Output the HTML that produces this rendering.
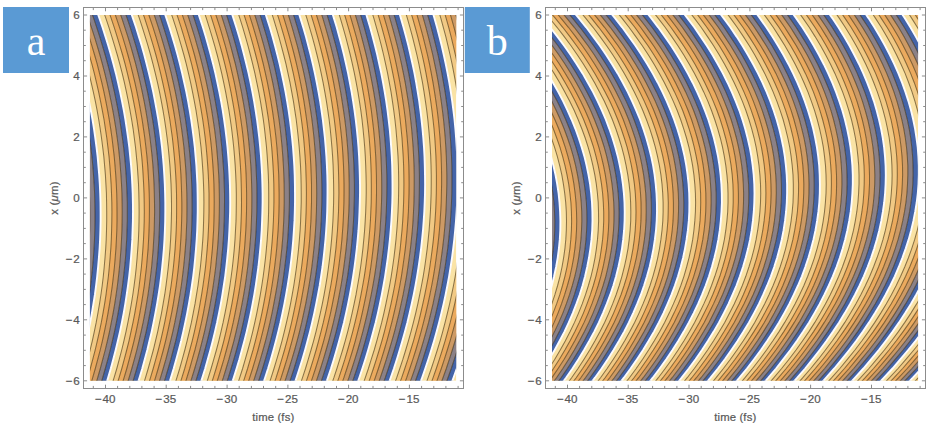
<!DOCTYPE html><html><head><meta charset="utf-8"><style>html,body{margin:0;padding:0;background:#fff;width:927px;height:425px;overflow:hidden}svg{display:block}text{font-family:"Liberation Sans",sans-serif}</style></head><body>
<svg width="927" height="425" viewBox="0 0 927 425">
<rect width="927" height="425" fill="#fff"/>
<clipPath id="c0"><rect x="89.9" y="15" width="366.4" height="365.8"/></clipPath>
<g clip-path="url(#c0)">
<rect x="89.9" y="15" width="366.4" height="365.8" fill="#fae3a5"/>
<path d="M46.1,8.9 49.4,18.1 52.6,27.3 55.7,36.6 58.6,45.8 61.3,55 63.9,64.2 66.4,73.4 68.7,82.7 70.8,91.9 72.8,101.1 74.6,110.3 76.3,119.5 77.8,128.8 79.2,138 80.4,147.2 81.5,156.4 82.4,165.6 83.1,174.9 83.8,184.1 84.2,193.3 84.5,202.5 84.7,211.7 84.7,220.9 84.5,230.2 84.2,239.4 83.8,248.6 83.1,257.8 82.4,267 81.5,276.3 80.4,285.5 79.2,294.7 77.8,303.9 76.3,313.1 74.6,322.4 72.7,331.6 70.8,340.8 68.6,350 66.3,359.2 63.9,368.5 61.3,377.7 58.5,386.9 63.5,386.9 66.3,377.7 68.9,368.5 71.3,359.2 73.6,350 75.8,340.8 77.8,331.6 79.6,322.4 81.3,313.1 82.9,303.9 84.2,294.7 85.5,285.5 86.5,276.3 87.5,267 88.2,257.8 88.9,248.6 89.3,239.4 89.7,230.2 89.8,220.9 89.8,211.7 89.7,202.5 89.4,193.3 88.9,184.1 88.3,174.9 87.6,165.6 86.7,156.4 85.6,147.2 84.4,138 83,128.8 81.5,119.5 79.9,110.3 78,101.1 76.1,91.9 73.9,82.7 71.6,73.4 69.2,64.2 66.6,55 63.9,45.8 61,36.6 57.9,27.3 54.8,18.1 51.4,8.9Z" fill="#cd9a65"/>
<path d="M51.4,8.9 54.8,18.1 57.9,27.3 61,36.6 63.9,45.8 66.6,55 69.2,64.2 71.6,73.4 73.9,82.7 76.1,91.9 78,101.1 79.9,110.3 81.5,119.5 83,128.8 84.4,138 85.6,147.2 86.7,156.4 87.6,165.6 88.3,174.9 88.9,184.1 89.4,193.3 89.7,202.5 89.8,211.7 89.8,220.9 89.7,230.2 89.3,239.4 88.9,248.6 88.2,257.8 87.5,267 86.5,276.3 85.5,285.5 84.2,294.7 82.9,303.9 81.3,313.1 79.6,322.4 77.8,331.6 75.8,340.8 73.6,350 71.3,359.2 68.9,368.5 66.3,377.7 63.5,386.9 68.5,386.9 71.3,377.7 73.9,368.5 76.4,359.2 78.7,350 80.8,340.8 82.8,331.6 84.7,322.4 86.4,313.1 87.9,303.9 89.3,294.7 90.6,285.5 91.6,276.3 92.6,267 93.4,257.8 94,248.6 94.5,239.4 94.8,230.2 95,220.9 95,211.7 94.8,202.5 94.6,193.3 94.1,184.1 93.5,174.9 92.8,165.6 91.9,156.4 90.8,147.2 89.6,138 88.3,128.8 86.8,119.5 85.1,110.3 83.3,101.1 81.3,91.9 79.2,82.7 76.9,73.4 74.5,64.2 71.9,55 69.2,45.8 66.3,36.6 63.3,27.3 60.1,18.1 56.7,8.9Z" fill="#8b8187"/>
<path d="M56.7,8.9 60.1,18.1 63.3,27.3 66.3,36.6 69.2,45.8 71.9,55 74.5,64.2 76.9,73.4 79.2,82.7 81.3,91.9 83.3,101.1 85.1,110.3 86.8,119.5 88.3,128.8 89.6,138 90.8,147.2 91.9,156.4 92.8,165.6 93.5,174.9 94.1,184.1 94.6,193.3 94.8,202.5 95,211.7 95,220.9 94.8,230.2 94.5,239.4 94,248.6 93.4,257.8 92.6,267 91.6,276.3 90.6,285.5 89.3,294.7 87.9,303.9 86.4,313.1 84.7,322.4 82.8,331.6 80.8,340.8 78.7,350 76.4,359.2 73.9,368.5 71.3,377.7 68.5,386.9 74,386.9 76.7,377.7 79.4,368.5 81.8,359.2 84.1,350 86.3,340.8 88.3,331.6 90.2,322.4 91.9,313.1 93.4,303.9 94.9,294.7 96.1,285.5 97.2,276.3 98.1,267 98.9,257.8 99.6,248.6 100.1,239.4 100.4,230.2 100.6,220.9 100.6,211.7 100.5,202.5 100.2,193.3 99.8,184.1 99.2,174.9 98.4,165.6 97.6,156.4 96.5,147.2 95.3,138 94,128.8 92.5,119.5 90.8,110.3 89,101.1 87.1,91.9 84.9,82.7 82.7,73.4 80.3,64.2 77.7,55 75,45.8 72.1,36.6 69.1,27.3 65.9,18.1 62.6,8.9Z" fill="#4464a8"/>
<path d="M68.9,8.9 72.3,18.1 75.4,27.3 78.4,36.6 81.3,45.8 84,55 86.6,64.2 89,73.4 91.2,82.7 93.3,91.9 95.3,101.1 97.1,110.3 98.7,119.5 100.2,128.8 101.5,138 102.7,147.2 103.8,156.4 104.6,165.6 105.4,174.9 105.9,184.1 106.4,193.3 106.6,202.5 106.7,211.7 106.7,220.9 106.5,230.2 106.2,239.4 105.7,248.6 105,257.8 104.2,267 103.3,276.3 102.2,285.5 100.9,294.7 99.5,303.9 97.9,313.1 96.2,322.4 94.3,331.6 92.3,340.8 90.1,350 87.8,359.2 85.3,368.5 82.7,377.7 79.9,386.9 84.9,386.9 87.7,377.7 90.3,368.5 92.8,359.2 95.2,350 97.3,340.8 99.4,331.6 101.3,322.4 103,313.1 104.6,303.9 106,294.7 107.2,285.5 108.4,276.3 109.3,267 110.1,257.8 110.8,248.6 111.3,239.4 111.6,230.2 111.8,220.9 111.9,211.7 111.8,202.5 111.5,193.3 111.1,184.1 110.5,174.9 109.8,165.6 109,156.4 107.9,147.2 106.8,138 105.4,128.8 104,119.5 102.3,110.3 100.5,101.1 98.6,91.9 96.5,82.7 94.3,73.4 91.9,64.2 89.3,55 86.6,45.8 83.8,36.6 80.7,27.3 77.6,18.1 74.3,8.9Z" fill="#f1c984"/>
<path d="M74.3,8.9 77.6,18.1 80.7,27.3 83.8,36.6 86.6,45.8 89.3,55 91.9,64.2 94.3,73.4 96.5,82.7 98.6,91.9 100.5,101.1 102.3,110.3 104,119.5 105.4,128.8 106.8,138 107.9,147.2 109,156.4 109.8,165.6 110.5,174.9 111.1,184.1 111.5,193.3 111.8,202.5 111.9,211.7 111.8,220.9 111.6,230.2 111.3,239.4 110.8,248.6 110.1,257.8 109.3,267 108.4,276.3 107.2,285.5 106,294.7 104.6,303.9 103,313.1 101.3,322.4 99.4,331.6 97.3,340.8 95.2,350 92.8,359.2 90.3,368.5 87.7,377.7 84.9,386.9 89.9,386.9 92.7,377.7 95.3,368.5 97.8,359.2 100.2,350 102.4,340.8 104.4,331.6 106.3,322.4 108,313.1 109.6,303.9 111,294.7 112.3,285.5 113.4,276.3 114.4,267 115.2,257.8 115.9,248.6 116.4,239.4 116.8,230.2 117,220.9 117,211.7 116.9,202.5 116.7,193.3 116.3,184.1 115.7,174.9 115,165.6 114.2,156.4 113.1,147.2 112,138 110.7,128.8 109.2,119.5 107.6,110.3 105.8,101.1 103.9,91.9 101.8,82.7 99.5,73.4 97.2,64.2 94.6,55 91.9,45.8 89.1,36.6 86.1,27.3 82.9,18.1 79.6,8.9Z" fill="#ebaa5e"/>
<path d="M79.6,8.9 82.9,18.1 86.1,27.3 89.1,36.6 91.9,45.8 94.6,55 97.2,64.2 99.5,73.4 101.8,82.7 103.9,91.9 105.8,101.1 107.6,110.3 109.2,119.5 110.7,128.8 112,138 113.1,147.2 114.2,156.4 115,165.6 115.7,174.9 116.3,184.1 116.7,193.3 116.9,202.5 117,211.7 117,220.9 116.8,230.2 116.4,239.4 115.9,248.6 115.2,257.8 114.4,267 113.4,276.3 112.3,285.5 111,294.7 109.6,303.9 108,313.1 106.3,322.4 104.4,331.6 102.4,340.8 100.2,350 97.8,359.2 95.3,368.5 92.7,377.7 89.9,386.9 94.9,386.9 97.7,377.7 100.3,368.5 102.8,359.2 105.2,350 107.4,340.8 109.5,331.6 111.3,322.4 113.1,313.1 114.7,303.9 116.1,294.7 117.4,285.5 118.5,276.3 119.5,267 120.3,257.8 121,248.6 121.5,239.4 121.9,230.2 122.1,220.9 122.2,211.7 122.1,202.5 121.9,193.3 121.5,184.1 120.9,174.9 120.2,165.6 119.4,156.4 118.4,147.2 117.2,138 115.9,128.8 114.4,119.5 112.8,110.3 111,101.1 109.1,91.9 107,82.7 104.8,73.4 102.4,64.2 99.9,55 97.2,45.8 94.4,36.6 91.4,27.3 88.3,18.1 85,8.9Z" fill="#cd9a65"/>
<path d="M85,8.9 88.3,18.1 91.4,27.3 94.4,36.6 97.2,45.8 99.9,55 102.4,64.2 104.8,73.4 107,82.7 109.1,91.9 111,101.1 112.8,110.3 114.4,119.5 115.9,128.8 117.2,138 118.4,147.2 119.4,156.4 120.2,165.6 120.9,174.9 121.5,184.1 121.9,193.3 122.1,202.5 122.2,211.7 122.1,220.9 121.9,230.2 121.5,239.4 121,248.6 120.3,257.8 119.5,267 118.5,276.3 117.4,285.5 116.1,294.7 114.7,303.9 113.1,313.1 111.3,322.4 109.5,331.6 107.4,340.8 105.2,350 102.8,359.2 100.3,368.5 97.7,377.7 94.9,386.9 99.9,386.9 102.7,377.7 105.3,368.5 107.9,359.2 110.2,350 112.4,340.8 114.5,331.6 116.4,322.4 118.1,313.1 119.7,303.9 121.2,294.7 122.5,285.5 123.6,276.3 124.6,267 125.5,257.8 126.1,248.6 126.7,239.4 127,230.2 127.3,220.9 127.3,211.7 127.3,202.5 127,193.3 126.6,184.1 126.1,174.9 125.4,165.6 124.6,156.4 123.6,147.2 122.4,138 121.1,128.8 119.7,119.5 118.1,110.3 116.3,101.1 114.4,91.9 112.3,82.7 110.1,73.4 107.7,64.2 105.2,55 102.5,45.8 99.7,36.6 96.7,27.3 93.6,18.1 90.3,8.9Z" fill="#8b8187"/>
<path d="M90.3,8.9 93.6,18.1 96.7,27.3 99.7,36.6 102.5,45.8 105.2,55 107.7,64.2 110.1,73.4 112.3,82.7 114.4,91.9 116.3,101.1 118.1,110.3 119.7,119.5 121.1,128.8 122.4,138 123.6,147.2 124.6,156.4 125.4,165.6 126.1,174.9 126.6,184.1 127,193.3 127.3,202.5 127.3,211.7 127.3,220.9 127,230.2 126.7,239.4 126.1,248.6 125.5,257.8 124.6,267 123.6,276.3 122.5,285.5 121.2,294.7 119.7,303.9 118.1,313.1 116.4,322.4 114.5,331.6 112.4,340.8 110.2,350 107.9,359.2 105.3,368.5 102.7,377.7 99.9,386.9 105.3,386.9 108.1,377.7 110.8,368.5 113.3,359.2 115.7,350 117.9,340.8 120,331.6 121.9,322.4 123.7,313.1 125.3,303.9 126.7,294.7 128,285.5 129.2,276.3 130.2,267 131,257.8 131.7,248.6 132.3,239.4 132.6,230.2 132.9,220.9 133,211.7 132.9,202.5 132.7,193.3 132.3,184.1 131.8,174.9 131.1,165.6 130.2,156.4 129.3,147.2 128.1,138 126.8,128.8 125.4,119.5 123.8,110.3 122,101.1 120.1,91.9 118.1,82.7 115.9,73.4 113.5,64.2 111,55 108.3,45.8 105.5,36.6 102.5,27.3 99.4,18.1 96.1,8.9Z" fill="#4464a8"/>
<path d="M102.5,8.9 105.8,18.1 108.9,27.3 111.8,36.6 114.6,45.8 117.3,55 119.8,64.2 122.2,73.4 124.4,82.7 126.4,91.9 128.3,101.1 130,110.3 131.6,119.5 133.1,128.8 134.3,138 135.5,147.2 136.4,156.4 137.3,165.6 137.9,174.9 138.5,184.1 138.8,193.3 139,202.5 139.1,211.7 139,220.9 138.8,230.2 138.4,239.4 137.8,248.6 137.1,257.8 136.3,267 135.3,276.3 134.1,285.5 132.8,294.7 131.3,303.9 129.7,313.1 127.9,322.4 126,331.6 123.9,340.8 121.7,350 119.3,359.2 116.8,368.5 114.1,377.7 111.2,386.9 116.2,386.9 119.1,377.7 121.8,368.5 124.3,359.2 126.7,350 129,340.8 131,331.6 133,322.4 134.8,313.1 136.4,303.9 137.9,294.7 139.2,285.5 140.3,276.3 141.4,267 142.2,257.8 142.9,248.6 143.5,239.4 143.9,230.2 144.2,220.9 144.3,211.7 144.2,202.5 144,193.3 143.6,184.1 143.1,174.9 142.5,165.6 141.7,156.4 140.7,147.2 139.6,138 138.3,128.8 136.9,119.5 135.3,110.3 133.5,101.1 131.7,91.9 129.6,82.7 127.4,73.4 125.1,64.2 122.6,55 119.9,45.8 117.1,36.6 114.2,27.3 111.1,18.1 107.8,8.9Z" fill="#f1c984"/>
<path d="M107.8,8.9 111.1,18.1 114.2,27.3 117.1,36.6 119.9,45.8 122.6,55 125.1,64.2 127.4,73.4 129.6,82.7 131.7,91.9 133.5,101.1 135.3,110.3 136.9,119.5 138.3,128.8 139.6,138 140.7,147.2 141.7,156.4 142.5,165.6 143.1,174.9 143.6,184.1 144,193.3 144.2,202.5 144.3,211.7 144.2,220.9 143.9,230.2 143.5,239.4 142.9,248.6 142.2,257.8 141.4,267 140.3,276.3 139.2,285.5 137.9,294.7 136.4,303.9 134.8,313.1 133,322.4 131,331.6 129,340.8 126.7,350 124.3,359.2 121.8,368.5 119.1,377.7 116.2,386.9 121.2,386.9 124.1,377.7 126.8,368.5 129.3,359.2 131.7,350 134,340.8 136.1,331.6 138,322.4 139.8,313.1 141.4,303.9 142.9,294.7 144.3,285.5 145.4,276.3 146.5,267 147.3,257.8 148.1,248.6 148.6,239.4 149,230.2 149.3,220.9 149.4,211.7 149.4,202.5 149.2,193.3 148.8,184.1 148.3,174.9 147.7,165.6 146.9,156.4 145.9,147.2 144.8,138 143.5,128.8 142.1,119.5 140.5,110.3 138.8,101.1 136.9,91.9 134.9,82.7 132.7,73.4 130.4,64.2 127.9,55 125.3,45.8 122.5,36.6 119.5,27.3 116.4,18.1 113.2,8.9Z" fill="#ebaa5e"/>
<path d="M113.2,8.9 116.4,18.1 119.5,27.3 122.5,36.6 125.3,45.8 127.9,55 130.4,64.2 132.7,73.4 134.9,82.7 136.9,91.9 138.8,101.1 140.5,110.3 142.1,119.5 143.5,128.8 144.8,138 145.9,147.2 146.9,156.4 147.7,165.6 148.3,174.9 148.8,184.1 149.2,193.3 149.4,202.5 149.4,211.7 149.3,220.9 149,230.2 148.6,239.4 148.1,248.6 147.3,257.8 146.5,267 145.4,276.3 144.3,285.5 142.9,294.7 141.4,303.9 139.8,313.1 138,322.4 136.1,331.6 134,340.8 131.7,350 129.3,359.2 126.8,368.5 124.1,377.7 121.2,386.9 126.2,386.9 129.1,377.7 131.8,368.5 134.4,359.2 136.8,350 139,340.8 141.1,331.6 143.1,322.4 144.9,313.1 146.5,303.9 148,294.7 149.3,285.5 150.5,276.3 151.6,267 152.4,257.8 153.2,248.6 153.7,239.4 154.2,230.2 154.4,220.9 154.6,211.7 154.5,202.5 154.3,193.3 154,184.1 153.5,174.9 152.9,165.6 152.1,156.4 151.1,147.2 150,138 148.7,128.8 147.3,119.5 145.8,110.3 144.1,101.1 142.2,91.9 140.2,82.7 138,73.4 135.7,64.2 133.2,55 130.6,45.8 127.8,36.6 124.8,27.3 121.8,18.1 118.5,8.9Z" fill="#cd9a65"/>
<path d="M118.5,8.9 121.8,18.1 124.8,27.3 127.8,36.6 130.6,45.8 133.2,55 135.7,64.2 138,73.4 140.2,82.7 142.2,91.9 144.1,101.1 145.8,110.3 147.3,119.5 148.7,128.8 150,138 151.1,147.2 152.1,156.4 152.9,165.6 153.5,174.9 154,184.1 154.3,193.3 154.5,202.5 154.6,211.7 154.4,220.9 154.2,230.2 153.7,239.4 153.2,248.6 152.4,257.8 151.6,267 150.5,276.3 149.3,285.5 148,294.7 146.5,303.9 144.9,313.1 143.1,322.4 141.1,331.6 139,340.8 136.8,350 134.4,359.2 131.8,368.5 129.1,377.7 126.2,386.9 131.2,386.9 134.1,377.7 136.8,368.5 139.4,359.2 141.8,350 144,340.8 146.2,331.6 148.1,322.4 149.9,313.1 151.6,303.9 153.1,294.7 154.4,285.5 155.6,276.3 156.7,267 157.6,257.8 158.3,248.6 158.9,239.4 159.3,230.2 159.6,220.9 159.7,211.7 159.7,202.5 159.5,193.3 159.2,184.1 158.7,174.9 158.1,165.6 157.3,156.4 156.3,147.2 155.2,138 154,128.8 152.6,119.5 151,110.3 149.3,101.1 147.5,91.9 145.4,82.7 143.3,73.4 141,64.2 138.5,55 135.9,45.8 133.1,36.6 130.2,27.3 127.1,18.1 123.8,8.9Z" fill="#8b8187"/>
<path d="M123.8,8.9 127.1,18.1 130.2,27.3 133.1,36.6 135.9,45.8 138.5,55 141,64.2 143.3,73.4 145.4,82.7 147.5,91.9 149.3,101.1 151,110.3 152.6,119.5 154,128.8 155.2,138 156.3,147.2 157.3,156.4 158.1,165.6 158.7,174.9 159.2,184.1 159.5,193.3 159.7,202.5 159.7,211.7 159.6,220.9 159.3,230.2 158.9,239.4 158.3,248.6 157.6,257.8 156.7,267 155.6,276.3 154.4,285.5 153.1,294.7 151.6,303.9 149.9,313.1 148.1,322.4 146.2,331.6 144,340.8 141.8,350 139.4,359.2 136.8,368.5 134.1,377.7 131.2,386.9 136.6,386.9 139.5,377.7 142.3,368.5 144.8,359.2 147.3,350 149.5,340.8 151.7,331.6 153.6,322.4 155.4,313.1 157.1,303.9 158.6,294.7 160,285.5 161.2,276.3 162.2,267 163.1,257.8 163.9,248.6 164.5,239.4 164.9,230.2 165.2,220.9 165.3,211.7 165.3,202.5 165.1,193.3 164.8,184.1 164.3,174.9 163.7,165.6 162.9,156.4 162,147.2 160.9,138 159.7,128.8 158.3,119.5 156.7,110.3 155,101.1 153.2,91.9 151.2,82.7 149,73.4 146.7,64.2 144.3,55 141.7,45.8 138.9,36.6 136,27.3 132.9,18.1 129.7,8.9Z" fill="#4464a8"/>
<path d="M136,8.9 139.3,18.1 142.3,27.3 145.2,36.6 148,45.8 150.6,55 153,64.2 155.3,73.4 157.5,82.7 159.5,91.9 161.3,101.1 163,110.3 164.5,119.5 165.9,128.8 167.1,138 168.2,147.2 169.1,156.4 169.9,165.6 170.5,174.9 171,184.1 171.3,193.3 171.5,202.5 171.5,211.7 171.3,220.9 171,230.2 170.6,239.4 170,248.6 169.2,257.8 168.3,267 167.2,276.3 166,285.5 164.7,294.7 163.1,303.9 161.5,313.1 159.6,322.4 157.7,331.6 155.5,340.8 153.3,350 150.8,359.2 148.2,368.5 145.5,377.7 142.6,386.9 147.6,386.9 150.5,377.7 153.2,368.5 155.8,359.2 158.3,350 160.6,340.8 162.7,331.6 164.7,322.4 166.5,313.1 168.2,303.9 169.7,294.7 171.1,285.5 172.3,276.3 173.4,267 174.3,257.8 175.1,248.6 175.7,239.4 176.2,230.2 176.5,220.9 176.6,211.7 176.6,202.5 176.5,193.3 176.2,184.1 175.7,174.9 175.1,165.6 174.3,156.4 173.4,147.2 172.4,138 171.1,128.8 169.8,119.5 168.2,110.3 166.6,101.1 164.7,91.9 162.7,82.7 160.6,73.4 158.3,64.2 155.9,55 153.3,45.8 150.5,36.6 147.6,27.3 144.6,18.1 141.4,8.9Z" fill="#f1c984"/>
<path d="M141.4,8.9 144.6,18.1 147.6,27.3 150.5,36.6 153.3,45.8 155.9,55 158.3,64.2 160.6,73.4 162.7,82.7 164.7,91.9 166.6,101.1 168.2,110.3 169.8,119.5 171.1,128.8 172.4,138 173.4,147.2 174.3,156.4 175.1,165.6 175.7,174.9 176.2,184.1 176.5,193.3 176.6,202.5 176.6,211.7 176.5,220.9 176.2,230.2 175.7,239.4 175.1,248.6 174.3,257.8 173.4,267 172.3,276.3 171.1,285.5 169.7,294.7 168.2,303.9 166.5,313.1 164.7,322.4 162.7,331.6 160.6,340.8 158.3,350 155.8,359.2 153.2,368.5 150.5,377.7 147.6,386.9 152.6,386.9 155.5,377.7 158.2,368.5 160.8,359.2 163.3,350 165.6,340.8 167.7,331.6 169.7,322.4 171.6,313.1 173.3,303.9 174.8,294.7 176.2,285.5 177.4,276.3 178.5,267 179.4,257.8 180.2,248.6 180.8,239.4 181.3,230.2 181.6,220.9 181.8,211.7 181.8,202.5 181.6,193.3 181.3,184.1 180.9,174.9 180.3,165.6 179.5,156.4 178.6,147.2 177.6,138 176.4,128.8 175,119.5 173.5,110.3 171.8,101.1 170,91.9 168,82.7 165.9,73.4 163.6,64.2 161.2,55 158.6,45.8 155.9,36.6 153,27.3 149.9,18.1 146.7,8.9Z" fill="#ebaa5e"/>
<path d="M146.7,8.9 149.9,18.1 153,27.3 155.9,36.6 158.6,45.8 161.2,55 163.6,64.2 165.9,73.4 168,82.7 170,91.9 171.8,101.1 173.5,110.3 175,119.5 176.4,128.8 177.6,138 178.6,147.2 179.5,156.4 180.3,165.6 180.9,174.9 181.3,184.1 181.6,193.3 181.8,202.5 181.8,211.7 181.6,220.9 181.3,230.2 180.8,239.4 180.2,248.6 179.4,257.8 178.5,267 177.4,276.3 176.2,285.5 174.8,294.7 173.3,303.9 171.6,313.1 169.7,322.4 167.7,331.6 165.6,340.8 163.3,350 160.8,359.2 158.2,368.5 155.5,377.7 152.6,386.9 157.6,386.9 160.5,377.7 163.2,368.5 165.9,359.2 168.3,350 170.6,340.8 172.8,331.6 174.8,322.4 176.6,313.1 178.3,303.9 179.9,294.7 181.3,285.5 182.5,276.3 183.6,267 184.5,257.8 185.3,248.6 186,239.4 186.4,230.2 186.8,220.9 186.9,211.7 186.9,202.5 186.8,193.3 186.5,184.1 186.1,174.9 185.5,165.6 184.7,156.4 183.9,147.2 182.8,138 181.6,128.8 180.2,119.5 178.7,110.3 177.1,101.1 175.3,91.9 173.3,82.7 171.2,73.4 168.9,64.2 166.5,55 163.9,45.8 161.2,36.6 158.3,27.3 155.3,18.1 152.1,8.9Z" fill="#cd9a65"/>
<path d="M152.1,8.9 155.3,18.1 158.3,27.3 161.2,36.6 163.9,45.8 166.5,55 168.9,64.2 171.2,73.4 173.3,82.7 175.3,91.9 177.1,101.1 178.7,110.3 180.2,119.5 181.6,128.8 182.8,138 183.9,147.2 184.7,156.4 185.5,165.6 186.1,174.9 186.5,184.1 186.8,193.3 186.9,202.5 186.9,211.7 186.8,220.9 186.4,230.2 186,239.4 185.3,248.6 184.5,257.8 183.6,267 182.5,276.3 181.3,285.5 179.9,294.7 178.3,303.9 176.6,313.1 174.8,322.4 172.8,331.6 170.6,340.8 168.3,350 165.9,359.2 163.2,368.5 160.5,377.7 157.6,386.9 162.5,386.9 165.5,377.7 168.2,368.5 170.9,359.2 173.3,350 175.7,340.8 177.8,331.6 179.8,322.4 181.7,313.1 183.4,303.9 185,294.7 186.4,285.5 187.6,276.3 188.7,267 189.7,257.8 190.4,248.6 191.1,239.4 191.6,230.2 191.9,220.9 192.1,211.7 192.1,202.5 192,193.3 191.7,184.1 191.3,174.9 190.7,165.6 190,156.4 189.1,147.2 188,138 186.8,128.8 185.5,119.5 184,110.3 182.3,101.1 180.5,91.9 178.6,82.7 176.5,73.4 174.2,64.2 171.8,55 169.2,45.8 166.5,36.6 163.6,27.3 160.6,18.1 157.4,8.9Z" fill="#8b8187"/>
<path d="M157.4,8.9 160.6,18.1 163.6,27.3 166.5,36.6 169.2,45.8 171.8,55 174.2,64.2 176.5,73.4 178.6,82.7 180.5,91.9 182.3,101.1 184,110.3 185.5,119.5 186.8,128.8 188,138 189.1,147.2 190,156.4 190.7,165.6 191.3,174.9 191.7,184.1 192,193.3 192.1,202.5 192.1,211.7 191.9,220.9 191.6,230.2 191.1,239.4 190.4,248.6 189.7,257.8 188.7,267 187.6,276.3 186.4,285.5 185,294.7 183.4,303.9 181.7,313.1 179.8,322.4 177.8,331.6 175.7,340.8 173.3,350 170.9,359.2 168.2,368.5 165.5,377.7 162.5,386.9 168,386.9 170.9,377.7 173.7,368.5 176.3,359.2 178.8,350 181.2,340.8 183.3,331.6 185.3,322.4 187.2,313.1 188.9,303.9 190.5,294.7 191.9,285.5 193.2,276.3 194.3,267 195.2,257.8 196,248.6 196.7,239.4 197.2,230.2 197.5,220.9 197.7,211.7 197.7,202.5 197.6,193.3 197.4,184.1 196.9,174.9 196.4,165.6 195.6,156.4 194.8,147.2 193.7,138 192.5,128.8 191.2,119.5 189.7,110.3 188.1,101.1 186.3,91.9 184.3,82.7 182.2,73.4 180,64.2 177.6,55 175,45.8 172.3,36.6 169.4,27.3 166.4,18.1 163.2,8.9Z" fill="#4464a8"/>
<path d="M169.6,8.9 172.8,18.1 175.8,27.3 178.6,36.6 181.3,45.8 183.9,55 186.3,64.2 188.5,73.4 190.6,82.7 192.5,91.9 194.3,101.1 196,110.3 197.4,119.5 198.8,128.8 199.9,138 201,147.2 201.8,156.4 202.5,165.6 203.1,174.9 203.5,184.1 203.8,193.3 203.9,202.5 203.8,211.7 203.6,220.9 203.3,230.2 202.8,239.4 202.1,248.6 201.3,257.8 200.4,267 199.2,276.3 198,285.5 196.5,294.7 195,303.9 193.2,313.1 191.4,322.4 189.3,331.6 187.1,340.8 184.8,350 182.3,359.2 179.7,368.5 176.9,377.7 173.9,386.9 178.9,386.9 181.9,377.7 184.7,368.5 187.3,359.2 189.8,350 192.2,340.8 194.4,331.6 196.4,322.4 198.3,313.1 200,303.9 201.6,294.7 203,285.5 204.3,276.3 205.5,267 206.4,257.8 207.2,248.6 207.9,239.4 208.4,230.2 208.8,220.9 209,211.7 209,202.5 209,193.3 208.7,184.1 208.3,174.9 207.7,165.6 207,156.4 206.2,147.2 205.2,138 204,128.8 202.7,119.5 201.2,110.3 199.6,101.1 197.8,91.9 195.9,82.7 193.8,73.4 191.6,64.2 189.2,55 186.6,45.8 183.9,36.6 181.1,27.3 178.1,18.1 174.9,8.9Z" fill="#f1c984"/>
<path d="M174.9,8.9 178.1,18.1 181.1,27.3 183.9,36.6 186.6,45.8 189.2,55 191.6,64.2 193.8,73.4 195.9,82.7 197.8,91.9 199.6,101.1 201.2,110.3 202.7,119.5 204,128.8 205.2,138 206.2,147.2 207,156.4 207.7,165.6 208.3,174.9 208.7,184.1 209,193.3 209,202.5 209,211.7 208.8,220.9 208.4,230.2 207.9,239.4 207.2,248.6 206.4,257.8 205.5,267 204.3,276.3 203,285.5 201.6,294.7 200,303.9 198.3,313.1 196.4,322.4 194.4,331.6 192.2,340.8 189.8,350 187.3,359.2 184.7,368.5 181.9,377.7 178.9,386.9 183.9,386.9 186.9,377.7 189.7,368.5 192.3,359.2 194.9,350 197.2,340.8 199.4,331.6 201.5,322.4 203.4,313.1 205.1,303.9 206.7,294.7 208.1,285.5 209.4,276.3 210.6,267 211.5,257.8 212.4,248.6 213,239.4 213.6,230.2 213.9,220.9 214.1,211.7 214.2,202.5 214.1,193.3 213.9,184.1 213.5,174.9 212.9,165.6 212.2,156.4 211.4,147.2 210.4,138 209.2,128.8 207.9,119.5 206.4,110.3 204.8,101.1 203.1,91.9 201.1,82.7 199.1,73.4 196.8,64.2 194.5,55 191.9,45.8 189.2,36.6 186.4,27.3 183.4,18.1 180.3,8.9Z" fill="#ebaa5e"/>
<path d="M180.3,8.9 183.4,18.1 186.4,27.3 189.2,36.6 191.9,45.8 194.5,55 196.8,64.2 199.1,73.4 201.1,82.7 203.1,91.9 204.8,101.1 206.4,110.3 207.9,119.5 209.2,128.8 210.4,138 211.4,147.2 212.2,156.4 212.9,165.6 213.5,174.9 213.9,184.1 214.1,193.3 214.2,202.5 214.1,211.7 213.9,220.9 213.6,230.2 213,239.4 212.4,248.6 211.5,257.8 210.6,267 209.4,276.3 208.1,285.5 206.7,294.7 205.1,303.9 203.4,313.1 201.5,322.4 199.4,331.6 197.2,340.8 194.9,350 192.3,359.2 189.7,368.5 186.9,377.7 183.9,386.9 188.9,386.9 191.9,377.7 194.7,368.5 197.4,359.2 199.9,350 202.2,340.8 204.5,331.6 206.5,322.4 208.4,313.1 210.2,303.9 211.8,294.7 213.2,285.5 214.5,276.3 215.7,267 216.6,257.8 217.5,248.6 218.2,239.4 218.7,230.2 219.1,220.9 219.3,211.7 219.4,202.5 219.3,193.3 219.1,184.1 218.7,174.9 218.1,165.6 217.4,156.4 216.6,147.2 215.6,138 214.5,128.8 213.1,119.5 211.7,110.3 210.1,101.1 208.3,91.9 206.4,82.7 204.4,73.4 202.1,64.2 199.8,55 197.2,45.8 194.6,36.6 191.7,27.3 188.8,18.1 185.6,8.9Z" fill="#cd9a65"/>
<path d="M185.6,8.9 188.8,18.1 191.7,27.3 194.6,36.6 197.2,45.8 199.8,55 202.1,64.2 204.4,73.4 206.4,82.7 208.3,91.9 210.1,101.1 211.7,110.3 213.1,119.5 214.5,128.8 215.6,138 216.6,147.2 217.4,156.4 218.1,165.6 218.7,174.9 219.1,184.1 219.3,193.3 219.4,202.5 219.3,211.7 219.1,220.9 218.7,230.2 218.2,239.4 217.5,248.6 216.6,257.8 215.7,267 214.5,276.3 213.2,285.5 211.8,294.7 210.2,303.9 208.4,313.1 206.5,322.4 204.5,331.6 202.2,340.8 199.9,350 197.4,359.2 194.7,368.5 191.9,377.7 188.9,386.9 193.9,386.9 196.9,377.7 199.7,368.5 202.4,359.2 204.9,350 207.3,340.8 209.5,331.6 211.6,322.4 213.5,313.1 215.2,303.9 216.8,294.7 218.3,285.5 219.6,276.3 220.8,267 221.7,257.8 222.6,248.6 223.3,239.4 223.8,230.2 224.2,220.9 224.4,211.7 224.5,202.5 224.5,193.3 224.2,184.1 223.9,174.9 223.3,165.6 222.6,156.4 221.8,147.2 220.8,138 219.7,128.8 218.4,119.5 216.9,110.3 215.3,101.1 213.6,91.9 211.7,82.7 209.6,73.4 207.4,64.2 205.1,55 202.5,45.8 199.9,36.6 197.1,27.3 194.1,18.1 191,8.9Z" fill="#8b8187"/>
<path d="M191,8.9 194.1,18.1 197.1,27.3 199.9,36.6 202.5,45.8 205.1,55 207.4,64.2 209.6,73.4 211.7,82.7 213.6,91.9 215.3,101.1 216.9,110.3 218.4,119.5 219.7,128.8 220.8,138 221.8,147.2 222.6,156.4 223.3,165.6 223.9,174.9 224.2,184.1 224.5,193.3 224.5,202.5 224.4,211.7 224.2,220.9 223.8,230.2 223.3,239.4 222.6,248.6 221.7,257.8 220.8,267 219.6,276.3 218.3,285.5 216.8,294.7 215.2,303.9 213.5,313.1 211.6,322.4 209.5,331.6 207.3,340.8 204.9,350 202.4,359.2 199.7,368.5 196.9,377.7 193.9,386.9 199.3,386.9 202.3,377.7 205.2,368.5 207.8,359.2 210.4,350 212.8,340.8 215,331.6 217.1,322.4 219,313.1 220.8,303.9 222.4,294.7 223.8,285.5 225.2,276.3 226.3,267 227.3,257.8 228.2,248.6 228.9,239.4 229.4,230.2 229.8,220.9 230.1,211.7 230.2,202.5 230.1,193.3 229.9,184.1 229.5,174.9 229,165.6 228.3,156.4 227.5,147.2 226.5,138 225.4,128.8 224.1,119.5 222.7,110.3 221.1,101.1 219.3,91.9 217.4,82.7 215.4,73.4 213.2,64.2 210.8,55 208.3,45.8 205.7,36.6 202.9,27.3 199.9,18.1 196.8,8.9Z" fill="#4464a8"/>
<path d="M203.1,8.9 206.3,18.1 209.2,27.3 212,36.6 214.7,45.8 217.2,55 219.5,64.2 221.7,73.4 223.7,82.7 225.6,91.9 227.3,101.1 228.9,110.3 230.3,119.5 231.6,128.8 232.7,138 233.7,147.2 234.5,156.4 235.2,165.6 235.7,174.9 236.1,184.1 236.3,193.3 236.3,202.5 236.2,211.7 236,220.9 235.5,230.2 235,239.4 234.3,248.6 233.4,257.8 232.4,267 231.2,276.3 229.9,285.5 228.4,294.7 226.8,303.9 225,313.1 223.1,322.4 221,331.6 218.8,340.8 216.4,350 213.8,359.2 211.1,368.5 208.3,377.7 205.3,386.9 210.3,386.9 213.3,377.7 216.1,368.5 218.8,359.2 221.4,350 223.8,340.8 226,331.6 228.1,322.4 230.1,313.1 231.9,303.9 233.5,294.7 235,285.5 236.3,276.3 237.5,267 238.5,257.8 239.4,248.6 240.1,239.4 240.7,230.2 241.1,220.9 241.4,211.7 241.5,202.5 241.4,193.3 241.2,184.1 240.9,174.9 240.4,165.6 239.7,156.4 238.9,147.2 238,138 236.8,128.8 235.6,119.5 234.2,110.3 232.6,101.1 230.9,91.9 229,82.7 227,73.4 224.8,64.2 222.5,55 220,45.8 217.3,36.6 214.5,27.3 211.6,18.1 208.5,8.9Z" fill="#f1c984"/>
<path d="M208.5,8.9 211.6,18.1 214.5,27.3 217.3,36.6 220,45.8 222.5,55 224.8,64.2 227,73.4 229,82.7 230.9,91.9 232.6,101.1 234.2,110.3 235.6,119.5 236.8,128.8 238,138 238.9,147.2 239.7,156.4 240.4,165.6 240.9,174.9 241.2,184.1 241.4,193.3 241.5,202.5 241.4,211.7 241.1,220.9 240.7,230.2 240.1,239.4 239.4,248.6 238.5,257.8 237.5,267 236.3,276.3 235,285.5 233.5,294.7 231.9,303.9 230.1,313.1 228.1,322.4 226,331.6 223.8,340.8 221.4,350 218.8,359.2 216.1,368.5 213.3,377.7 210.3,386.9 215.3,386.9 218.3,377.7 221.1,368.5 223.9,359.2 226.4,350 228.8,340.8 231.1,331.6 233.2,322.4 235.1,313.1 236.9,303.9 238.6,294.7 240.1,285.5 241.4,276.3 242.6,267 243.6,257.8 244.5,248.6 245.2,239.4 245.8,230.2 246.2,220.9 246.5,211.7 246.6,202.5 246.6,193.3 246.4,184.1 246.1,174.9 245.6,165.6 244.9,156.4 244.1,147.2 243.2,138 242.1,128.8 240.8,119.5 239.4,110.3 237.8,101.1 236.1,91.9 234.3,82.7 232.2,73.4 230.1,64.2 227.7,55 225.3,45.8 222.6,36.6 219.9,27.3 216.9,18.1 213.8,8.9Z" fill="#ebaa5e"/>
<path d="M213.8,8.9 216.9,18.1 219.9,27.3 222.6,36.6 225.3,45.8 227.7,55 230.1,64.2 232.2,73.4 234.3,82.7 236.1,91.9 237.8,101.1 239.4,110.3 240.8,119.5 242.1,128.8 243.2,138 244.1,147.2 244.9,156.4 245.6,165.6 246.1,174.9 246.4,184.1 246.6,193.3 246.6,202.5 246.5,211.7 246.2,220.9 245.8,230.2 245.2,239.4 244.5,248.6 243.6,257.8 242.6,267 241.4,276.3 240.1,285.5 238.6,294.7 236.9,303.9 235.1,313.1 233.2,322.4 231.1,331.6 228.8,340.8 226.4,350 223.9,359.2 221.1,368.5 218.3,377.7 215.3,386.9 220.2,386.9 223.3,377.7 226.1,368.5 228.9,359.2 231.4,350 233.9,340.8 236.1,331.6 238.2,322.4 240.2,313.1 242,303.9 243.7,294.7 245.2,285.5 246.5,276.3 247.7,267 248.7,257.8 249.6,248.6 250.4,239.4 251,230.2 251.4,220.9 251.7,211.7 251.8,202.5 251.8,193.3 251.6,184.1 251.3,174.9 250.8,165.6 250.1,156.4 249.3,147.2 248.4,138 247.3,128.8 246.1,119.5 244.7,110.3 243.1,101.1 241.4,91.9 239.5,82.7 237.5,73.4 235.4,64.2 233,55 230.6,45.8 228,36.6 225.2,27.3 222.3,18.1 219.2,8.9Z" fill="#cd9a65"/>
<path d="M219.2,8.9 222.3,18.1 225.2,27.3 228,36.6 230.6,45.8 233,55 235.4,64.2 237.5,73.4 239.5,82.7 241.4,91.9 243.1,101.1 244.7,110.3 246.1,119.5 247.3,128.8 248.4,138 249.3,147.2 250.1,156.4 250.8,165.6 251.3,174.9 251.6,184.1 251.8,193.3 251.8,202.5 251.7,211.7 251.4,220.9 251,230.2 250.4,239.4 249.6,248.6 248.7,257.8 247.7,267 246.5,276.3 245.2,285.5 243.7,294.7 242,303.9 240.2,313.1 238.2,322.4 236.1,331.6 233.9,340.8 231.4,350 228.9,359.2 226.1,368.5 223.3,377.7 220.2,386.9 225.2,386.9 228.3,377.7 231.1,368.5 233.9,359.2 236.5,350 238.9,340.8 241.2,331.6 243.3,322.4 245.2,313.1 247.1,303.9 248.7,294.7 250.2,285.5 251.6,276.3 252.8,267 253.8,257.8 254.7,248.6 255.5,239.4 256.1,230.2 256.5,220.9 256.8,211.7 256.9,202.5 256.9,193.3 256.8,184.1 256.4,174.9 256,165.6 255.3,156.4 254.6,147.2 253.6,138 252.5,128.8 251.3,119.5 249.9,110.3 248.4,101.1 246.7,91.9 244.8,82.7 242.8,73.4 240.7,64.2 238.3,55 235.9,45.8 233.3,36.6 230.5,27.3 227.6,18.1 224.5,8.9Z" fill="#8b8187"/>
<path d="M224.5,8.9 227.6,18.1 230.5,27.3 233.3,36.6 235.9,45.8 238.3,55 240.7,64.2 242.8,73.4 244.8,82.7 246.7,91.9 248.4,101.1 249.9,110.3 251.3,119.5 252.5,128.8 253.6,138 254.6,147.2 255.3,156.4 256,165.6 256.4,174.9 256.8,184.1 256.9,193.3 256.9,202.5 256.8,211.7 256.5,220.9 256.1,230.2 255.5,239.4 254.7,248.6 253.8,257.8 252.8,267 251.6,276.3 250.2,285.5 248.7,294.7 247.1,303.9 245.2,313.1 243.3,322.4 241.2,331.6 238.9,340.8 236.5,350 233.9,359.2 231.1,368.5 228.3,377.7 225.2,386.9 230.7,386.9 233.7,377.7 236.6,368.5 239.4,359.2 241.9,350 244.4,340.8 246.7,331.6 248.8,322.4 250.8,313.1 252.6,303.9 254.3,294.7 255.8,285.5 257.1,276.3 258.4,267 259.4,257.8 260.3,248.6 261.1,239.4 261.7,230.2 262.1,220.9 262.4,211.7 262.6,202.5 262.6,193.3 262.4,184.1 262.1,174.9 261.6,165.6 261,156.4 260.2,147.2 259.3,138 258.2,128.8 257,119.5 255.6,110.3 254.1,101.1 252.4,91.9 250.6,82.7 248.6,73.4 246.4,64.2 244.1,55 241.7,45.8 239.1,36.6 236.3,27.3 233.4,18.1 230.3,8.9Z" fill="#4464a8"/>
<path d="M236.7,8.9 239.8,18.1 242.7,27.3 245.4,36.6 248,45.8 250.4,55 252.7,64.2 254.9,73.4 256.8,82.7 258.7,91.9 260.4,101.1 261.9,110.3 263.3,119.5 264.5,128.8 265.5,138 266.5,147.2 267.2,156.4 267.8,165.6 268.3,174.9 268.6,184.1 268.7,193.3 268.7,202.5 268.6,211.7 268.3,220.9 267.8,230.2 267.2,239.4 266.4,248.6 265.5,257.8 264.4,267 263.2,276.3 261.8,285.5 260.3,294.7 258.6,303.9 256.8,313.1 254.8,322.4 252.7,331.6 250.4,340.8 247.9,350 245.3,359.2 242.6,368.5 239.7,377.7 236.6,386.9 241.6,386.9 244.7,377.7 247.6,368.5 250.3,359.2 253,350 255.4,340.8 257.7,331.6 259.9,322.4 261.9,313.1 263.7,303.9 265.4,294.7 266.9,285.5 268.3,276.3 269.5,267 270.6,257.8 271.5,248.6 272.3,239.4 272.9,230.2 273.4,220.9 273.7,211.7 273.9,202.5 273.9,193.3 273.8,184.1 273.5,174.9 273,165.6 272.4,156.4 271.7,147.2 270.8,138 269.7,128.8 268.5,119.5 267.1,110.3 265.6,101.1 263.9,91.9 262.1,82.7 260.1,73.4 258,64.2 255.7,55 253.3,45.8 250.7,36.6 248,27.3 245.1,18.1 242,8.9Z" fill="#f1c984"/>
<path d="M242,8.9 245.1,18.1 248,27.3 250.7,36.6 253.3,45.8 255.7,55 258,64.2 260.1,73.4 262.1,82.7 263.9,91.9 265.6,101.1 267.1,110.3 268.5,119.5 269.7,128.8 270.8,138 271.7,147.2 272.4,156.4 273,165.6 273.5,174.9 273.8,184.1 273.9,193.3 273.9,202.5 273.7,211.7 273.4,220.9 272.9,230.2 272.3,239.4 271.5,248.6 270.6,257.8 269.5,267 268.3,276.3 266.9,285.5 265.4,294.7 263.7,303.9 261.9,313.1 259.9,322.4 257.7,331.6 255.4,340.8 253,350 250.3,359.2 247.6,368.5 244.7,377.7 241.6,386.9 246.6,386.9 249.7,377.7 252.6,368.5 255.4,359.2 258,350 260.4,340.8 262.7,331.6 264.9,322.4 266.9,313.1 268.8,303.9 270.5,294.7 272,285.5 273.4,276.3 274.6,267 275.7,257.8 276.7,248.6 277.4,239.4 278.1,230.2 278.6,220.9 278.9,211.7 279.1,202.5 279.1,193.3 278.9,184.1 278.7,174.9 278.2,165.6 277.6,156.4 276.9,147.2 276,138 274.9,128.8 273.7,119.5 272.4,110.3 270.9,101.1 269.2,91.9 267.4,82.7 265.4,73.4 263.3,64.2 261,55 258.6,45.8 256,36.6 253.3,27.3 250.4,18.1 247.4,8.9Z" fill="#ebaa5e"/>
<path d="M247.4,8.9 250.4,18.1 253.3,27.3 256,36.6 258.6,45.8 261,55 263.3,64.2 265.4,73.4 267.4,82.7 269.2,91.9 270.9,101.1 272.4,110.3 273.7,119.5 274.9,128.8 276,138 276.9,147.2 277.6,156.4 278.2,165.6 278.7,174.9 278.9,184.1 279.1,193.3 279.1,202.5 278.9,211.7 278.6,220.9 278.1,230.2 277.4,239.4 276.7,248.6 275.7,257.8 274.6,267 273.4,276.3 272,285.5 270.5,294.7 268.8,303.9 266.9,313.1 264.9,322.4 262.7,331.6 260.4,340.8 258,350 255.4,359.2 252.6,368.5 249.7,377.7 246.6,386.9 251.6,386.9 254.7,377.7 257.6,368.5 260.4,359.2 263,350 265.5,340.8 267.8,331.6 270,322.4 272,313.1 273.8,303.9 275.5,294.7 277.1,285.5 278.5,276.3 279.7,267 280.8,257.8 281.8,248.6 282.6,239.4 283.2,230.2 283.7,220.9 284,211.7 284.2,202.5 284.2,193.3 284.1,184.1 283.8,174.9 283.4,165.6 282.8,156.4 282.1,147.2 281.2,138 280.2,128.8 279,119.5 277.6,110.3 276.1,101.1 274.5,91.9 272.7,82.7 270.7,73.4 268.6,64.2 266.3,55 263.9,45.8 261.3,36.6 258.6,27.3 255.8,18.1 252.7,8.9Z" fill="#cd9a65"/>
<path d="M252.7,8.9 255.8,18.1 258.6,27.3 261.3,36.6 263.9,45.8 266.3,55 268.6,64.2 270.7,73.4 272.7,82.7 274.5,91.9 276.1,101.1 277.6,110.3 279,119.5 280.2,128.8 281.2,138 282.1,147.2 282.8,156.4 283.4,165.6 283.8,174.9 284.1,184.1 284.2,193.3 284.2,202.5 284,211.7 283.7,220.9 283.2,230.2 282.6,239.4 281.8,248.6 280.8,257.8 279.7,267 278.5,276.3 277.1,285.5 275.5,294.7 273.8,303.9 272,313.1 270,322.4 267.8,331.6 265.5,340.8 263,350 260.4,359.2 257.6,368.5 254.7,377.7 251.6,386.9 256.6,386.9 259.7,377.7 262.6,368.5 265.4,359.2 268,350 270.5,340.8 272.8,331.6 275,322.4 277,313.1 278.9,303.9 280.6,294.7 282.2,285.5 283.6,276.3 284.8,267 285.9,257.8 286.9,248.6 287.7,239.4 288.3,230.2 288.8,220.9 289.2,211.7 289.4,202.5 289.4,193.3 289.3,184.1 289,174.9 288.6,165.6 288,156.4 287.3,147.2 286.4,138 285.4,128.8 284.2,119.5 282.9,110.3 281.4,101.1 279.7,91.9 277.9,82.7 276,73.4 273.9,64.2 271.6,55 269.2,45.8 266.7,36.6 263.9,27.3 261.1,18.1 258.1,8.9Z" fill="#8b8187"/>
<path d="M258.1,8.9 261.1,18.1 263.9,27.3 266.7,36.6 269.2,45.8 271.6,55 273.9,64.2 276,73.4 277.9,82.7 279.7,91.9 281.4,101.1 282.9,110.3 284.2,119.5 285.4,128.8 286.4,138 287.3,147.2 288,156.4 288.6,165.6 289,174.9 289.3,184.1 289.4,193.3 289.4,202.5 289.2,211.7 288.8,220.9 288.3,230.2 287.7,239.4 286.9,248.6 285.9,257.8 284.8,267 283.6,276.3 282.2,285.5 280.6,294.7 278.9,303.9 277,313.1 275,322.4 272.8,331.6 270.5,340.8 268,350 265.4,359.2 262.6,368.5 259.7,377.7 256.6,386.9 262,386.9 265.1,377.7 268.1,368.5 270.9,359.2 273.5,350 276,340.8 278.3,331.6 280.5,322.4 282.5,313.1 284.4,303.9 286.1,294.7 287.7,285.5 289.1,276.3 290.4,267 291.5,257.8 292.5,248.6 293.3,239.4 293.9,230.2 294.5,220.9 294.8,211.7 295,202.5 295,193.3 294.9,184.1 294.7,174.9 294.3,165.6 293.7,156.4 293,147.2 292.1,138 291.1,128.8 289.9,119.5 288.6,110.3 287.1,101.1 285.5,91.9 283.7,82.7 281.7,73.4 279.7,64.2 277.4,55 275,45.8 272.5,36.6 269.8,27.3 266.9,18.1 263.9,8.9Z" fill="#4464a8"/>
<path d="M270.3,8.9 273.3,18.1 276.1,27.3 278.8,36.6 281.3,45.8 283.7,55 286,64.2 288,73.4 290,82.7 291.7,91.9 293.4,101.1 294.8,110.3 296.2,119.5 297.3,128.8 298.3,138 299.2,147.2 299.9,156.4 300.5,165.6 300.9,174.9 301.1,184.1 301.2,193.3 301.2,202.5 300.9,211.7 300.6,220.9 300.1,230.2 299.4,239.4 298.6,248.6 297.6,257.8 296.5,267 295.2,276.3 293.8,285.5 292.2,294.7 290.5,303.9 288.6,313.1 286.5,322.4 284.3,331.6 282,340.8 279.5,350 276.8,359.2 274,368.5 271.1,377.7 268,386.9 272.9,386.9 276.1,377.7 279,368.5 281.8,359.2 284.5,350 287,340.8 289.4,331.6 291.6,322.4 293.6,313.1 295.5,303.9 297.3,294.7 298.9,285.5 300.3,276.3 301.6,267 302.7,257.8 303.7,248.6 304.5,239.4 305.2,230.2 305.7,220.9 306.1,211.7 306.3,202.5 306.4,193.3 306.3,184.1 306,174.9 305.7,165.6 305.1,156.4 304.4,147.2 303.6,138 302.6,128.8 301.4,119.5 300.1,110.3 298.6,101.1 297,91.9 295.2,82.7 293.3,73.4 291.2,64.2 289,55 286.6,45.8 284.1,36.6 281.4,27.3 278.6,18.1 275.6,8.9Z" fill="#f1c984"/>
<path d="M275.6,8.9 278.6,18.1 281.4,27.3 284.1,36.6 286.6,45.8 289,55 291.2,64.2 293.3,73.4 295.2,82.7 297,91.9 298.6,101.1 300.1,110.3 301.4,119.5 302.6,128.8 303.6,138 304.4,147.2 305.1,156.4 305.7,165.6 306,174.9 306.3,184.1 306.4,193.3 306.3,202.5 306.1,211.7 305.7,220.9 305.2,230.2 304.5,239.4 303.7,248.6 302.7,257.8 301.6,267 300.3,276.3 298.9,285.5 297.3,294.7 295.5,303.9 293.6,313.1 291.6,322.4 289.4,331.6 287,340.8 284.5,350 281.8,359.2 279,368.5 276.1,377.7 272.9,386.9 277.9,386.9 281.1,377.7 284,368.5 286.9,359.2 289.5,350 292,340.8 294.4,331.6 296.6,322.4 298.7,313.1 300.6,303.9 302.3,294.7 303.9,285.5 305.4,276.3 306.7,267 307.8,257.8 308.8,248.6 309.7,239.4 310.3,230.2 310.9,220.9 311.2,211.7 311.5,202.5 311.5,193.3 311.5,184.1 311.2,174.9 310.8,165.6 310.3,156.4 309.6,147.2 308.8,138 307.8,128.8 306.6,119.5 305.3,110.3 303.9,101.1 302.3,91.9 300.5,82.7 298.6,73.4 296.5,64.2 294.3,55 291.9,45.8 289.4,36.6 286.7,27.3 283.9,18.1 280.9,8.9Z" fill="#ebaa5e"/>
<path d="M280.9,8.9 283.9,18.1 286.7,27.3 289.4,36.6 291.9,45.8 294.3,55 296.5,64.2 298.6,73.4 300.5,82.7 302.3,91.9 303.9,101.1 305.3,110.3 306.6,119.5 307.8,128.8 308.8,138 309.6,147.2 310.3,156.4 310.8,165.6 311.2,174.9 311.5,184.1 311.5,193.3 311.5,202.5 311.2,211.7 310.9,220.9 310.3,230.2 309.7,239.4 308.8,248.6 307.8,257.8 306.7,267 305.4,276.3 303.9,285.5 302.3,294.7 300.6,303.9 298.7,313.1 296.6,322.4 294.4,331.6 292,340.8 289.5,350 286.9,359.2 284,368.5 281.1,377.7 277.9,386.9 282.9,386.9 286.1,377.7 289,368.5 291.9,359.2 294.6,350 297.1,340.8 299.5,331.6 301.7,322.4 303.7,313.1 305.7,303.9 307.4,294.7 309,285.5 310.5,276.3 311.8,267 312.9,257.8 313.9,248.6 314.8,239.4 315.5,230.2 316,220.9 316.4,211.7 316.6,202.5 316.7,193.3 316.6,184.1 316.4,174.9 316,165.6 315.5,156.4 314.8,147.2 314,138 313,128.8 311.9,119.5 310.6,110.3 309.1,101.1 307.5,91.9 305.8,82.7 303.9,73.4 301.8,64.2 299.6,55 297.3,45.8 294.7,36.6 292.1,27.3 289.3,18.1 286.3,8.9Z" fill="#cd9a65"/>
<path d="M286.3,8.9 289.3,18.1 292.1,27.3 294.7,36.6 297.3,45.8 299.6,55 301.8,64.2 303.9,73.4 305.8,82.7 307.5,91.9 309.1,101.1 310.6,110.3 311.9,119.5 313,128.8 314,138 314.8,147.2 315.5,156.4 316,165.6 316.4,174.9 316.6,184.1 316.7,193.3 316.6,202.5 316.4,211.7 316,220.9 315.5,230.2 314.8,239.4 313.9,248.6 312.9,257.8 311.8,267 310.5,276.3 309,285.5 307.4,294.7 305.7,303.9 303.7,313.1 301.7,322.4 299.5,331.6 297.1,340.8 294.6,350 291.9,359.2 289,368.5 286.1,377.7 282.9,386.9 287.9,386.9 291.1,377.7 294.1,368.5 296.9,359.2 299.6,350 302.1,340.8 304.5,331.6 306.7,322.4 308.8,313.1 310.7,303.9 312.5,294.7 314.1,285.5 315.6,276.3 316.9,267 318,257.8 319.1,248.6 319.9,239.4 320.6,230.2 321.2,220.9 321.5,211.7 321.8,202.5 321.9,193.3 321.8,184.1 321.6,174.9 321.2,165.6 320.7,156.4 320,147.2 319.2,138 318.2,128.8 317.1,119.5 315.8,110.3 314.4,101.1 312.8,91.9 311.1,82.7 309.2,73.4 307.1,64.2 304.9,55 302.6,45.8 300.1,36.6 297.4,27.3 294.6,18.1 291.6,8.9Z" fill="#8b8187"/>
<path d="M291.6,8.9 294.6,18.1 297.4,27.3 300.1,36.6 302.6,45.8 304.9,55 307.1,64.2 309.2,73.4 311.1,82.7 312.8,91.9 314.4,101.1 315.8,110.3 317.1,119.5 318.2,128.8 319.2,138 320,147.2 320.7,156.4 321.2,165.6 321.6,174.9 321.8,184.1 321.9,193.3 321.8,202.5 321.5,211.7 321.2,220.9 320.6,230.2 319.9,239.4 319.1,248.6 318,257.8 316.9,267 315.6,276.3 314.1,285.5 312.5,294.7 310.7,303.9 308.8,313.1 306.7,322.4 304.5,331.6 302.1,340.8 299.6,350 296.9,359.2 294.1,368.5 291.1,377.7 287.9,386.9 293.4,386.9 296.5,377.7 299.5,368.5 302.4,359.2 305.1,350 307.6,340.8 310,331.6 312.2,322.4 314.3,313.1 316.2,303.9 318,294.7 319.7,285.5 321.1,276.3 322.5,267 323.6,257.8 324.6,248.6 325.5,239.4 326.2,230.2 326.8,220.9 327.2,211.7 327.4,202.5 327.5,193.3 327.5,184.1 327.3,174.9 326.9,165.6 326.4,156.4 325.7,147.2 324.9,138 323.9,128.8 322.8,119.5 321.5,110.3 320.1,101.1 318.5,91.9 316.8,82.7 314.9,73.4 312.9,64.2 310.7,55 308.3,45.8 305.9,36.6 303.2,27.3 300.4,18.1 297.4,8.9Z" fill="#4464a8"/>
<path d="M303.8,8.9 306.8,18.1 309.5,27.3 312.2,36.6 314.7,45.8 317,55 319.2,64.2 321.2,73.4 323.1,82.7 324.8,91.9 326.4,101.1 327.8,110.3 329.1,119.5 330.2,128.8 331.1,138 331.9,147.2 332.6,156.4 333.1,165.6 333.4,174.9 333.6,184.1 333.7,193.3 333.6,202.5 333.3,211.7 332.9,220.9 332.3,230.2 331.6,239.4 330.7,248.6 329.7,257.8 328.5,267 327.2,276.3 325.7,285.5 324.1,294.7 322.3,303.9 320.3,313.1 318.2,322.4 316,331.6 313.6,340.8 311,350 308.3,359.2 305.5,368.5 302.5,377.7 299.3,386.9 304.3,386.9 307.5,377.7 310.5,368.5 313.4,359.2 316.1,350 318.6,340.8 321,331.6 323.3,322.4 325.4,313.1 327.4,303.9 329.1,294.7 330.8,285.5 332.3,276.3 333.6,267 334.8,257.8 335.9,248.6 336.7,239.4 337.5,230.2 338,220.9 338.5,211.7 338.7,202.5 338.9,193.3 338.8,184.1 338.6,174.9 338.3,165.6 337.8,156.4 337.2,147.2 336.4,138 335.4,128.8 334.3,119.5 333,110.3 331.6,101.1 330.1,91.9 328.4,82.7 326.5,73.4 324.5,64.2 322.3,55 320,45.8 317.5,36.6 314.9,27.3 312.1,18.1 309.2,8.9Z" fill="#f1c984"/>
<path d="M309.2,8.9 312.1,18.1 314.9,27.3 317.5,36.6 320,45.8 322.3,55 324.5,64.2 326.5,73.4 328.4,82.7 330.1,91.9 331.6,101.1 333,110.3 334.3,119.5 335.4,128.8 336.4,138 337.2,147.2 337.8,156.4 338.3,165.6 338.6,174.9 338.8,184.1 338.9,193.3 338.7,202.5 338.5,211.7 338,220.9 337.5,230.2 336.7,239.4 335.9,248.6 334.8,257.8 333.6,267 332.3,276.3 330.8,285.5 329.1,294.7 327.4,303.9 325.4,313.1 323.3,322.4 321,331.6 318.6,340.8 316.1,350 313.4,359.2 310.5,368.5 307.5,377.7 304.3,386.9 309.3,386.9 312.5,377.7 315.5,368.5 318.4,359.2 321.1,350 323.7,340.8 326.1,331.6 328.3,322.4 330.5,313.1 332.4,303.9 334.2,294.7 335.9,285.5 337.4,276.3 338.7,267 339.9,257.8 341,248.6 341.9,239.4 342.6,230.2 343.2,220.9 343.6,211.7 343.9,202.5 344,193.3 344,184.1 343.8,174.9 343.5,165.6 343,156.4 342.4,147.2 341.6,138 340.6,128.8 339.5,119.5 338.3,110.3 336.9,101.1 335.3,91.9 333.6,82.7 331.8,73.4 329.8,64.2 327.6,55 325.3,45.8 322.8,36.6 320.2,27.3 317.4,18.1 314.5,8.9Z" fill="#ebaa5e"/>
<path d="M314.5,8.9 317.4,18.1 320.2,27.3 322.8,36.6 325.3,45.8 327.6,55 329.8,64.2 331.8,73.4 333.6,82.7 335.3,91.9 336.9,101.1 338.3,110.3 339.5,119.5 340.6,128.8 341.6,138 342.4,147.2 343,156.4 343.5,165.6 343.8,174.9 344,184.1 344,193.3 343.9,202.5 343.6,211.7 343.2,220.9 342.6,230.2 341.9,239.4 341,248.6 339.9,257.8 338.7,267 337.4,276.3 335.9,285.5 334.2,294.7 332.4,303.9 330.5,313.1 328.3,322.4 326.1,331.6 323.7,340.8 321.1,350 318.4,359.2 315.5,368.5 312.5,377.7 309.3,386.9 314.3,386.9 317.5,377.7 320.5,368.5 323.4,359.2 326.1,350 328.7,340.8 331.1,331.6 333.4,322.4 335.5,313.1 337.5,303.9 339.3,294.7 341,285.5 342.5,276.3 343.8,267 345,257.8 346.1,248.6 347,239.4 347.7,230.2 348.3,220.9 348.8,211.7 349.1,202.5 349.2,193.3 349.2,184.1 349,174.9 348.7,165.6 348.2,156.4 347.6,147.2 346.8,138 345.9,128.8 344.8,119.5 343.5,110.3 342.1,101.1 340.6,91.9 338.9,82.7 337.1,73.4 335.1,64.2 332.9,55 330.6,45.8 328.1,36.6 325.5,27.3 322.8,18.1 319.8,8.9Z" fill="#cd9a65"/>
<path d="M319.8,8.9 322.8,18.1 325.5,27.3 328.1,36.6 330.6,45.8 332.9,55 335.1,64.2 337.1,73.4 338.9,82.7 340.6,91.9 342.1,101.1 343.5,110.3 344.8,119.5 345.9,128.8 346.8,138 347.6,147.2 348.2,156.4 348.7,165.6 349,174.9 349.2,184.1 349.2,193.3 349.1,202.5 348.8,211.7 348.3,220.9 347.7,230.2 347,239.4 346.1,248.6 345,257.8 343.8,267 342.5,276.3 341,285.5 339.3,294.7 337.5,303.9 335.5,313.1 333.4,322.4 331.1,331.6 328.7,340.8 326.1,350 323.4,359.2 320.5,368.5 317.5,377.7 314.3,386.9 319.3,386.9 322.5,377.7 325.5,368.5 328.4,359.2 331.1,350 333.7,340.8 336.2,331.6 338.4,322.4 340.6,313.1 342.5,303.9 344.4,294.7 346,285.5 347.6,276.3 348.9,267 350.1,257.8 351.2,248.6 352.1,239.4 352.9,230.2 353.5,220.9 353.9,211.7 354.2,202.5 354.4,193.3 354.4,184.1 354.2,174.9 353.9,165.6 353.4,156.4 352.8,147.2 352,138 351.1,128.8 350,119.5 348.8,110.3 347.4,101.1 345.9,91.9 344.2,82.7 342.3,73.4 340.3,64.2 338.2,55 335.9,45.8 333.4,36.6 330.8,27.3 328.1,18.1 325.2,8.9Z" fill="#8b8187"/>
<path d="M325.2,8.9 328.1,18.1 330.8,27.3 333.4,36.6 335.9,45.8 338.2,55 340.3,64.2 342.3,73.4 344.2,82.7 345.9,91.9 347.4,101.1 348.8,110.3 350,119.5 351.1,128.8 352,138 352.8,147.2 353.4,156.4 353.9,165.6 354.2,174.9 354.4,184.1 354.4,193.3 354.2,202.5 353.9,211.7 353.5,220.9 352.9,230.2 352.1,239.4 351.2,248.6 350.1,257.8 348.9,267 347.6,276.3 346,285.5 344.4,294.7 342.5,303.9 340.6,313.1 338.4,322.4 336.2,331.6 333.7,340.8 331.1,350 328.4,359.2 325.5,368.5 322.5,377.7 319.3,386.9 324.7,386.9 327.9,377.7 331,368.5 333.9,359.2 336.6,350 339.2,340.8 341.7,331.6 344,322.4 346.1,313.1 348.1,303.9 349.9,294.7 351.6,285.5 353.1,276.3 354.5,267 355.7,257.8 356.8,248.6 357.7,239.4 358.5,230.2 359.1,220.9 359.5,211.7 359.8,202.5 360,193.3 360,184.1 359.8,174.9 359.5,165.6 359.1,156.4 358.5,147.2 357.7,138 356.8,128.8 355.7,119.5 354.5,110.3 353.1,101.1 351.6,91.9 349.9,82.7 348.1,73.4 346.1,64.2 344,55 341.7,45.8 339.2,36.6 336.7,27.3 333.9,18.1 331,8.9Z" fill="#4464a8"/>
<path d="M337.4,8.9 340.3,18.1 343,27.3 345.6,36.6 348,45.8 350.3,55 352.4,64.2 354.4,73.4 356.2,82.7 357.9,91.9 359.4,101.1 360.8,110.3 362,119.5 363,128.8 363.9,138 364.7,147.2 365.3,156.4 365.7,165.6 366,174.9 366.2,184.1 366.2,193.3 366,202.5 365.7,211.7 365.2,220.9 364.6,230.2 363.8,239.4 362.9,248.6 361.8,257.8 360.6,267 359.2,276.3 357.6,285.5 356,294.7 354.1,303.9 352.1,313.1 350,322.4 347.7,331.6 345.2,340.8 342.6,350 339.8,359.2 336.9,368.5 333.9,377.7 330.6,386.9 335.6,386.9 338.9,377.7 341.9,368.5 344.9,359.2 347.6,350 350.2,340.8 352.7,331.6 355,322.4 357.2,313.1 359.2,303.9 361,294.7 362.7,285.5 364.3,276.3 365.7,267 366.9,257.8 368,248.6 368.9,239.4 369.7,230.2 370.4,220.9 370.8,211.7 371.2,202.5 371.3,193.3 371.3,184.1 371.2,174.9 370.9,165.6 370.5,156.4 369.9,147.2 369.2,138 368.3,128.8 367.2,119.5 366,110.3 364.7,101.1 363.1,91.9 361.5,82.7 359.7,73.4 357.7,64.2 355.6,55 353.3,45.8 350.9,36.6 348.3,27.3 345.6,18.1 342.7,8.9Z" fill="#f1c984"/>
<path d="M342.7,8.9 345.6,18.1 348.3,27.3 350.9,36.6 353.3,45.8 355.6,55 357.7,64.2 359.7,73.4 361.5,82.7 363.1,91.9 364.7,101.1 366,110.3 367.2,119.5 368.3,128.8 369.2,138 369.9,147.2 370.5,156.4 370.9,165.6 371.2,174.9 371.3,184.1 371.3,193.3 371.2,202.5 370.8,211.7 370.4,220.9 369.7,230.2 368.9,239.4 368,248.6 366.9,257.8 365.7,267 364.3,276.3 362.7,285.5 361,294.7 359.2,303.9 357.2,313.1 355,322.4 352.7,331.6 350.2,340.8 347.6,350 344.9,359.2 341.9,368.5 338.9,377.7 335.6,386.9 340.6,386.9 343.9,377.7 346.9,368.5 349.9,359.2 352.7,350 355.3,340.8 357.7,331.6 360.1,322.4 362.2,313.1 364.2,303.9 366.1,294.7 367.8,285.5 369.4,276.3 370.8,267 372,257.8 373.1,248.6 374.1,239.4 374.9,230.2 375.5,220.9 376,211.7 376.3,202.5 376.5,193.3 376.5,184.1 376.4,174.9 376.1,165.6 375.7,156.4 375.1,147.2 374.4,138 373.5,128.8 372.4,119.5 371.3,110.3 369.9,101.1 368.4,91.9 366.8,82.7 365,73.4 363,64.2 360.9,55 358.6,45.8 356.2,36.6 353.6,27.3 350.9,18.1 348,8.9Z" fill="#ebaa5e"/>
<path d="M348,8.9 350.9,18.1 353.6,27.3 356.2,36.6 358.6,45.8 360.9,55 363,64.2 365,73.4 366.8,82.7 368.4,91.9 369.9,101.1 371.3,110.3 372.4,119.5 373.5,128.8 374.4,138 375.1,147.2 375.7,156.4 376.1,165.6 376.4,174.9 376.5,184.1 376.5,193.3 376.3,202.5 376,211.7 375.5,220.9 374.9,230.2 374.1,239.4 373.1,248.6 372,257.8 370.8,267 369.4,276.3 367.8,285.5 366.1,294.7 364.2,303.9 362.2,313.1 360.1,322.4 357.7,331.6 355.3,340.8 352.7,350 349.9,359.2 346.9,368.5 343.9,377.7 340.6,386.9 345.6,386.9 348.9,377.7 351.9,368.5 354.9,359.2 357.7,350 360.3,340.8 362.8,331.6 365.1,322.4 367.3,313.1 369.3,303.9 371.2,294.7 372.9,285.5 374.5,276.3 375.9,267 377.1,257.8 378.2,248.6 379.2,239.4 380,230.2 380.6,220.9 381.1,211.7 381.5,202.5 381.7,193.3 381.7,184.1 381.6,174.9 381.3,165.6 380.9,156.4 380.3,147.2 379.6,138 378.7,128.8 377.7,119.5 376.5,110.3 375.2,101.1 373.7,91.9 372,82.7 370.2,73.4 368.3,64.2 366.2,55 363.9,45.8 361.5,36.6 359,27.3 356.3,18.1 353.4,8.9Z" fill="#cd9a65"/>
<path d="M353.4,8.9 356.3,18.1 359,27.3 361.5,36.6 363.9,45.8 366.2,55 368.3,64.2 370.2,73.4 372,82.7 373.7,91.9 375.2,101.1 376.5,110.3 377.7,119.5 378.7,128.8 379.6,138 380.3,147.2 380.9,156.4 381.3,165.6 381.6,174.9 381.7,184.1 381.7,193.3 381.5,202.5 381.1,211.7 380.6,220.9 380,230.2 379.2,239.4 378.2,248.6 377.1,257.8 375.9,267 374.5,276.3 372.9,285.5 371.2,294.7 369.3,303.9 367.3,313.1 365.1,322.4 362.8,331.6 360.3,340.8 357.7,350 354.9,359.2 351.9,368.5 348.9,377.7 345.6,386.9 350.6,386.9 353.9,377.7 357,368.5 359.9,359.2 362.7,350 365.3,340.8 367.8,331.6 370.2,322.4 372.3,313.1 374.4,303.9 376.3,294.7 378,285.5 379.6,276.3 381,267 382.2,257.8 383.4,248.6 384.3,239.4 385.1,230.2 385.8,220.9 386.3,211.7 386.6,202.5 386.8,193.3 386.9,184.1 386.8,174.9 386.5,165.6 386.1,156.4 385.5,147.2 384.8,138 383.9,128.8 382.9,119.5 381.7,110.3 380.4,101.1 378.9,91.9 377.3,82.7 375.5,73.4 373.6,64.2 371.5,55 369.2,45.8 366.8,36.6 364.3,27.3 361.6,18.1 358.7,8.9Z" fill="#8b8187"/>
<path d="M358.7,8.9 361.6,18.1 364.3,27.3 366.8,36.6 369.2,45.8 371.5,55 373.6,64.2 375.5,73.4 377.3,82.7 378.9,91.9 380.4,101.1 381.7,110.3 382.9,119.5 383.9,128.8 384.8,138 385.5,147.2 386.1,156.4 386.5,165.6 386.8,174.9 386.9,184.1 386.8,193.3 386.6,202.5 386.3,211.7 385.8,220.9 385.1,230.2 384.3,239.4 383.4,248.6 382.2,257.8 381,267 379.6,276.3 378,285.5 376.3,294.7 374.4,303.9 372.3,313.1 370.2,322.4 367.8,331.6 365.3,340.8 362.7,350 359.9,359.2 357,368.5 353.9,377.7 350.6,386.9 356,386.9 359.3,377.7 362.4,368.5 365.4,359.2 368.2,350 370.8,340.8 373.3,331.6 375.7,322.4 377.9,313.1 379.9,303.9 381.8,294.7 383.5,285.5 385.1,276.3 386.5,267 387.8,257.8 388.9,248.6 389.9,239.4 390.7,230.2 391.4,220.9 391.9,211.7 392.3,202.5 392.5,193.3 392.5,184.1 392.4,174.9 392.2,165.6 391.8,156.4 391.2,147.2 390.5,138 389.7,128.8 388.6,119.5 387.5,110.3 386.2,101.1 384.7,91.9 383.1,82.7 381.3,73.4 379.3,64.2 377.3,55 375,45.8 372.6,36.6 370.1,27.3 367.4,18.1 364.6,8.9Z" fill="#4464a8"/>
<path d="M370.9,8.9 373.8,18.1 376.4,27.3 379,36.6 381.4,45.8 383.6,55 385.6,64.2 387.6,73.4 389.3,82.7 391,91.9 392.4,101.1 393.7,110.3 394.9,119.5 395.9,128.8 396.7,138 397.4,147.2 398,156.4 398.4,165.6 398.6,174.9 398.7,184.1 398.6,193.3 398.4,202.5 398,211.7 397.5,220.9 396.8,230.2 396,239.4 395,248.6 393.9,257.8 392.6,267 391.2,276.3 389.6,285.5 387.8,294.7 385.9,303.9 383.9,313.1 381.7,322.4 379.3,331.6 376.8,340.8 374.2,350 371.3,359.2 368.4,368.5 365.3,377.7 362,386.9 367,386.9 370.3,377.7 373.4,368.5 376.4,359.2 379.2,350 381.9,340.8 384.4,331.6 386.7,322.4 388.9,313.1 391,303.9 392.9,294.7 394.7,285.5 396.3,276.3 397.7,267 399,257.8 400.2,248.6 401.1,239.4 402,230.2 402.7,220.9 403.2,211.7 403.6,202.5 403.8,193.3 403.9,184.1 403.8,174.9 403.6,165.6 403.2,156.4 402.6,147.2 402,138 401.1,128.8 400.1,119.5 399,110.3 397.7,101.1 396.2,91.9 394.6,82.7 392.8,73.4 390.9,64.2 388.9,55 386.7,45.8 384.3,36.6 381.8,27.3 379.1,18.1 376.3,8.9Z" fill="#f1c984"/>
<path d="M376.3,8.9 379.1,18.1 381.8,27.3 384.3,36.6 386.7,45.8 388.9,55 390.9,64.2 392.8,73.4 394.6,82.7 396.2,91.9 397.7,101.1 399,110.3 400.1,119.5 401.1,128.8 402,138 402.6,147.2 403.2,156.4 403.6,165.6 403.8,174.9 403.9,184.1 403.8,193.3 403.6,202.5 403.2,211.7 402.7,220.9 402,230.2 401.1,239.4 400.2,248.6 399,257.8 397.7,267 396.3,276.3 394.7,285.5 392.9,294.7 391,303.9 388.9,313.1 386.7,322.4 384.4,331.6 381.9,340.8 379.2,350 376.4,359.2 373.4,368.5 370.3,377.7 367,386.9 372,386.9 375.3,377.7 378.4,368.5 381.4,359.2 384.2,350 386.9,340.8 389.4,331.6 391.8,322.4 394,313.1 396.1,303.9 398,294.7 399.8,285.5 401.4,276.3 402.8,267 404.1,257.8 405.3,248.6 406.3,239.4 407.1,230.2 407.8,220.9 408.4,211.7 408.7,202.5 409,193.3 409.1,184.1 409,174.9 408.8,165.6 408.4,156.4 407.9,147.2 407.2,138 406.3,128.8 405.4,119.5 404.2,110.3 402.9,101.1 401.5,91.9 399.9,82.7 398.1,73.4 396.2,64.2 394.2,55 392,45.8 389.6,36.6 387.1,27.3 384.4,18.1 381.6,8.9Z" fill="#ebaa5e"/>
<path d="M381.6,8.9 384.4,18.1 387.1,27.3 389.6,36.6 392,45.8 394.2,55 396.2,64.2 398.1,73.4 399.9,82.7 401.5,91.9 402.9,101.1 404.2,110.3 405.4,119.5 406.3,128.8 407.2,138 407.9,147.2 408.4,156.4 408.8,165.6 409,174.9 409.1,184.1 409,193.3 408.7,202.5 408.4,211.7 407.8,220.9 407.1,230.2 406.3,239.4 405.3,248.6 404.1,257.8 402.8,267 401.4,276.3 399.8,285.5 398,294.7 396.1,303.9 394,313.1 391.8,322.4 389.4,331.6 386.9,340.8 384.2,350 381.4,359.2 378.4,368.5 375.3,377.7 372,386.9 377,386.9 380.3,377.7 383.4,368.5 386.4,359.2 389.2,350 391.9,340.8 394.5,331.6 396.8,322.4 399.1,313.1 401.1,303.9 403.1,294.7 404.8,285.5 406.5,276.3 407.9,267 409.2,257.8 410.4,248.6 411.4,239.4 412.3,230.2 413,220.9 413.5,211.7 413.9,202.5 414.1,193.3 414.2,184.1 414.2,174.9 414,165.6 413.6,156.4 413.1,147.2 412.4,138 411.6,128.8 410.6,119.5 409.5,110.3 408.2,101.1 406.7,91.9 405.2,82.7 403.4,73.4 401.5,64.2 399.5,55 397.3,45.8 394.9,36.6 392.4,27.3 389.8,18.1 386.9,8.9Z" fill="#cd9a65"/>
<path d="M386.9,8.9 389.8,18.1 392.4,27.3 394.9,36.6 397.3,45.8 399.5,55 401.5,64.2 403.4,73.4 405.2,82.7 406.7,91.9 408.2,101.1 409.5,110.3 410.6,119.5 411.6,128.8 412.4,138 413.1,147.2 413.6,156.4 414,165.6 414.2,174.9 414.2,184.1 414.1,193.3 413.9,202.5 413.5,211.7 413,220.9 412.3,230.2 411.4,239.4 410.4,248.6 409.2,257.8 407.9,267 406.5,276.3 404.8,285.5 403.1,294.7 401.1,303.9 399.1,313.1 396.8,322.4 394.5,331.6 391.9,340.8 389.2,350 386.4,359.2 383.4,368.5 380.3,377.7 377,386.9 381.9,386.9 385.3,377.7 388.4,368.5 391.4,359.2 394.3,350 397,340.8 399.5,331.6 401.9,322.4 404.1,313.1 406.2,303.9 408.1,294.7 409.9,285.5 411.5,276.3 413,267 414.3,257.8 415.5,248.6 416.5,239.4 417.4,230.2 418.1,220.9 418.7,211.7 419.1,202.5 419.3,193.3 419.4,184.1 419.4,174.9 419.2,165.6 418.8,156.4 418.3,147.2 417.6,138 416.8,128.8 415.8,119.5 414.7,110.3 413.4,101.1 412,91.9 410.4,82.7 408.7,73.4 406.8,64.2 404.8,55 402.6,45.8 400.2,36.6 397.7,27.3 395.1,18.1 392.3,8.9Z" fill="#8b8187"/>
<path d="M392.3,8.9 395.1,18.1 397.7,27.3 400.2,36.6 402.6,45.8 404.8,55 406.8,64.2 408.7,73.4 410.4,82.7 412,91.9 413.4,101.1 414.7,110.3 415.8,119.5 416.8,128.8 417.6,138 418.3,147.2 418.8,156.4 419.2,165.6 419.4,174.9 419.4,184.1 419.3,193.3 419.1,202.5 418.7,211.7 418.1,220.9 417.4,230.2 416.5,239.4 415.5,248.6 414.3,257.8 413,267 411.5,276.3 409.9,285.5 408.1,294.7 406.2,303.9 404.1,313.1 401.9,322.4 399.5,331.6 397,340.8 394.3,350 391.4,359.2 388.4,368.5 385.3,377.7 381.9,386.9 387.4,386.9 390.7,377.7 393.9,368.5 396.9,359.2 399.7,350 402.4,340.8 405,331.6 407.4,322.4 409.6,313.1 411.7,303.9 413.7,294.7 415.5,285.5 417.1,276.3 418.6,267 419.9,257.8 421.1,248.6 422.1,239.4 423,230.2 423.7,220.9 424.3,211.7 424.7,202.5 425,193.3 425.1,184.1 425,174.9 424.8,165.6 424.5,156.4 424,147.2 423.3,138 422.5,128.8 421.5,119.5 420.4,110.3 419.2,101.1 417.7,91.9 416.2,82.7 414.5,73.4 412.6,64.2 410.5,55 408.4,45.8 406,36.6 403.5,27.3 400.9,18.1 398.1,8.9Z" fill="#4464a8"/>
<path d="M404.5,8.9 407.3,18.1 409.9,27.3 412.4,36.6 414.7,45.8 416.9,55 418.9,64.2 420.7,73.4 422.5,82.7 424,91.9 425.4,101.1 426.7,110.3 427.8,119.5 428.7,128.8 429.5,138 430.2,147.2 430.7,156.4 431,165.6 431.2,174.9 431.2,184.1 431.1,193.3 430.8,202.5 430.4,211.7 429.8,220.9 429.1,230.2 428.2,239.4 427.2,248.6 426,257.8 424.7,267 423.2,276.3 421.5,285.5 419.7,294.7 417.8,303.9 415.7,313.1 413.4,322.4 411,331.6 408.4,340.8 405.7,350 402.9,359.2 399.8,368.5 396.7,377.7 393.3,386.9 398.3,386.9 401.7,377.7 404.8,368.5 407.9,359.2 410.7,350 413.5,340.8 416,331.6 418.5,322.4 420.7,313.1 422.8,303.9 424.8,294.7 426.6,285.5 428.3,276.3 429.8,267 431.1,257.8 432.3,248.6 433.4,239.4 434.2,230.2 435,220.9 435.6,211.7 436,202.5 436.3,193.3 436.4,184.1 436.4,174.9 436.2,165.6 435.9,156.4 435.4,147.2 434.8,138 434,128.8 433,119.5 431.9,110.3 430.7,101.1 429.3,91.9 427.7,82.7 426,73.4 424.2,64.2 422.2,55 420,45.8 417.7,36.6 415.2,27.3 412.6,18.1 409.8,8.9Z" fill="#f1c984"/>
<path d="M409.8,8.9 412.6,18.1 415.2,27.3 417.7,36.6 420,45.8 422.2,55 424.2,64.2 426,73.4 427.7,82.7 429.3,91.9 430.7,101.1 431.9,110.3 433,119.5 434,128.8 434.8,138 435.4,147.2 435.9,156.4 436.2,165.6 436.4,174.9 436.4,184.1 436.3,193.3 436,202.5 435.6,211.7 435,220.9 434.2,230.2 433.4,239.4 432.3,248.6 431.1,257.8 429.8,267 428.3,276.3 426.6,285.5 424.8,294.7 422.8,303.9 420.7,313.1 418.5,322.4 416,331.6 413.5,340.8 410.7,350 407.9,359.2 404.8,368.5 401.7,377.7 398.3,386.9 403.3,386.9 406.7,377.7 409.8,368.5 412.9,359.2 415.8,350 418.5,340.8 421.1,331.6 423.5,322.4 425.8,313.1 427.9,303.9 429.9,294.7 431.7,285.5 433.4,276.3 434.9,267 436.2,257.8 437.4,248.6 438.5,239.4 439.4,230.2 440.1,220.9 440.7,211.7 441.2,202.5 441.4,193.3 441.6,184.1 441.6,174.9 441.4,165.6 441.1,156.4 440.6,147.2 440,138 439.2,128.8 438.3,119.5 437.2,110.3 435.9,101.1 434.5,91.9 433,82.7 431.3,73.4 429.5,64.2 427.5,55 425.3,45.8 423,36.6 420.5,27.3 417.9,18.1 415.2,8.9Z" fill="#ebaa5e"/>
<path d="M415.2,8.9 417.9,18.1 420.5,27.3 423,36.6 425.3,45.8 427.5,55 429.5,64.2 431.3,73.4 433,82.7 434.5,91.9 435.9,101.1 437.2,110.3 438.3,119.5 439.2,128.8 440,138 440.6,147.2 441.1,156.4 441.4,165.6 441.6,174.9 441.6,184.1 441.4,193.3 441.2,202.5 440.7,211.7 440.1,220.9 439.4,230.2 438.5,239.4 437.4,248.6 436.2,257.8 434.9,267 433.4,276.3 431.7,285.5 429.9,294.7 427.9,303.9 425.8,313.1 423.5,322.4 421.1,331.6 418.5,340.8 415.8,350 412.9,359.2 409.8,368.5 406.7,377.7 403.3,386.9 408.3,386.9 411.7,377.7 414.9,368.5 417.9,359.2 420.8,350 423.5,340.8 426.1,331.6 428.6,322.4 430.8,313.1 433,303.9 434.9,294.7 436.8,285.5 438.4,276.3 440,267 441.3,257.8 442.5,248.6 443.6,239.4 444.5,230.2 445.3,220.9 445.9,211.7 446.3,202.5 446.6,193.3 446.8,184.1 446.8,174.9 446.6,165.6 446.3,156.4 445.8,147.2 445.2,138 444.4,128.8 443.5,119.5 442.4,110.3 441.2,101.1 439.8,91.9 438.3,82.7 436.6,73.4 434.7,64.2 432.8,55 430.6,45.8 428.3,36.6 425.9,27.3 423.3,18.1 420.5,8.9Z" fill="#cd9a65"/>
<path d="M420.5,8.9 423.3,18.1 425.9,27.3 428.3,36.6 430.6,45.8 432.8,55 434.7,64.2 436.6,73.4 438.3,82.7 439.8,91.9 441.2,101.1 442.4,110.3 443.5,119.5 444.4,128.8 445.2,138 445.8,147.2 446.3,156.4 446.6,165.6 446.8,174.9 446.8,184.1 446.6,193.3 446.3,202.5 445.9,211.7 445.3,220.9 444.5,230.2 443.6,239.4 442.5,248.6 441.3,257.8 440,267 438.4,276.3 436.8,285.5 434.9,294.7 433,303.9 430.8,313.1 428.6,322.4 426.1,331.6 423.5,340.8 420.8,350 417.9,359.2 414.9,368.5 411.7,377.7 408.3,386.9 413.3,386.9 416.6,377.7 419.9,368.5 422.9,359.2 425.8,350 428.6,340.8 431.2,331.6 433.6,322.4 435.9,313.1 438,303.9 440,294.7 441.9,285.5 443.5,276.3 445.1,267 446.4,257.8 447.7,248.6 448.7,239.4 449.6,230.2 450.4,220.9 451,211.7 451.5,202.5 451.8,193.3 451.9,184.1 451.9,174.9 451.8,165.6 451.5,156.4 451,147.2 450.4,138 449.7,128.8 448.7,119.5 447.7,110.3 446.4,101.1 445.1,91.9 443.5,82.7 441.9,73.4 440,64.2 438.1,55 435.9,45.8 433.6,36.6 431.2,27.3 428.6,18.1 425.8,8.9Z" fill="#8b8187"/>
<path d="M425.8,8.9 428.6,18.1 431.2,27.3 433.6,36.6 435.9,45.8 438.1,55 440,64.2 441.9,73.4 443.5,82.7 445.1,91.9 446.4,101.1 447.7,110.3 448.7,119.5 449.7,128.8 450.4,138 451,147.2 451.5,156.4 451.8,165.6 451.9,174.9 451.9,184.1 451.8,193.3 451.5,202.5 451,211.7 450.4,220.9 449.6,230.2 448.7,239.4 447.7,248.6 446.4,257.8 445.1,267 443.5,276.3 441.9,285.5 440,294.7 438,303.9 435.9,313.1 433.6,322.4 431.2,331.6 428.6,340.8 425.8,350 422.9,359.2 419.9,368.5 416.6,377.7 413.3,386.9 418.7,386.9 422.1,377.7 425.3,368.5 428.4,359.2 431.3,350 434.1,340.8 436.7,331.6 439.1,322.4 441.4,313.1 443.6,303.9 445.6,294.7 447.4,285.5 449.1,276.3 450.6,267 452,257.8 453.2,248.6 454.3,239.4 455.2,230.2 456,220.9 456.6,211.7 457.1,202.5 457.4,193.3 457.6,184.1 457.6,174.9 457.5,165.6 457.2,156.4 456.7,147.2 456.1,138 455.4,128.8 454.5,119.5 453.4,110.3 452.2,101.1 450.8,91.9 449.3,82.7 447.6,73.4 445.8,64.2 443.8,55 441.7,45.8 439.4,36.6 437,27.3 434.4,18.1 431.7,8.9Z" fill="#4464a8"/>
<path d="M438,8.9 440.8,18.1 443.3,27.3 445.8,36.6 448,45.8 450.1,55 452.1,64.2 453.9,73.4 455.6,82.7 457.1,91.9 458.4,101.1 459.6,110.3 460.7,119.5 461.6,128.8 462.3,138 462.9,147.2 463.4,156.4 463.6,165.6 463.8,174.9 463.8,184.1 463.6,193.3 463.3,202.5 462.8,211.7 462.2,220.9 461.4,230.2 460.4,239.4 459.3,248.6 458.1,257.8 456.7,267 455.2,276.3 453.5,285.5 451.6,294.7 449.6,303.9 447.4,313.1 445.1,322.4 442.7,331.6 440.1,340.8 437.3,350 434.4,359.2 431.3,368.5 428.1,377.7 424.7,386.9 429.7,386.9 433.1,377.7 436.3,368.5 439.4,359.2 442.3,350 445.1,340.8 447.7,331.6 450.2,322.4 452.5,313.1 454.7,303.9 456.7,294.7 458.5,285.5 460.2,276.3 461.8,267 463.2,257.8 464.5,248.6 465.6,239.4 466.5,230.2 467.3,220.9 467.9,211.7 468.4,202.5 468.8,193.3 468.9,184.1 469,174.9 468.8,165.6 468.6,156.4 468.1,147.2 467.6,138 466.8,128.8 465.9,119.5 464.9,110.3 463.7,101.1 462.4,91.9 460.9,82.7 459.2,73.4 457.4,64.2 455.4,55 453.3,45.8 451.1,36.6 448.7,27.3 446.1,18.1 443.4,8.9Z" fill="#f1c984"/>
<path d="M443.4,8.9 446.1,18.1 448.7,27.3 451.1,36.6 453.3,45.8 455.4,55 457.4,64.2 459.2,73.4 460.9,82.7 462.4,91.9 463.7,101.1 464.9,110.3 465.9,119.5 466.8,128.8 467.6,138 468.1,147.2 468.6,156.4 468.8,165.6 469,174.9 468.9,184.1 468.8,193.3 468.4,202.5 467.9,211.7 467.3,220.9 466.5,230.2 465.6,239.4 464.5,248.6 463.2,257.8 461.8,267 460.2,276.3 458.5,285.5 456.7,294.7 454.7,303.9 452.5,313.1 450.2,322.4 447.7,331.6 445.1,340.8 442.3,350 439.4,359.2 436.3,368.5 433.1,377.7 429.7,386.9 434.7,386.9 438.1,377.7 441.3,368.5 444.4,359.2 447.3,350 450.1,340.8 452.7,331.6 455.2,322.4 457.6,313.1 459.7,303.9 461.8,294.7 463.6,285.5 465.3,276.3 466.9,267 468.3,257.8 469.6,248.6 470.7,239.4 471.6,230.2 472.4,220.9 473.1,211.7 473.6,202.5 473.9,193.3 474.1,184.1 474.2,174.9 474,165.6 473.8,156.4 473.3,147.2 472.8,138 472,128.8 471.2,119.5 470.1,110.3 469,101.1 467.6,91.9 466.1,82.7 464.5,73.4 462.7,64.2 460.7,55 458.6,45.8 456.4,36.6 454,27.3 451.4,18.1 448.7,8.9Z" fill="#ebaa5e"/>
<path d="M448.7,8.9 451.4,18.1 454,27.3 456.4,36.6 458.6,45.8 460.7,55 462.7,64.2 464.5,73.4 466.1,82.7 467.6,91.9 469,101.1 470.1,110.3 471.2,119.5 472,128.8 472.8,138 473.3,147.2 473.8,156.4 474,165.6 474.2,174.9 474.1,184.1 473.9,193.3 473.6,202.5 473.1,211.7 472.4,220.9 471.6,230.2 470.7,239.4 469.6,248.6 468.3,257.8 466.9,267 465.3,276.3 463.6,285.5 461.8,294.7 459.7,303.9 457.6,313.1 455.2,322.4 452.7,331.6 450.1,340.8 447.3,350 444.4,359.2 441.3,368.5 438.1,377.7 434.7,386.9 439.6,386.9 443,377.7 446.3,368.5 449.4,359.2 452.3,350 455.1,340.8 457.8,331.6 460.3,322.4 462.6,313.1 464.8,303.9 466.8,294.7 468.7,285.5 470.4,276.3 472,267 473.4,257.8 474.7,248.6 475.8,239.4 476.8,230.2 477.6,220.9 478.2,211.7 478.7,202.5 479.1,193.3 479.3,184.1 479.3,174.9 479.2,165.6 479,156.4 478.6,147.2 478,138 477.3,128.8 476.4,119.5 475.4,110.3 474.2,101.1 472.9,91.9 471.4,82.7 469.8,73.4 468,64.2 466,55 463.9,45.8 461.7,36.6 459.3,27.3 456.8,18.1 454,8.9Z" fill="#cd9a65"/>
<path d="M454,8.9 456.8,18.1 459.3,27.3 461.7,36.6 463.9,45.8 466,55 468,64.2 469.8,73.4 471.4,82.7 472.9,91.9 474.2,101.1 475.4,110.3 476.4,119.5 477.3,128.8 478,138 478.6,147.2 479,156.4 479.2,165.6 479.3,174.9 479.3,184.1 479.1,193.3 478.7,202.5 478.2,211.7 477.6,220.9 476.8,230.2 475.8,239.4 474.7,248.6 473.4,257.8 472,267 470.4,276.3 468.7,285.5 466.8,294.7 464.8,303.9 462.6,313.1 460.3,322.4 457.8,331.6 455.1,340.8 452.3,350 449.4,359.2 446.3,368.5 443,377.7 439.6,386.9 444.6,386.9 448,377.7 451.3,368.5 454.4,359.2 457.4,350 460.2,340.8 462.8,331.6 465.3,322.4 467.7,313.1 469.9,303.9 471.9,294.7 473.8,285.5 475.5,276.3 477.1,267 478.5,257.8 479.8,248.6 480.9,239.4 481.9,230.2 482.7,220.9 483.4,211.7 483.9,202.5 484.3,193.3 484.5,184.1 484.5,174.9 484.4,165.6 484.2,156.4 483.8,147.2 483.2,138 482.5,128.8 481.6,119.5 480.6,110.3 479.5,101.1 478.1,91.9 476.7,82.7 475,73.4 473.3,64.2 471.3,55 469.3,45.8 467,36.6 464.6,27.3 462.1,18.1 459.4,8.9Z" fill="#8b8187"/>
<path d="M459.4,8.9 462.1,18.1 464.6,27.3 467,36.6 469.3,45.8 471.3,55 473.3,64.2 475,73.4 476.7,82.7 478.1,91.9 479.5,101.1 480.6,110.3 481.6,119.5 482.5,128.8 483.2,138 483.8,147.2 484.2,156.4 484.4,165.6 484.5,174.9 484.5,184.1 484.3,193.3 483.9,202.5 483.4,211.7 482.7,220.9 481.9,230.2 480.9,239.4 479.8,248.6 478.5,257.8 477.1,267 475.5,276.3 473.8,285.5 471.9,294.7 469.9,303.9 467.7,313.1 465.3,322.4 462.8,331.6 460.2,340.8 457.4,350 454.4,359.2 451.3,368.5 448,377.7 444.6,386.9 450.1,386.9 453.5,377.7 456.8,368.5 459.9,359.2 462.9,350 465.7,340.8 468.3,331.6 470.8,322.4 473.2,313.1 475.4,303.9 477.4,294.7 479.3,285.5 481.1,276.3 482.7,267 484.1,257.8 485.4,248.6 486.5,239.4 487.5,230.2 488.3,220.9 489,211.7 489.5,202.5 489.9,193.3 490.1,184.1 490.2,174.9 490.1,165.6 489.9,156.4 489.5,147.2 488.9,138 488.2,128.8 487.4,119.5 486.4,110.3 485.2,101.1 483.9,91.9 482.4,82.7 480.8,73.4 479,64.2 477.1,55 475,45.8 472.8,36.6 470.4,27.3 467.9,18.1 465.2,8.9Z" fill="#4464a8"/>
<path d="M471.6,8.9 474.3,18.1 476.8,27.3 479.1,36.6 481.4,45.8 483.4,55 485.3,64.2 487.1,73.4 488.7,82.7 490.2,91.9 491.5,101.1 492.6,110.3 493.6,119.5 494.4,128.8 495.1,138 495.7,147.2 496.1,156.4 496.3,165.6 496.4,174.9 496.3,184.1 496.1,193.3 495.7,202.5 495.2,211.7 494.5,220.9 493.6,230.2 492.6,239.4 491.5,248.6 490.2,257.8 488.7,267 487.1,276.3 485.4,285.5 483.5,294.7 481.4,303.9 479.2,313.1 476.9,322.4 474.3,331.6 471.7,340.8 468.8,350 465.9,359.2 462.7,368.5 459.5,377.7 456,386.9 461,386.9 464.5,377.7 467.7,368.5 470.9,359.2 473.9,350 476.7,340.8 479.4,331.6 481.9,322.4 484.3,313.1 486.5,303.9 488.6,294.7 490.5,285.5 492.2,276.3 493.8,267 495.3,257.8 496.6,248.6 497.8,239.4 498.8,230.2 499.6,220.9 500.3,211.7 500.8,202.5 501.2,193.3 501.5,184.1 501.5,174.9 501.5,165.6 501.3,156.4 500.9,147.2 500.4,138 499.7,128.8 498.8,119.5 497.9,110.3 496.7,101.1 495.4,91.9 494,82.7 492.4,73.4 490.6,64.2 488.7,55 486.7,45.8 484.5,36.6 482.1,27.3 479.6,18.1 476.9,8.9Z" fill="#f1c984"/>
<path d="M51.4,8.9 54.8,18.1 57.9,27.3 61,36.6 63.9,45.8 66.6,55 69.2,64.2 71.6,73.4 73.9,82.7 76.1,91.9 78,101.1 79.9,110.3 81.5,119.5 83,128.8 84.4,138 85.6,147.2 86.7,156.4 87.6,165.6 88.3,174.9 88.9,184.1 89.4,193.3 89.7,202.5 89.8,211.7 89.8,220.9 89.7,230.2 89.3,239.4 88.9,248.6 88.2,257.8 87.5,267 86.5,276.3 85.5,285.5 84.2,294.7 82.9,303.9 81.3,313.1 79.6,322.4 77.8,331.6 75.8,340.8 73.6,350 71.3,359.2 68.9,368.5 66.3,377.7 63.5,386.9" fill="none" stroke="rgba(50,32,5,0.55)" stroke-width="1.05"/>
<path d="M56.7,8.9 60.1,18.1 63.3,27.3 66.3,36.6 69.2,45.8 71.9,55 74.5,64.2 76.9,73.4 79.2,82.7 81.3,91.9 83.3,101.1 85.1,110.3 86.8,119.5 88.3,128.8 89.6,138 90.8,147.2 91.9,156.4 92.8,165.6 93.5,174.9 94.1,184.1 94.6,193.3 94.8,202.5 95,211.7 95,220.9 94.8,230.2 94.5,239.4 94,248.6 93.4,257.8 92.6,267 91.6,276.3 90.6,285.5 89.3,294.7 87.9,303.9 86.4,313.1 84.7,322.4 82.8,331.6 80.8,340.8 78.7,350 76.4,359.2 73.9,368.5 71.3,377.7 68.5,386.9" fill="none" stroke="rgba(50,32,5,0.55)" stroke-width="1.05"/>
<path d="M68.9,8.9 72.3,18.1 75.4,27.3 78.4,36.6 81.3,45.8 84,55 86.6,64.2 89,73.4 91.2,82.7 93.3,91.9 95.3,101.1 97.1,110.3 98.7,119.5 100.2,128.8 101.5,138 102.7,147.2 103.8,156.4 104.6,165.6 105.4,174.9 105.9,184.1 106.4,193.3 106.6,202.5 106.7,211.7 106.7,220.9 106.5,230.2 106.2,239.4 105.7,248.6 105,257.8 104.2,267 103.3,276.3 102.2,285.5 100.9,294.7 99.5,303.9 97.9,313.1 96.2,322.4 94.3,331.6 92.3,340.8 90.1,350 87.8,359.2 85.3,368.5 82.7,377.7 79.9,386.9" fill="none" stroke="rgba(50,32,5,0.55)" stroke-width="1.05"/>
<path d="M74.3,8.9 77.6,18.1 80.7,27.3 83.8,36.6 86.6,45.8 89.3,55 91.9,64.2 94.3,73.4 96.5,82.7 98.6,91.9 100.5,101.1 102.3,110.3 104,119.5 105.4,128.8 106.8,138 107.9,147.2 109,156.4 109.8,165.6 110.5,174.9 111.1,184.1 111.5,193.3 111.8,202.5 111.9,211.7 111.8,220.9 111.6,230.2 111.3,239.4 110.8,248.6 110.1,257.8 109.3,267 108.4,276.3 107.2,285.5 106,294.7 104.6,303.9 103,313.1 101.3,322.4 99.4,331.6 97.3,340.8 95.2,350 92.8,359.2 90.3,368.5 87.7,377.7 84.9,386.9" fill="none" stroke="rgba(50,32,5,0.55)" stroke-width="1.05"/>
<path d="M79.6,8.9 82.9,18.1 86.1,27.3 89.1,36.6 91.9,45.8 94.6,55 97.2,64.2 99.5,73.4 101.8,82.7 103.9,91.9 105.8,101.1 107.6,110.3 109.2,119.5 110.7,128.8 112,138 113.1,147.2 114.2,156.4 115,165.6 115.7,174.9 116.3,184.1 116.7,193.3 116.9,202.5 117,211.7 117,220.9 116.8,230.2 116.4,239.4 115.9,248.6 115.2,257.8 114.4,267 113.4,276.3 112.3,285.5 111,294.7 109.6,303.9 108,313.1 106.3,322.4 104.4,331.6 102.4,340.8 100.2,350 97.8,359.2 95.3,368.5 92.7,377.7 89.9,386.9" fill="none" stroke="rgba(50,32,5,0.55)" stroke-width="1.05"/>
<path d="M85,8.9 88.3,18.1 91.4,27.3 94.4,36.6 97.2,45.8 99.9,55 102.4,64.2 104.8,73.4 107,82.7 109.1,91.9 111,101.1 112.8,110.3 114.4,119.5 115.9,128.8 117.2,138 118.4,147.2 119.4,156.4 120.2,165.6 120.9,174.9 121.5,184.1 121.9,193.3 122.1,202.5 122.2,211.7 122.1,220.9 121.9,230.2 121.5,239.4 121,248.6 120.3,257.8 119.5,267 118.5,276.3 117.4,285.5 116.1,294.7 114.7,303.9 113.1,313.1 111.3,322.4 109.5,331.6 107.4,340.8 105.2,350 102.8,359.2 100.3,368.5 97.7,377.7 94.9,386.9" fill="none" stroke="rgba(50,32,5,0.55)" stroke-width="1.05"/>
<path d="M90.3,8.9 93.6,18.1 96.7,27.3 99.7,36.6 102.5,45.8 105.2,55 107.7,64.2 110.1,73.4 112.3,82.7 114.4,91.9 116.3,101.1 118.1,110.3 119.7,119.5 121.1,128.8 122.4,138 123.6,147.2 124.6,156.4 125.4,165.6 126.1,174.9 126.6,184.1 127,193.3 127.3,202.5 127.3,211.7 127.3,220.9 127,230.2 126.7,239.4 126.1,248.6 125.5,257.8 124.6,267 123.6,276.3 122.5,285.5 121.2,294.7 119.7,303.9 118.1,313.1 116.4,322.4 114.5,331.6 112.4,340.8 110.2,350 107.9,359.2 105.3,368.5 102.7,377.7 99.9,386.9" fill="none" stroke="rgba(50,32,5,0.55)" stroke-width="1.05"/>
<path d="M102.5,8.9 105.8,18.1 108.9,27.3 111.8,36.6 114.6,45.8 117.3,55 119.8,64.2 122.2,73.4 124.4,82.7 126.4,91.9 128.3,101.1 130,110.3 131.6,119.5 133.1,128.8 134.3,138 135.5,147.2 136.4,156.4 137.3,165.6 137.9,174.9 138.5,184.1 138.8,193.3 139,202.5 139.1,211.7 139,220.9 138.8,230.2 138.4,239.4 137.8,248.6 137.1,257.8 136.3,267 135.3,276.3 134.1,285.5 132.8,294.7 131.3,303.9 129.7,313.1 127.9,322.4 126,331.6 123.9,340.8 121.7,350 119.3,359.2 116.8,368.5 114.1,377.7 111.2,386.9" fill="none" stroke="rgba(50,32,5,0.55)" stroke-width="1.05"/>
<path d="M107.8,8.9 111.1,18.1 114.2,27.3 117.1,36.6 119.9,45.8 122.6,55 125.1,64.2 127.4,73.4 129.6,82.7 131.7,91.9 133.5,101.1 135.3,110.3 136.9,119.5 138.3,128.8 139.6,138 140.7,147.2 141.7,156.4 142.5,165.6 143.1,174.9 143.6,184.1 144,193.3 144.2,202.5 144.3,211.7 144.2,220.9 143.9,230.2 143.5,239.4 142.9,248.6 142.2,257.8 141.4,267 140.3,276.3 139.2,285.5 137.9,294.7 136.4,303.9 134.8,313.1 133,322.4 131,331.6 129,340.8 126.7,350 124.3,359.2 121.8,368.5 119.1,377.7 116.2,386.9" fill="none" stroke="rgba(50,32,5,0.55)" stroke-width="1.05"/>
<path d="M113.2,8.9 116.4,18.1 119.5,27.3 122.5,36.6 125.3,45.8 127.9,55 130.4,64.2 132.7,73.4 134.9,82.7 136.9,91.9 138.8,101.1 140.5,110.3 142.1,119.5 143.5,128.8 144.8,138 145.9,147.2 146.9,156.4 147.7,165.6 148.3,174.9 148.8,184.1 149.2,193.3 149.4,202.5 149.4,211.7 149.3,220.9 149,230.2 148.6,239.4 148.1,248.6 147.3,257.8 146.5,267 145.4,276.3 144.3,285.5 142.9,294.7 141.4,303.9 139.8,313.1 138,322.4 136.1,331.6 134,340.8 131.7,350 129.3,359.2 126.8,368.5 124.1,377.7 121.2,386.9" fill="none" stroke="rgba(50,32,5,0.55)" stroke-width="1.05"/>
<path d="M118.5,8.9 121.8,18.1 124.8,27.3 127.8,36.6 130.6,45.8 133.2,55 135.7,64.2 138,73.4 140.2,82.7 142.2,91.9 144.1,101.1 145.8,110.3 147.3,119.5 148.7,128.8 150,138 151.1,147.2 152.1,156.4 152.9,165.6 153.5,174.9 154,184.1 154.3,193.3 154.5,202.5 154.6,211.7 154.4,220.9 154.2,230.2 153.7,239.4 153.2,248.6 152.4,257.8 151.6,267 150.5,276.3 149.3,285.5 148,294.7 146.5,303.9 144.9,313.1 143.1,322.4 141.1,331.6 139,340.8 136.8,350 134.4,359.2 131.8,368.5 129.1,377.7 126.2,386.9" fill="none" stroke="rgba(50,32,5,0.55)" stroke-width="1.05"/>
<path d="M123.8,8.9 127.1,18.1 130.2,27.3 133.1,36.6 135.9,45.8 138.5,55 141,64.2 143.3,73.4 145.4,82.7 147.5,91.9 149.3,101.1 151,110.3 152.6,119.5 154,128.8 155.2,138 156.3,147.2 157.3,156.4 158.1,165.6 158.7,174.9 159.2,184.1 159.5,193.3 159.7,202.5 159.7,211.7 159.6,220.9 159.3,230.2 158.9,239.4 158.3,248.6 157.6,257.8 156.7,267 155.6,276.3 154.4,285.5 153.1,294.7 151.6,303.9 149.9,313.1 148.1,322.4 146.2,331.6 144,340.8 141.8,350 139.4,359.2 136.8,368.5 134.1,377.7 131.2,386.9" fill="none" stroke="rgba(50,32,5,0.55)" stroke-width="1.05"/>
<path d="M136,8.9 139.3,18.1 142.3,27.3 145.2,36.6 148,45.8 150.6,55 153,64.2 155.3,73.4 157.5,82.7 159.5,91.9 161.3,101.1 163,110.3 164.5,119.5 165.9,128.8 167.1,138 168.2,147.2 169.1,156.4 169.9,165.6 170.5,174.9 171,184.1 171.3,193.3 171.5,202.5 171.5,211.7 171.3,220.9 171,230.2 170.6,239.4 170,248.6 169.2,257.8 168.3,267 167.2,276.3 166,285.5 164.7,294.7 163.1,303.9 161.5,313.1 159.6,322.4 157.7,331.6 155.5,340.8 153.3,350 150.8,359.2 148.2,368.5 145.5,377.7 142.6,386.9" fill="none" stroke="rgba(50,32,5,0.55)" stroke-width="1.05"/>
<path d="M141.4,8.9 144.6,18.1 147.6,27.3 150.5,36.6 153.3,45.8 155.9,55 158.3,64.2 160.6,73.4 162.7,82.7 164.7,91.9 166.6,101.1 168.2,110.3 169.8,119.5 171.1,128.8 172.4,138 173.4,147.2 174.3,156.4 175.1,165.6 175.7,174.9 176.2,184.1 176.5,193.3 176.6,202.5 176.6,211.7 176.5,220.9 176.2,230.2 175.7,239.4 175.1,248.6 174.3,257.8 173.4,267 172.3,276.3 171.1,285.5 169.7,294.7 168.2,303.9 166.5,313.1 164.7,322.4 162.7,331.6 160.6,340.8 158.3,350 155.8,359.2 153.2,368.5 150.5,377.7 147.6,386.9" fill="none" stroke="rgba(50,32,5,0.55)" stroke-width="1.05"/>
<path d="M146.7,8.9 149.9,18.1 153,27.3 155.9,36.6 158.6,45.8 161.2,55 163.6,64.2 165.9,73.4 168,82.7 170,91.9 171.8,101.1 173.5,110.3 175,119.5 176.4,128.8 177.6,138 178.6,147.2 179.5,156.4 180.3,165.6 180.9,174.9 181.3,184.1 181.6,193.3 181.8,202.5 181.8,211.7 181.6,220.9 181.3,230.2 180.8,239.4 180.2,248.6 179.4,257.8 178.5,267 177.4,276.3 176.2,285.5 174.8,294.7 173.3,303.9 171.6,313.1 169.7,322.4 167.7,331.6 165.6,340.8 163.3,350 160.8,359.2 158.2,368.5 155.5,377.7 152.6,386.9" fill="none" stroke="rgba(50,32,5,0.55)" stroke-width="1.05"/>
<path d="M152.1,8.9 155.3,18.1 158.3,27.3 161.2,36.6 163.9,45.8 166.5,55 168.9,64.2 171.2,73.4 173.3,82.7 175.3,91.9 177.1,101.1 178.7,110.3 180.2,119.5 181.6,128.8 182.8,138 183.9,147.2 184.7,156.4 185.5,165.6 186.1,174.9 186.5,184.1 186.8,193.3 186.9,202.5 186.9,211.7 186.8,220.9 186.4,230.2 186,239.4 185.3,248.6 184.5,257.8 183.6,267 182.5,276.3 181.3,285.5 179.9,294.7 178.3,303.9 176.6,313.1 174.8,322.4 172.8,331.6 170.6,340.8 168.3,350 165.9,359.2 163.2,368.5 160.5,377.7 157.6,386.9" fill="none" stroke="rgba(50,32,5,0.55)" stroke-width="1.05"/>
<path d="M157.4,8.9 160.6,18.1 163.6,27.3 166.5,36.6 169.2,45.8 171.8,55 174.2,64.2 176.5,73.4 178.6,82.7 180.5,91.9 182.3,101.1 184,110.3 185.5,119.5 186.8,128.8 188,138 189.1,147.2 190,156.4 190.7,165.6 191.3,174.9 191.7,184.1 192,193.3 192.1,202.5 192.1,211.7 191.9,220.9 191.6,230.2 191.1,239.4 190.4,248.6 189.7,257.8 188.7,267 187.6,276.3 186.4,285.5 185,294.7 183.4,303.9 181.7,313.1 179.8,322.4 177.8,331.6 175.7,340.8 173.3,350 170.9,359.2 168.2,368.5 165.5,377.7 162.5,386.9" fill="none" stroke="rgba(50,32,5,0.55)" stroke-width="1.05"/>
<path d="M169.6,8.9 172.8,18.1 175.8,27.3 178.6,36.6 181.3,45.8 183.9,55 186.3,64.2 188.5,73.4 190.6,82.7 192.5,91.9 194.3,101.1 196,110.3 197.4,119.5 198.8,128.8 199.9,138 201,147.2 201.8,156.4 202.5,165.6 203.1,174.9 203.5,184.1 203.8,193.3 203.9,202.5 203.8,211.7 203.6,220.9 203.3,230.2 202.8,239.4 202.1,248.6 201.3,257.8 200.4,267 199.2,276.3 198,285.5 196.5,294.7 195,303.9 193.2,313.1 191.4,322.4 189.3,331.6 187.1,340.8 184.8,350 182.3,359.2 179.7,368.5 176.9,377.7 173.9,386.9" fill="none" stroke="rgba(50,32,5,0.55)" stroke-width="1.05"/>
<path d="M174.9,8.9 178.1,18.1 181.1,27.3 183.9,36.6 186.6,45.8 189.2,55 191.6,64.2 193.8,73.4 195.9,82.7 197.8,91.9 199.6,101.1 201.2,110.3 202.7,119.5 204,128.8 205.2,138 206.2,147.2 207,156.4 207.7,165.6 208.3,174.9 208.7,184.1 209,193.3 209,202.5 209,211.7 208.8,220.9 208.4,230.2 207.9,239.4 207.2,248.6 206.4,257.8 205.5,267 204.3,276.3 203,285.5 201.6,294.7 200,303.9 198.3,313.1 196.4,322.4 194.4,331.6 192.2,340.8 189.8,350 187.3,359.2 184.7,368.5 181.9,377.7 178.9,386.9" fill="none" stroke="rgba(50,32,5,0.55)" stroke-width="1.05"/>
<path d="M180.3,8.9 183.4,18.1 186.4,27.3 189.2,36.6 191.9,45.8 194.5,55 196.8,64.2 199.1,73.4 201.1,82.7 203.1,91.9 204.8,101.1 206.4,110.3 207.9,119.5 209.2,128.8 210.4,138 211.4,147.2 212.2,156.4 212.9,165.6 213.5,174.9 213.9,184.1 214.1,193.3 214.2,202.5 214.1,211.7 213.9,220.9 213.6,230.2 213,239.4 212.4,248.6 211.5,257.8 210.6,267 209.4,276.3 208.1,285.5 206.7,294.7 205.1,303.9 203.4,313.1 201.5,322.4 199.4,331.6 197.2,340.8 194.9,350 192.3,359.2 189.7,368.5 186.9,377.7 183.9,386.9" fill="none" stroke="rgba(50,32,5,0.55)" stroke-width="1.05"/>
<path d="M185.6,8.9 188.8,18.1 191.7,27.3 194.6,36.6 197.2,45.8 199.8,55 202.1,64.2 204.4,73.4 206.4,82.7 208.3,91.9 210.1,101.1 211.7,110.3 213.1,119.5 214.5,128.8 215.6,138 216.6,147.2 217.4,156.4 218.1,165.6 218.7,174.9 219.1,184.1 219.3,193.3 219.4,202.5 219.3,211.7 219.1,220.9 218.7,230.2 218.2,239.4 217.5,248.6 216.6,257.8 215.7,267 214.5,276.3 213.2,285.5 211.8,294.7 210.2,303.9 208.4,313.1 206.5,322.4 204.5,331.6 202.2,340.8 199.9,350 197.4,359.2 194.7,368.5 191.9,377.7 188.9,386.9" fill="none" stroke="rgba(50,32,5,0.55)" stroke-width="1.05"/>
<path d="M191,8.9 194.1,18.1 197.1,27.3 199.9,36.6 202.5,45.8 205.1,55 207.4,64.2 209.6,73.4 211.7,82.7 213.6,91.9 215.3,101.1 216.9,110.3 218.4,119.5 219.7,128.8 220.8,138 221.8,147.2 222.6,156.4 223.3,165.6 223.9,174.9 224.2,184.1 224.5,193.3 224.5,202.5 224.4,211.7 224.2,220.9 223.8,230.2 223.3,239.4 222.6,248.6 221.7,257.8 220.8,267 219.6,276.3 218.3,285.5 216.8,294.7 215.2,303.9 213.5,313.1 211.6,322.4 209.5,331.6 207.3,340.8 204.9,350 202.4,359.2 199.7,368.5 196.9,377.7 193.9,386.9" fill="none" stroke="rgba(50,32,5,0.55)" stroke-width="1.05"/>
<path d="M203.1,8.9 206.3,18.1 209.2,27.3 212,36.6 214.7,45.8 217.2,55 219.5,64.2 221.7,73.4 223.7,82.7 225.6,91.9 227.3,101.1 228.9,110.3 230.3,119.5 231.6,128.8 232.7,138 233.7,147.2 234.5,156.4 235.2,165.6 235.7,174.9 236.1,184.1 236.3,193.3 236.3,202.5 236.2,211.7 236,220.9 235.5,230.2 235,239.4 234.3,248.6 233.4,257.8 232.4,267 231.2,276.3 229.9,285.5 228.4,294.7 226.8,303.9 225,313.1 223.1,322.4 221,331.6 218.8,340.8 216.4,350 213.8,359.2 211.1,368.5 208.3,377.7 205.3,386.9" fill="none" stroke="rgba(50,32,5,0.55)" stroke-width="1.05"/>
<path d="M208.5,8.9 211.6,18.1 214.5,27.3 217.3,36.6 220,45.8 222.5,55 224.8,64.2 227,73.4 229,82.7 230.9,91.9 232.6,101.1 234.2,110.3 235.6,119.5 236.8,128.8 238,138 238.9,147.2 239.7,156.4 240.4,165.6 240.9,174.9 241.2,184.1 241.4,193.3 241.5,202.5 241.4,211.7 241.1,220.9 240.7,230.2 240.1,239.4 239.4,248.6 238.5,257.8 237.5,267 236.3,276.3 235,285.5 233.5,294.7 231.9,303.9 230.1,313.1 228.1,322.4 226,331.6 223.8,340.8 221.4,350 218.8,359.2 216.1,368.5 213.3,377.7 210.3,386.9" fill="none" stroke="rgba(50,32,5,0.55)" stroke-width="1.05"/>
<path d="M213.8,8.9 216.9,18.1 219.9,27.3 222.6,36.6 225.3,45.8 227.7,55 230.1,64.2 232.2,73.4 234.3,82.7 236.1,91.9 237.8,101.1 239.4,110.3 240.8,119.5 242.1,128.8 243.2,138 244.1,147.2 244.9,156.4 245.6,165.6 246.1,174.9 246.4,184.1 246.6,193.3 246.6,202.5 246.5,211.7 246.2,220.9 245.8,230.2 245.2,239.4 244.5,248.6 243.6,257.8 242.6,267 241.4,276.3 240.1,285.5 238.6,294.7 236.9,303.9 235.1,313.1 233.2,322.4 231.1,331.6 228.8,340.8 226.4,350 223.9,359.2 221.1,368.5 218.3,377.7 215.3,386.9" fill="none" stroke="rgba(50,32,5,0.55)" stroke-width="1.05"/>
<path d="M219.2,8.9 222.3,18.1 225.2,27.3 228,36.6 230.6,45.8 233,55 235.4,64.2 237.5,73.4 239.5,82.7 241.4,91.9 243.1,101.1 244.7,110.3 246.1,119.5 247.3,128.8 248.4,138 249.3,147.2 250.1,156.4 250.8,165.6 251.3,174.9 251.6,184.1 251.8,193.3 251.8,202.5 251.7,211.7 251.4,220.9 251,230.2 250.4,239.4 249.6,248.6 248.7,257.8 247.7,267 246.5,276.3 245.2,285.5 243.7,294.7 242,303.9 240.2,313.1 238.2,322.4 236.1,331.6 233.9,340.8 231.4,350 228.9,359.2 226.1,368.5 223.3,377.7 220.2,386.9" fill="none" stroke="rgba(50,32,5,0.55)" stroke-width="1.05"/>
<path d="M224.5,8.9 227.6,18.1 230.5,27.3 233.3,36.6 235.9,45.8 238.3,55 240.7,64.2 242.8,73.4 244.8,82.7 246.7,91.9 248.4,101.1 249.9,110.3 251.3,119.5 252.5,128.8 253.6,138 254.6,147.2 255.3,156.4 256,165.6 256.4,174.9 256.8,184.1 256.9,193.3 256.9,202.5 256.8,211.7 256.5,220.9 256.1,230.2 255.5,239.4 254.7,248.6 253.8,257.8 252.8,267 251.6,276.3 250.2,285.5 248.7,294.7 247.1,303.9 245.2,313.1 243.3,322.4 241.2,331.6 238.9,340.8 236.5,350 233.9,359.2 231.1,368.5 228.3,377.7 225.2,386.9" fill="none" stroke="rgba(50,32,5,0.55)" stroke-width="1.05"/>
<path d="M236.7,8.9 239.8,18.1 242.7,27.3 245.4,36.6 248,45.8 250.4,55 252.7,64.2 254.9,73.4 256.8,82.7 258.7,91.9 260.4,101.1 261.9,110.3 263.3,119.5 264.5,128.8 265.5,138 266.5,147.2 267.2,156.4 267.8,165.6 268.3,174.9 268.6,184.1 268.7,193.3 268.7,202.5 268.6,211.7 268.3,220.9 267.8,230.2 267.2,239.4 266.4,248.6 265.5,257.8 264.4,267 263.2,276.3 261.8,285.5 260.3,294.7 258.6,303.9 256.8,313.1 254.8,322.4 252.7,331.6 250.4,340.8 247.9,350 245.3,359.2 242.6,368.5 239.7,377.7 236.6,386.9" fill="none" stroke="rgba(50,32,5,0.55)" stroke-width="1.05"/>
<path d="M242,8.9 245.1,18.1 248,27.3 250.7,36.6 253.3,45.8 255.7,55 258,64.2 260.1,73.4 262.1,82.7 263.9,91.9 265.6,101.1 267.1,110.3 268.5,119.5 269.7,128.8 270.8,138 271.7,147.2 272.4,156.4 273,165.6 273.5,174.9 273.8,184.1 273.9,193.3 273.9,202.5 273.7,211.7 273.4,220.9 272.9,230.2 272.3,239.4 271.5,248.6 270.6,257.8 269.5,267 268.3,276.3 266.9,285.5 265.4,294.7 263.7,303.9 261.9,313.1 259.9,322.4 257.7,331.6 255.4,340.8 253,350 250.3,359.2 247.6,368.5 244.7,377.7 241.6,386.9" fill="none" stroke="rgba(50,32,5,0.55)" stroke-width="1.05"/>
<path d="M247.4,8.9 250.4,18.1 253.3,27.3 256,36.6 258.6,45.8 261,55 263.3,64.2 265.4,73.4 267.4,82.7 269.2,91.9 270.9,101.1 272.4,110.3 273.7,119.5 274.9,128.8 276,138 276.9,147.2 277.6,156.4 278.2,165.6 278.7,174.9 278.9,184.1 279.1,193.3 279.1,202.5 278.9,211.7 278.6,220.9 278.1,230.2 277.4,239.4 276.7,248.6 275.7,257.8 274.6,267 273.4,276.3 272,285.5 270.5,294.7 268.8,303.9 266.9,313.1 264.9,322.4 262.7,331.6 260.4,340.8 258,350 255.4,359.2 252.6,368.5 249.7,377.7 246.6,386.9" fill="none" stroke="rgba(50,32,5,0.55)" stroke-width="1.05"/>
<path d="M252.7,8.9 255.8,18.1 258.6,27.3 261.3,36.6 263.9,45.8 266.3,55 268.6,64.2 270.7,73.4 272.7,82.7 274.5,91.9 276.1,101.1 277.6,110.3 279,119.5 280.2,128.8 281.2,138 282.1,147.2 282.8,156.4 283.4,165.6 283.8,174.9 284.1,184.1 284.2,193.3 284.2,202.5 284,211.7 283.7,220.9 283.2,230.2 282.6,239.4 281.8,248.6 280.8,257.8 279.7,267 278.5,276.3 277.1,285.5 275.5,294.7 273.8,303.9 272,313.1 270,322.4 267.8,331.6 265.5,340.8 263,350 260.4,359.2 257.6,368.5 254.7,377.7 251.6,386.9" fill="none" stroke="rgba(50,32,5,0.55)" stroke-width="1.05"/>
<path d="M258.1,8.9 261.1,18.1 263.9,27.3 266.7,36.6 269.2,45.8 271.6,55 273.9,64.2 276,73.4 277.9,82.7 279.7,91.9 281.4,101.1 282.9,110.3 284.2,119.5 285.4,128.8 286.4,138 287.3,147.2 288,156.4 288.6,165.6 289,174.9 289.3,184.1 289.4,193.3 289.4,202.5 289.2,211.7 288.8,220.9 288.3,230.2 287.7,239.4 286.9,248.6 285.9,257.8 284.8,267 283.6,276.3 282.2,285.5 280.6,294.7 278.9,303.9 277,313.1 275,322.4 272.8,331.6 270.5,340.8 268,350 265.4,359.2 262.6,368.5 259.7,377.7 256.6,386.9" fill="none" stroke="rgba(50,32,5,0.55)" stroke-width="1.05"/>
<path d="M270.3,8.9 273.3,18.1 276.1,27.3 278.8,36.6 281.3,45.8 283.7,55 286,64.2 288,73.4 290,82.7 291.7,91.9 293.4,101.1 294.8,110.3 296.2,119.5 297.3,128.8 298.3,138 299.2,147.2 299.9,156.4 300.5,165.6 300.9,174.9 301.1,184.1 301.2,193.3 301.2,202.5 300.9,211.7 300.6,220.9 300.1,230.2 299.4,239.4 298.6,248.6 297.6,257.8 296.5,267 295.2,276.3 293.8,285.5 292.2,294.7 290.5,303.9 288.6,313.1 286.5,322.4 284.3,331.6 282,340.8 279.5,350 276.8,359.2 274,368.5 271.1,377.7 268,386.9" fill="none" stroke="rgba(50,32,5,0.55)" stroke-width="1.05"/>
<path d="M275.6,8.9 278.6,18.1 281.4,27.3 284.1,36.6 286.6,45.8 289,55 291.2,64.2 293.3,73.4 295.2,82.7 297,91.9 298.6,101.1 300.1,110.3 301.4,119.5 302.6,128.8 303.6,138 304.4,147.2 305.1,156.4 305.7,165.6 306,174.9 306.3,184.1 306.4,193.3 306.3,202.5 306.1,211.7 305.7,220.9 305.2,230.2 304.5,239.4 303.7,248.6 302.7,257.8 301.6,267 300.3,276.3 298.9,285.5 297.3,294.7 295.5,303.9 293.6,313.1 291.6,322.4 289.4,331.6 287,340.8 284.5,350 281.8,359.2 279,368.5 276.1,377.7 272.9,386.9" fill="none" stroke="rgba(50,32,5,0.55)" stroke-width="1.05"/>
<path d="M280.9,8.9 283.9,18.1 286.7,27.3 289.4,36.6 291.9,45.8 294.3,55 296.5,64.2 298.6,73.4 300.5,82.7 302.3,91.9 303.9,101.1 305.3,110.3 306.6,119.5 307.8,128.8 308.8,138 309.6,147.2 310.3,156.4 310.8,165.6 311.2,174.9 311.5,184.1 311.5,193.3 311.5,202.5 311.2,211.7 310.9,220.9 310.3,230.2 309.7,239.4 308.8,248.6 307.8,257.8 306.7,267 305.4,276.3 303.9,285.5 302.3,294.7 300.6,303.9 298.7,313.1 296.6,322.4 294.4,331.6 292,340.8 289.5,350 286.9,359.2 284,368.5 281.1,377.7 277.9,386.9" fill="none" stroke="rgba(50,32,5,0.55)" stroke-width="1.05"/>
<path d="M286.3,8.9 289.3,18.1 292.1,27.3 294.7,36.6 297.3,45.8 299.6,55 301.8,64.2 303.9,73.4 305.8,82.7 307.5,91.9 309.1,101.1 310.6,110.3 311.9,119.5 313,128.8 314,138 314.8,147.2 315.5,156.4 316,165.6 316.4,174.9 316.6,184.1 316.7,193.3 316.6,202.5 316.4,211.7 316,220.9 315.5,230.2 314.8,239.4 313.9,248.6 312.9,257.8 311.8,267 310.5,276.3 309,285.5 307.4,294.7 305.7,303.9 303.7,313.1 301.7,322.4 299.5,331.6 297.1,340.8 294.6,350 291.9,359.2 289,368.5 286.1,377.7 282.9,386.9" fill="none" stroke="rgba(50,32,5,0.55)" stroke-width="1.05"/>
<path d="M291.6,8.9 294.6,18.1 297.4,27.3 300.1,36.6 302.6,45.8 304.9,55 307.1,64.2 309.2,73.4 311.1,82.7 312.8,91.9 314.4,101.1 315.8,110.3 317.1,119.5 318.2,128.8 319.2,138 320,147.2 320.7,156.4 321.2,165.6 321.6,174.9 321.8,184.1 321.9,193.3 321.8,202.5 321.5,211.7 321.2,220.9 320.6,230.2 319.9,239.4 319.1,248.6 318,257.8 316.9,267 315.6,276.3 314.1,285.5 312.5,294.7 310.7,303.9 308.8,313.1 306.7,322.4 304.5,331.6 302.1,340.8 299.6,350 296.9,359.2 294.1,368.5 291.1,377.7 287.9,386.9" fill="none" stroke="rgba(50,32,5,0.55)" stroke-width="1.05"/>
<path d="M303.8,8.9 306.8,18.1 309.5,27.3 312.2,36.6 314.7,45.8 317,55 319.2,64.2 321.2,73.4 323.1,82.7 324.8,91.9 326.4,101.1 327.8,110.3 329.1,119.5 330.2,128.8 331.1,138 331.9,147.2 332.6,156.4 333.1,165.6 333.4,174.9 333.6,184.1 333.7,193.3 333.6,202.5 333.3,211.7 332.9,220.9 332.3,230.2 331.6,239.4 330.7,248.6 329.7,257.8 328.5,267 327.2,276.3 325.7,285.5 324.1,294.7 322.3,303.9 320.3,313.1 318.2,322.4 316,331.6 313.6,340.8 311,350 308.3,359.2 305.5,368.5 302.5,377.7 299.3,386.9" fill="none" stroke="rgba(50,32,5,0.55)" stroke-width="1.05"/>
<path d="M309.2,8.9 312.1,18.1 314.9,27.3 317.5,36.6 320,45.8 322.3,55 324.5,64.2 326.5,73.4 328.4,82.7 330.1,91.9 331.6,101.1 333,110.3 334.3,119.5 335.4,128.8 336.4,138 337.2,147.2 337.8,156.4 338.3,165.6 338.6,174.9 338.8,184.1 338.9,193.3 338.7,202.5 338.5,211.7 338,220.9 337.5,230.2 336.7,239.4 335.9,248.6 334.8,257.8 333.6,267 332.3,276.3 330.8,285.5 329.1,294.7 327.4,303.9 325.4,313.1 323.3,322.4 321,331.6 318.6,340.8 316.1,350 313.4,359.2 310.5,368.5 307.5,377.7 304.3,386.9" fill="none" stroke="rgba(50,32,5,0.55)" stroke-width="1.05"/>
<path d="M314.5,8.9 317.4,18.1 320.2,27.3 322.8,36.6 325.3,45.8 327.6,55 329.8,64.2 331.8,73.4 333.6,82.7 335.3,91.9 336.9,101.1 338.3,110.3 339.5,119.5 340.6,128.8 341.6,138 342.4,147.2 343,156.4 343.5,165.6 343.8,174.9 344,184.1 344,193.3 343.9,202.5 343.6,211.7 343.2,220.9 342.6,230.2 341.9,239.4 341,248.6 339.9,257.8 338.7,267 337.4,276.3 335.9,285.5 334.2,294.7 332.4,303.9 330.5,313.1 328.3,322.4 326.1,331.6 323.7,340.8 321.1,350 318.4,359.2 315.5,368.5 312.5,377.7 309.3,386.9" fill="none" stroke="rgba(50,32,5,0.55)" stroke-width="1.05"/>
<path d="M319.8,8.9 322.8,18.1 325.5,27.3 328.1,36.6 330.6,45.8 332.9,55 335.1,64.2 337.1,73.4 338.9,82.7 340.6,91.9 342.1,101.1 343.5,110.3 344.8,119.5 345.9,128.8 346.8,138 347.6,147.2 348.2,156.4 348.7,165.6 349,174.9 349.2,184.1 349.2,193.3 349.1,202.5 348.8,211.7 348.3,220.9 347.7,230.2 347,239.4 346.1,248.6 345,257.8 343.8,267 342.5,276.3 341,285.5 339.3,294.7 337.5,303.9 335.5,313.1 333.4,322.4 331.1,331.6 328.7,340.8 326.1,350 323.4,359.2 320.5,368.5 317.5,377.7 314.3,386.9" fill="none" stroke="rgba(50,32,5,0.55)" stroke-width="1.05"/>
<path d="M325.2,8.9 328.1,18.1 330.8,27.3 333.4,36.6 335.9,45.8 338.2,55 340.3,64.2 342.3,73.4 344.2,82.7 345.9,91.9 347.4,101.1 348.8,110.3 350,119.5 351.1,128.8 352,138 352.8,147.2 353.4,156.4 353.9,165.6 354.2,174.9 354.4,184.1 354.4,193.3 354.2,202.5 353.9,211.7 353.5,220.9 352.9,230.2 352.1,239.4 351.2,248.6 350.1,257.8 348.9,267 347.6,276.3 346,285.5 344.4,294.7 342.5,303.9 340.6,313.1 338.4,322.4 336.2,331.6 333.7,340.8 331.1,350 328.4,359.2 325.5,368.5 322.5,377.7 319.3,386.9" fill="none" stroke="rgba(50,32,5,0.55)" stroke-width="1.05"/>
<path d="M337.4,8.9 340.3,18.1 343,27.3 345.6,36.6 348,45.8 350.3,55 352.4,64.2 354.4,73.4 356.2,82.7 357.9,91.9 359.4,101.1 360.8,110.3 362,119.5 363,128.8 363.9,138 364.7,147.2 365.3,156.4 365.7,165.6 366,174.9 366.2,184.1 366.2,193.3 366,202.5 365.7,211.7 365.2,220.9 364.6,230.2 363.8,239.4 362.9,248.6 361.8,257.8 360.6,267 359.2,276.3 357.6,285.5 356,294.7 354.1,303.9 352.1,313.1 350,322.4 347.7,331.6 345.2,340.8 342.6,350 339.8,359.2 336.9,368.5 333.9,377.7 330.6,386.9" fill="none" stroke="rgba(50,32,5,0.55)" stroke-width="1.05"/>
<path d="M342.7,8.9 345.6,18.1 348.3,27.3 350.9,36.6 353.3,45.8 355.6,55 357.7,64.2 359.7,73.4 361.5,82.7 363.1,91.9 364.7,101.1 366,110.3 367.2,119.5 368.3,128.8 369.2,138 369.9,147.2 370.5,156.4 370.9,165.6 371.2,174.9 371.3,184.1 371.3,193.3 371.2,202.5 370.8,211.7 370.4,220.9 369.7,230.2 368.9,239.4 368,248.6 366.9,257.8 365.7,267 364.3,276.3 362.7,285.5 361,294.7 359.2,303.9 357.2,313.1 355,322.4 352.7,331.6 350.2,340.8 347.6,350 344.9,359.2 341.9,368.5 338.9,377.7 335.6,386.9" fill="none" stroke="rgba(50,32,5,0.55)" stroke-width="1.05"/>
<path d="M348,8.9 350.9,18.1 353.6,27.3 356.2,36.6 358.6,45.8 360.9,55 363,64.2 365,73.4 366.8,82.7 368.4,91.9 369.9,101.1 371.3,110.3 372.4,119.5 373.5,128.8 374.4,138 375.1,147.2 375.7,156.4 376.1,165.6 376.4,174.9 376.5,184.1 376.5,193.3 376.3,202.5 376,211.7 375.5,220.9 374.9,230.2 374.1,239.4 373.1,248.6 372,257.8 370.8,267 369.4,276.3 367.8,285.5 366.1,294.7 364.2,303.9 362.2,313.1 360.1,322.4 357.7,331.6 355.3,340.8 352.7,350 349.9,359.2 346.9,368.5 343.9,377.7 340.6,386.9" fill="none" stroke="rgba(50,32,5,0.55)" stroke-width="1.05"/>
<path d="M353.4,8.9 356.3,18.1 359,27.3 361.5,36.6 363.9,45.8 366.2,55 368.3,64.2 370.2,73.4 372,82.7 373.7,91.9 375.2,101.1 376.5,110.3 377.7,119.5 378.7,128.8 379.6,138 380.3,147.2 380.9,156.4 381.3,165.6 381.6,174.9 381.7,184.1 381.7,193.3 381.5,202.5 381.1,211.7 380.6,220.9 380,230.2 379.2,239.4 378.2,248.6 377.1,257.8 375.9,267 374.5,276.3 372.9,285.5 371.2,294.7 369.3,303.9 367.3,313.1 365.1,322.4 362.8,331.6 360.3,340.8 357.7,350 354.9,359.2 351.9,368.5 348.9,377.7 345.6,386.9" fill="none" stroke="rgba(50,32,5,0.55)" stroke-width="1.05"/>
<path d="M358.7,8.9 361.6,18.1 364.3,27.3 366.8,36.6 369.2,45.8 371.5,55 373.6,64.2 375.5,73.4 377.3,82.7 378.9,91.9 380.4,101.1 381.7,110.3 382.9,119.5 383.9,128.8 384.8,138 385.5,147.2 386.1,156.4 386.5,165.6 386.8,174.9 386.9,184.1 386.8,193.3 386.6,202.5 386.3,211.7 385.8,220.9 385.1,230.2 384.3,239.4 383.4,248.6 382.2,257.8 381,267 379.6,276.3 378,285.5 376.3,294.7 374.4,303.9 372.3,313.1 370.2,322.4 367.8,331.6 365.3,340.8 362.7,350 359.9,359.2 357,368.5 353.9,377.7 350.6,386.9" fill="none" stroke="rgba(50,32,5,0.55)" stroke-width="1.05"/>
<path d="M370.9,8.9 373.8,18.1 376.4,27.3 379,36.6 381.4,45.8 383.6,55 385.6,64.2 387.6,73.4 389.3,82.7 391,91.9 392.4,101.1 393.7,110.3 394.9,119.5 395.9,128.8 396.7,138 397.4,147.2 398,156.4 398.4,165.6 398.6,174.9 398.7,184.1 398.6,193.3 398.4,202.5 398,211.7 397.5,220.9 396.8,230.2 396,239.4 395,248.6 393.9,257.8 392.6,267 391.2,276.3 389.6,285.5 387.8,294.7 385.9,303.9 383.9,313.1 381.7,322.4 379.3,331.6 376.8,340.8 374.2,350 371.3,359.2 368.4,368.5 365.3,377.7 362,386.9" fill="none" stroke="rgba(50,32,5,0.55)" stroke-width="1.05"/>
<path d="M376.3,8.9 379.1,18.1 381.8,27.3 384.3,36.6 386.7,45.8 388.9,55 390.9,64.2 392.8,73.4 394.6,82.7 396.2,91.9 397.7,101.1 399,110.3 400.1,119.5 401.1,128.8 402,138 402.6,147.2 403.2,156.4 403.6,165.6 403.8,174.9 403.9,184.1 403.8,193.3 403.6,202.5 403.2,211.7 402.7,220.9 402,230.2 401.1,239.4 400.2,248.6 399,257.8 397.7,267 396.3,276.3 394.7,285.5 392.9,294.7 391,303.9 388.9,313.1 386.7,322.4 384.4,331.6 381.9,340.8 379.2,350 376.4,359.2 373.4,368.5 370.3,377.7 367,386.9" fill="none" stroke="rgba(50,32,5,0.55)" stroke-width="1.05"/>
<path d="M381.6,8.9 384.4,18.1 387.1,27.3 389.6,36.6 392,45.8 394.2,55 396.2,64.2 398.1,73.4 399.9,82.7 401.5,91.9 402.9,101.1 404.2,110.3 405.4,119.5 406.3,128.8 407.2,138 407.9,147.2 408.4,156.4 408.8,165.6 409,174.9 409.1,184.1 409,193.3 408.7,202.5 408.4,211.7 407.8,220.9 407.1,230.2 406.3,239.4 405.3,248.6 404.1,257.8 402.8,267 401.4,276.3 399.8,285.5 398,294.7 396.1,303.9 394,313.1 391.8,322.4 389.4,331.6 386.9,340.8 384.2,350 381.4,359.2 378.4,368.5 375.3,377.7 372,386.9" fill="none" stroke="rgba(50,32,5,0.55)" stroke-width="1.05"/>
<path d="M386.9,8.9 389.8,18.1 392.4,27.3 394.9,36.6 397.3,45.8 399.5,55 401.5,64.2 403.4,73.4 405.2,82.7 406.7,91.9 408.2,101.1 409.5,110.3 410.6,119.5 411.6,128.8 412.4,138 413.1,147.2 413.6,156.4 414,165.6 414.2,174.9 414.2,184.1 414.1,193.3 413.9,202.5 413.5,211.7 413,220.9 412.3,230.2 411.4,239.4 410.4,248.6 409.2,257.8 407.9,267 406.5,276.3 404.8,285.5 403.1,294.7 401.1,303.9 399.1,313.1 396.8,322.4 394.5,331.6 391.9,340.8 389.2,350 386.4,359.2 383.4,368.5 380.3,377.7 377,386.9" fill="none" stroke="rgba(50,32,5,0.55)" stroke-width="1.05"/>
<path d="M392.3,8.9 395.1,18.1 397.7,27.3 400.2,36.6 402.6,45.8 404.8,55 406.8,64.2 408.7,73.4 410.4,82.7 412,91.9 413.4,101.1 414.7,110.3 415.8,119.5 416.8,128.8 417.6,138 418.3,147.2 418.8,156.4 419.2,165.6 419.4,174.9 419.4,184.1 419.3,193.3 419.1,202.5 418.7,211.7 418.1,220.9 417.4,230.2 416.5,239.4 415.5,248.6 414.3,257.8 413,267 411.5,276.3 409.9,285.5 408.1,294.7 406.2,303.9 404.1,313.1 401.9,322.4 399.5,331.6 397,340.8 394.3,350 391.4,359.2 388.4,368.5 385.3,377.7 381.9,386.9" fill="none" stroke="rgba(50,32,5,0.55)" stroke-width="1.05"/>
<path d="M404.5,8.9 407.3,18.1 409.9,27.3 412.4,36.6 414.7,45.8 416.9,55 418.9,64.2 420.7,73.4 422.5,82.7 424,91.9 425.4,101.1 426.7,110.3 427.8,119.5 428.7,128.8 429.5,138 430.2,147.2 430.7,156.4 431,165.6 431.2,174.9 431.2,184.1 431.1,193.3 430.8,202.5 430.4,211.7 429.8,220.9 429.1,230.2 428.2,239.4 427.2,248.6 426,257.8 424.7,267 423.2,276.3 421.5,285.5 419.7,294.7 417.8,303.9 415.7,313.1 413.4,322.4 411,331.6 408.4,340.8 405.7,350 402.9,359.2 399.8,368.5 396.7,377.7 393.3,386.9" fill="none" stroke="rgba(50,32,5,0.55)" stroke-width="1.05"/>
<path d="M409.8,8.9 412.6,18.1 415.2,27.3 417.7,36.6 420,45.8 422.2,55 424.2,64.2 426,73.4 427.7,82.7 429.3,91.9 430.7,101.1 431.9,110.3 433,119.5 434,128.8 434.8,138 435.4,147.2 435.9,156.4 436.2,165.6 436.4,174.9 436.4,184.1 436.3,193.3 436,202.5 435.6,211.7 435,220.9 434.2,230.2 433.4,239.4 432.3,248.6 431.1,257.8 429.8,267 428.3,276.3 426.6,285.5 424.8,294.7 422.8,303.9 420.7,313.1 418.5,322.4 416,331.6 413.5,340.8 410.7,350 407.9,359.2 404.8,368.5 401.7,377.7 398.3,386.9" fill="none" stroke="rgba(50,32,5,0.55)" stroke-width="1.05"/>
<path d="M415.2,8.9 417.9,18.1 420.5,27.3 423,36.6 425.3,45.8 427.5,55 429.5,64.2 431.3,73.4 433,82.7 434.5,91.9 435.9,101.1 437.2,110.3 438.3,119.5 439.2,128.8 440,138 440.6,147.2 441.1,156.4 441.4,165.6 441.6,174.9 441.6,184.1 441.4,193.3 441.2,202.5 440.7,211.7 440.1,220.9 439.4,230.2 438.5,239.4 437.4,248.6 436.2,257.8 434.9,267 433.4,276.3 431.7,285.5 429.9,294.7 427.9,303.9 425.8,313.1 423.5,322.4 421.1,331.6 418.5,340.8 415.8,350 412.9,359.2 409.8,368.5 406.7,377.7 403.3,386.9" fill="none" stroke="rgba(50,32,5,0.55)" stroke-width="1.05"/>
<path d="M420.5,8.9 423.3,18.1 425.9,27.3 428.3,36.6 430.6,45.8 432.8,55 434.7,64.2 436.6,73.4 438.3,82.7 439.8,91.9 441.2,101.1 442.4,110.3 443.5,119.5 444.4,128.8 445.2,138 445.8,147.2 446.3,156.4 446.6,165.6 446.8,174.9 446.8,184.1 446.6,193.3 446.3,202.5 445.9,211.7 445.3,220.9 444.5,230.2 443.6,239.4 442.5,248.6 441.3,257.8 440,267 438.4,276.3 436.8,285.5 434.9,294.7 433,303.9 430.8,313.1 428.6,322.4 426.1,331.6 423.5,340.8 420.8,350 417.9,359.2 414.9,368.5 411.7,377.7 408.3,386.9" fill="none" stroke="rgba(50,32,5,0.55)" stroke-width="1.05"/>
<path d="M425.8,8.9 428.6,18.1 431.2,27.3 433.6,36.6 435.9,45.8 438.1,55 440,64.2 441.9,73.4 443.5,82.7 445.1,91.9 446.4,101.1 447.7,110.3 448.7,119.5 449.7,128.8 450.4,138 451,147.2 451.5,156.4 451.8,165.6 451.9,174.9 451.9,184.1 451.8,193.3 451.5,202.5 451,211.7 450.4,220.9 449.6,230.2 448.7,239.4 447.7,248.6 446.4,257.8 445.1,267 443.5,276.3 441.9,285.5 440,294.7 438,303.9 435.9,313.1 433.6,322.4 431.2,331.6 428.6,340.8 425.8,350 422.9,359.2 419.9,368.5 416.6,377.7 413.3,386.9" fill="none" stroke="rgba(50,32,5,0.55)" stroke-width="1.05"/>
<path d="M438,8.9 440.8,18.1 443.3,27.3 445.8,36.6 448,45.8 450.1,55 452.1,64.2 453.9,73.4 455.6,82.7 457.1,91.9 458.4,101.1 459.6,110.3 460.7,119.5 461.6,128.8 462.3,138 462.9,147.2 463.4,156.4 463.6,165.6 463.8,174.9 463.8,184.1 463.6,193.3 463.3,202.5 462.8,211.7 462.2,220.9 461.4,230.2 460.4,239.4 459.3,248.6 458.1,257.8 456.7,267 455.2,276.3 453.5,285.5 451.6,294.7 449.6,303.9 447.4,313.1 445.1,322.4 442.7,331.6 440.1,340.8 437.3,350 434.4,359.2 431.3,368.5 428.1,377.7 424.7,386.9" fill="none" stroke="rgba(50,32,5,0.55)" stroke-width="1.05"/>
<path d="M443.4,8.9 446.1,18.1 448.7,27.3 451.1,36.6 453.3,45.8 455.4,55 457.4,64.2 459.2,73.4 460.9,82.7 462.4,91.9 463.7,101.1 464.9,110.3 465.9,119.5 466.8,128.8 467.6,138 468.1,147.2 468.6,156.4 468.8,165.6 469,174.9 468.9,184.1 468.8,193.3 468.4,202.5 467.9,211.7 467.3,220.9 466.5,230.2 465.6,239.4 464.5,248.6 463.2,257.8 461.8,267 460.2,276.3 458.5,285.5 456.7,294.7 454.7,303.9 452.5,313.1 450.2,322.4 447.7,331.6 445.1,340.8 442.3,350 439.4,359.2 436.3,368.5 433.1,377.7 429.7,386.9" fill="none" stroke="rgba(50,32,5,0.55)" stroke-width="1.05"/>
<path d="M448.7,8.9 451.4,18.1 454,27.3 456.4,36.6 458.6,45.8 460.7,55 462.7,64.2 464.5,73.4 466.1,82.7 467.6,91.9 469,101.1 470.1,110.3 471.2,119.5 472,128.8 472.8,138 473.3,147.2 473.8,156.4 474,165.6 474.2,174.9 474.1,184.1 473.9,193.3 473.6,202.5 473.1,211.7 472.4,220.9 471.6,230.2 470.7,239.4 469.6,248.6 468.3,257.8 466.9,267 465.3,276.3 463.6,285.5 461.8,294.7 459.7,303.9 457.6,313.1 455.2,322.4 452.7,331.6 450.1,340.8 447.3,350 444.4,359.2 441.3,368.5 438.1,377.7 434.7,386.9" fill="none" stroke="rgba(50,32,5,0.55)" stroke-width="1.05"/>
<path d="M454,8.9 456.8,18.1 459.3,27.3 461.7,36.6 463.9,45.8 466,55 468,64.2 469.8,73.4 471.4,82.7 472.9,91.9 474.2,101.1 475.4,110.3 476.4,119.5 477.3,128.8 478,138 478.6,147.2 479,156.4 479.2,165.6 479.3,174.9 479.3,184.1 479.1,193.3 478.7,202.5 478.2,211.7 477.6,220.9 476.8,230.2 475.8,239.4 474.7,248.6 473.4,257.8 472,267 470.4,276.3 468.7,285.5 466.8,294.7 464.8,303.9 462.6,313.1 460.3,322.4 457.8,331.6 455.1,340.8 452.3,350 449.4,359.2 446.3,368.5 443,377.7 439.6,386.9" fill="none" stroke="rgba(50,32,5,0.55)" stroke-width="1.05"/>
<path d="M459.4,8.9 462.1,18.1 464.6,27.3 467,36.6 469.3,45.8 471.3,55 473.3,64.2 475,73.4 476.7,82.7 478.1,91.9 479.5,101.1 480.6,110.3 481.6,119.5 482.5,128.8 483.2,138 483.8,147.2 484.2,156.4 484.4,165.6 484.5,174.9 484.5,184.1 484.3,193.3 483.9,202.5 483.4,211.7 482.7,220.9 481.9,230.2 480.9,239.4 479.8,248.6 478.5,257.8 477.1,267 475.5,276.3 473.8,285.5 471.9,294.7 469.9,303.9 467.7,313.1 465.3,322.4 462.8,331.6 460.2,340.8 457.4,350 454.4,359.2 451.3,368.5 448,377.7 444.6,386.9" fill="none" stroke="rgba(50,32,5,0.55)" stroke-width="1.05"/>
<path d="M471.6,8.9 474.3,18.1 476.8,27.3 479.1,36.6 481.4,45.8 483.4,55 485.3,64.2 487.1,73.4 488.7,82.7 490.2,91.9 491.5,101.1 492.6,110.3 493.6,119.5 494.4,128.8 495.1,138 495.7,147.2 496.1,156.4 496.3,165.6 496.4,174.9 496.3,184.1 496.1,193.3 495.7,202.5 495.2,211.7 494.5,220.9 493.6,230.2 492.6,239.4 491.5,248.6 490.2,257.8 488.7,267 487.1,276.3 485.4,285.5 483.5,294.7 481.4,303.9 479.2,313.1 476.9,322.4 474.3,331.6 471.7,340.8 468.8,350 465.9,359.2 462.7,368.5 459.5,377.7 456,386.9" fill="none" stroke="rgba(50,32,5,0.55)" stroke-width="1.05"/>
<path d="M62.6,8.9 65.9,18.1 69.1,27.3 72.1,36.6 75,45.8 77.7,55 80.3,64.2 82.7,73.4 84.9,82.7 87.1,91.9 89,101.1 90.8,110.3 92.5,119.5 94,128.8 95.3,138 96.5,147.2 97.6,156.4 98.4,165.6 99.2,174.9 99.8,184.1 100.2,193.3 100.5,202.5 100.6,211.7 100.6,220.9 100.4,230.2 100.1,239.4 99.6,248.6 98.9,257.8 98.1,267 97.2,276.3 96.1,285.5 94.9,294.7 93.4,303.9 91.9,313.1 90.2,322.4 88.3,331.6 86.3,340.8 84.1,350 81.8,359.2 79.4,368.5 76.7,377.7 74,386.9" fill="none" stroke="#fbfbff" stroke-width="1.9"/>
<path d="M96.1,8.9 99.4,18.1 102.5,27.3 105.5,36.6 108.3,45.8 111,55 113.5,64.2 115.9,73.4 118.1,82.7 120.1,91.9 122,101.1 123.8,110.3 125.4,119.5 126.8,128.8 128.1,138 129.3,147.2 130.2,156.4 131.1,165.6 131.8,174.9 132.3,184.1 132.7,193.3 132.9,202.5 133,211.7 132.9,220.9 132.6,230.2 132.3,239.4 131.7,248.6 131,257.8 130.2,267 129.2,276.3 128,285.5 126.7,294.7 125.3,303.9 123.7,313.1 121.9,322.4 120,331.6 117.9,340.8 115.7,350 113.3,359.2 110.8,368.5 108.1,377.7 105.3,386.9" fill="none" stroke="#fbfbff" stroke-width="1.9"/>
<path d="M129.7,8.9 132.9,18.1 136,27.3 138.9,36.6 141.7,45.8 144.3,55 146.7,64.2 149,73.4 151.2,82.7 153.2,91.9 155,101.1 156.7,110.3 158.3,119.5 159.7,128.8 160.9,138 162,147.2 162.9,156.4 163.7,165.6 164.3,174.9 164.8,184.1 165.1,193.3 165.3,202.5 165.3,211.7 165.2,220.9 164.9,230.2 164.5,239.4 163.9,248.6 163.1,257.8 162.2,267 161.2,276.3 160,285.5 158.6,294.7 157.1,303.9 155.4,313.1 153.6,322.4 151.7,331.6 149.5,340.8 147.3,350 144.8,359.2 142.3,368.5 139.5,377.7 136.6,386.9" fill="none" stroke="#fbfbff" stroke-width="1.9"/>
<path d="M163.2,8.9 166.4,18.1 169.4,27.3 172.3,36.6 175,45.8 177.6,55 180,64.2 182.2,73.4 184.3,82.7 186.3,91.9 188.1,101.1 189.7,110.3 191.2,119.5 192.5,128.8 193.7,138 194.8,147.2 195.6,156.4 196.4,165.6 196.9,174.9 197.4,184.1 197.6,193.3 197.7,202.5 197.7,211.7 197.5,220.9 197.2,230.2 196.7,239.4 196,248.6 195.2,257.8 194.3,267 193.2,276.3 191.9,285.5 190.5,294.7 188.9,303.9 187.2,313.1 185.3,322.4 183.3,331.6 181.2,340.8 178.8,350 176.3,359.2 173.7,368.5 170.9,377.7 168,386.9" fill="none" stroke="#fbfbff" stroke-width="1.9"/>
<path d="M196.8,8.9 199.9,18.1 202.9,27.3 205.7,36.6 208.3,45.8 210.8,55 213.2,64.2 215.4,73.4 217.4,82.7 219.3,91.9 221.1,101.1 222.7,110.3 224.1,119.5 225.4,128.8 226.5,138 227.5,147.2 228.3,156.4 229,165.6 229.5,174.9 229.9,184.1 230.1,193.3 230.2,202.5 230.1,211.7 229.8,220.9 229.4,230.2 228.9,239.4 228.2,248.6 227.3,257.8 226.3,267 225.2,276.3 223.8,285.5 222.4,294.7 220.8,303.9 219,313.1 217.1,322.4 215,331.6 212.8,340.8 210.4,350 207.8,359.2 205.2,368.5 202.3,377.7 199.3,386.9" fill="none" stroke="#fbfbff" stroke-width="1.9"/>
<path d="M230.3,8.9 233.4,18.1 236.3,27.3 239.1,36.6 241.7,45.8 244.1,55 246.4,64.2 248.6,73.4 250.6,82.7 252.4,91.9 254.1,101.1 255.6,110.3 257,119.5 258.2,128.8 259.3,138 260.2,147.2 261,156.4 261.6,165.6 262.1,174.9 262.4,184.1 262.6,193.3 262.6,202.5 262.4,211.7 262.1,220.9 261.7,230.2 261.1,239.4 260.3,248.6 259.4,257.8 258.4,267 257.1,276.3 255.8,285.5 254.3,294.7 252.6,303.9 250.8,313.1 248.8,322.4 246.7,331.6 244.4,340.8 241.9,350 239.4,359.2 236.6,368.5 233.7,377.7 230.7,386.9" fill="none" stroke="#fbfbff" stroke-width="1.9"/>
<path d="M263.9,8.9 266.9,18.1 269.8,27.3 272.5,36.6 275,45.8 277.4,55 279.7,64.2 281.7,73.4 283.7,82.7 285.5,91.9 287.1,101.1 288.6,110.3 289.9,119.5 291.1,128.8 292.1,138 293,147.2 293.7,156.4 294.3,165.6 294.7,174.9 294.9,184.1 295,193.3 295,202.5 294.8,211.7 294.5,220.9 293.9,230.2 293.3,239.4 292.5,248.6 291.5,257.8 290.4,267 289.1,276.3 287.7,285.5 286.1,294.7 284.4,303.9 282.5,313.1 280.5,322.4 278.3,331.6 276,340.8 273.5,350 270.9,359.2 268.1,368.5 265.1,377.7 262,386.9" fill="none" stroke="#fbfbff" stroke-width="1.9"/>
<path d="M297.4,8.9 300.4,18.1 303.2,27.3 305.9,36.6 308.3,45.8 310.7,55 312.9,64.2 314.9,73.4 316.8,82.7 318.5,91.9 320.1,101.1 321.5,110.3 322.8,119.5 323.9,128.8 324.9,138 325.7,147.2 326.4,156.4 326.9,165.6 327.3,174.9 327.5,184.1 327.5,193.3 327.4,202.5 327.2,211.7 326.8,220.9 326.2,230.2 325.5,239.4 324.6,248.6 323.6,257.8 322.5,267 321.1,276.3 319.7,285.5 318,294.7 316.2,303.9 314.3,313.1 312.2,322.4 310,331.6 307.6,340.8 305.1,350 302.4,359.2 299.5,368.5 296.5,377.7 293.4,386.9" fill="none" stroke="#fbfbff" stroke-width="1.9"/>
<path d="M331,8.9 333.9,18.1 336.7,27.3 339.2,36.6 341.7,45.8 344,55 346.1,64.2 348.1,73.4 349.9,82.7 351.6,91.9 353.1,101.1 354.5,110.3 355.7,119.5 356.8,128.8 357.7,138 358.5,147.2 359.1,156.4 359.5,165.6 359.8,174.9 360,184.1 360,193.3 359.8,202.5 359.5,211.7 359.1,220.9 358.5,230.2 357.7,239.4 356.8,248.6 355.7,257.8 354.5,267 353.1,276.3 351.6,285.5 349.9,294.7 348.1,303.9 346.1,313.1 344,322.4 341.7,331.6 339.2,340.8 336.6,350 333.9,359.2 331,368.5 327.9,377.7 324.7,386.9" fill="none" stroke="#fbfbff" stroke-width="1.9"/>
<path d="M364.6,8.9 367.4,18.1 370.1,27.3 372.6,36.6 375,45.8 377.3,55 379.3,64.2 381.3,73.4 383.1,82.7 384.7,91.9 386.2,101.1 387.5,110.3 388.6,119.5 389.7,128.8 390.5,138 391.2,147.2 391.8,156.4 392.2,165.6 392.4,174.9 392.5,184.1 392.5,193.3 392.3,202.5 391.9,211.7 391.4,220.9 390.7,230.2 389.9,239.4 388.9,248.6 387.8,257.8 386.5,267 385.1,276.3 383.5,285.5 381.8,294.7 379.9,303.9 377.9,313.1 375.7,322.4 373.3,331.6 370.8,340.8 368.2,350 365.4,359.2 362.4,368.5 359.3,377.7 356,386.9" fill="none" stroke="#fbfbff" stroke-width="1.9"/>
<path d="M398.1,8.9 400.9,18.1 403.5,27.3 406,36.6 408.4,45.8 410.5,55 412.6,64.2 414.5,73.4 416.2,82.7 417.7,91.9 419.2,101.1 420.4,110.3 421.5,119.5 422.5,128.8 423.3,138 424,147.2 424.5,156.4 424.8,165.6 425,174.9 425.1,184.1 425,193.3 424.7,202.5 424.3,211.7 423.7,220.9 423,230.2 422.1,239.4 421.1,248.6 419.9,257.8 418.6,267 417.1,276.3 415.5,285.5 413.7,294.7 411.7,303.9 409.6,313.1 407.4,322.4 405,331.6 402.4,340.8 399.7,350 396.9,359.2 393.9,368.5 390.7,377.7 387.4,386.9" fill="none" stroke="#fbfbff" stroke-width="1.9"/>
<path d="M431.7,8.9 434.4,18.1 437,27.3 439.4,36.6 441.7,45.8 443.8,55 445.8,64.2 447.6,73.4 449.3,82.7 450.8,91.9 452.2,101.1 453.4,110.3 454.5,119.5 455.4,128.8 456.1,138 456.7,147.2 457.2,156.4 457.5,165.6 457.6,174.9 457.6,184.1 457.4,193.3 457.1,202.5 456.6,211.7 456,220.9 455.2,230.2 454.3,239.4 453.2,248.6 452,257.8 450.6,267 449.1,276.3 447.4,285.5 445.6,294.7 443.6,303.9 441.4,313.1 439.1,322.4 436.7,331.6 434.1,340.8 431.3,350 428.4,359.2 425.3,368.5 422.1,377.7 418.7,386.9" fill="none" stroke="#fbfbff" stroke-width="1.9"/>
<path d="M465.2,8.9 467.9,18.1 470.4,27.3 472.8,36.6 475,45.8 477.1,55 479,64.2 480.8,73.4 482.4,82.7 483.9,91.9 485.2,101.1 486.4,110.3 487.4,119.5 488.2,128.8 488.9,138 489.5,147.2 489.9,156.4 490.1,165.6 490.2,174.9 490.1,184.1 489.9,193.3 489.5,202.5 489,211.7 488.3,220.9 487.5,230.2 486.5,239.4 485.4,248.6 484.1,257.8 482.7,267 481.1,276.3 479.3,285.5 477.4,294.7 475.4,303.9 473.2,313.1 470.8,322.4 468.3,331.6 465.7,340.8 462.9,350 459.9,359.2 456.8,368.5 453.5,377.7 450.1,386.9" fill="none" stroke="#fbfbff" stroke-width="1.9"/>
</g>
<rect x="83.5" y="7.5" width="380" height="381" fill="none" stroke="#8c8c8c" stroke-width="1"/>
<path d="M93.3,388.5v-2.6M93.3,7.5v2.6M105.5,388.5v-3.8M105.5,7.5v3.8M117.6,388.5v-2.6M117.6,7.5v2.6M129.8,388.5v-2.6M129.8,7.5v2.6M141.9,388.5v-2.6M141.9,7.5v2.6M154.1,388.5v-2.6M154.1,7.5v2.6M166.2,388.5v-3.8M166.2,7.5v3.8M178.4,388.5v-2.6M178.4,7.5v2.6M190.6,388.5v-2.6M190.6,7.5v2.6M202.7,388.5v-2.6M202.7,7.5v2.6M214.9,388.5v-2.6M214.9,7.5v2.6M227.1,388.5v-3.8M227.1,7.5v3.8M239.2,388.5v-2.6M239.2,7.5v2.6M251.4,388.5v-2.6M251.4,7.5v2.6M263.5,388.5v-2.6M263.5,7.5v2.6M275.7,388.5v-2.6M275.7,7.5v2.6M287.9,388.5v-3.8M287.9,7.5v3.8M300,388.5v-2.6M300,7.5v2.6M312.2,388.5v-2.6M312.2,7.5v2.6M324.3,388.5v-2.6M324.3,7.5v2.6M336.5,388.5v-2.6M336.5,7.5v2.6M348.6,388.5v-3.8M348.6,7.5v3.8M360.8,388.5v-2.6M360.8,7.5v2.6M373,388.5v-2.6M373,7.5v2.6M385.1,388.5v-2.6M385.1,7.5v2.6M397.3,388.5v-2.6M397.3,7.5v2.6M409.4,388.5v-3.8M409.4,7.5v3.8M421.6,388.5v-2.6M421.6,7.5v2.6M433.8,388.5v-2.6M433.8,7.5v2.6M445.9,388.5v-2.6M445.9,7.5v2.6M458.1,388.5v-2.6M458.1,7.5v2.6M83.5,380.8h3.6M463.5,380.8h-3.6M83.5,365.6h2.3M463.5,365.6h-2.3M83.5,350.3h2.3M463.5,350.3h-2.3M83.5,335.1h2.3M463.5,335.1h-2.3M83.5,319.8h3.6M463.5,319.8h-3.6M83.5,304.6h2.3M463.5,304.6h-2.3M83.5,289.4h2.3M463.5,289.4h-2.3M83.5,274.1h2.3M463.5,274.1h-2.3M83.5,258.9h3.6M463.5,258.9h-3.6M83.5,243.6h2.3M463.5,243.6h-2.3M83.5,228.4h2.3M463.5,228.4h-2.3M83.5,213.1h2.3M463.5,213.1h-2.3M83.5,197.9h3.6M463.5,197.9h-3.6M83.5,182.7h2.3M463.5,182.7h-2.3M83.5,167.4h2.3M463.5,167.4h-2.3M83.5,152.2h2.3M463.5,152.2h-2.3M83.5,136.9h3.6M463.5,136.9h-3.6M83.5,121.7h2.3M463.5,121.7h-2.3M83.5,106.5h2.3M463.5,106.5h-2.3M83.5,91.2h2.3M463.5,91.2h-2.3M83.5,76h3.6M463.5,76h-3.6M83.5,60.7h2.3M463.5,60.7h-2.3M83.5,45.5h2.3M463.5,45.5h-2.3M83.5,30.2h2.3M463.5,30.2h-2.3M83.5,15h3.6M463.5,15h-3.6" stroke="#8c8c8c" stroke-width="1" fill="none"/>
<text x="105.2" y="403" font-size="11.6" fill="#595959" stroke="#595959" stroke-width="0.22" text-anchor="middle">−<tspan dx="0.9">40</tspan></text>
<text x="165.9" y="403" font-size="11.6" fill="#595959" stroke="#595959" stroke-width="0.22" text-anchor="middle">−<tspan dx="0.9">35</tspan></text>
<text x="226.8" y="403" font-size="11.6" fill="#595959" stroke="#595959" stroke-width="0.22" text-anchor="middle">−<tspan dx="0.9">30</tspan></text>
<text x="287.6" y="403" font-size="11.6" fill="#595959" stroke="#595959" stroke-width="0.22" text-anchor="middle">−<tspan dx="0.9">25</tspan></text>
<text x="348.3" y="403" font-size="11.6" fill="#595959" stroke="#595959" stroke-width="0.22" text-anchor="middle">−<tspan dx="0.9">20</tspan></text>
<text x="409.1" y="403" font-size="11.6" fill="#595959" stroke="#595959" stroke-width="0.22" text-anchor="middle">−<tspan dx="0.9">15</tspan></text>
<text x="79.8" y="19.2" font-size="11.6" fill="#595959" stroke="#595959" stroke-width="0.22" text-anchor="end">6</text>
<text x="79.8" y="80.2" font-size="11.6" fill="#595959" stroke="#595959" stroke-width="0.22" text-anchor="end">4</text>
<text x="79.8" y="141.1" font-size="11.6" fill="#595959" stroke="#595959" stroke-width="0.22" text-anchor="end">2</text>
<text x="79.8" y="202.1" font-size="11.6" fill="#595959" stroke="#595959" stroke-width="0.22" text-anchor="end">0</text>
<text x="79.8" y="263.1" font-size="11.6" fill="#595959" stroke="#595959" stroke-width="0.22" text-anchor="end">−<tspan dx="0.9">2</tspan></text>
<text x="79.8" y="324" font-size="11.6" fill="#595959" stroke="#595959" stroke-width="0.22" text-anchor="end">−<tspan dx="0.9">4</tspan></text>
<text x="79.8" y="385" font-size="11.6" fill="#595959" stroke="#595959" stroke-width="0.22" text-anchor="end">−<tspan dx="0.9">6</tspan></text>
<text x="273.3" y="421" font-size="11.3" letter-spacing="0.15" fill="#595959" stroke="#595959" stroke-width="0.22" text-anchor="middle">time (fs)</text>
<text transform="translate(58.3,198) rotate(-90)" font-size="11.3" letter-spacing="0.25" fill="#595959" stroke="#595959" stroke-width="0.22" text-anchor="middle">x (<tspan font-style="italic">μ</tspan>m)</text>
<rect x="3" y="7" width="66" height="66" fill="#5a9ad4"/>
<text x="36" y="54.6" font-size="42" fill="#fff" text-anchor="middle" style="font-family:'Liberation Serif',serif">a</text>
<clipPath id="c1"><rect x="552" y="15" width="366.1" height="365.8"/></clipPath>
<g clip-path="url(#c1)">
<rect x="552" y="15" width="366.1" height="365.8" fill="#fae3a5"/>
<path d="M449.7,8.9 458,18.1 466.1,27.3 473.7,36.6 481,45.8 487.9,55 494.5,64.2 500.7,73.4 506.5,82.7 512,91.9 517.1,101.1 521.8,110.3 526.1,119.5 530.1,128.8 533.7,138 537,147.2 539.8,156.4 542.4,165.6 544.5,174.9 546.3,184.1 547.7,193.3 548.7,202.5 549.4,211.7 549.7,220.9 549.6,230.2 549.2,239.4 548.4,248.6 547.3,257.8 545.7,267 543.8,276.3 541.6,285.5 538.9,294.7 535.9,303.9 532.5,313.1 528.8,322.4 524.7,331.6 520.2,340.8 515.4,350 510.2,359.2 504.6,368.5 498.7,377.7 492.3,386.9 496.9,386.9 503.3,377.7 509.2,368.5 514.8,359.2 520.1,350 524.9,340.8 529.4,331.6 533.6,322.4 537.4,313.1 540.8,303.9 543.8,294.7 546.5,285.5 548.7,276.3 550.7,267 552.2,257.8 553.4,248.6 554.3,239.4 554.7,230.2 554.8,220.9 554.5,211.7 553.9,202.5 552.9,193.3 551.5,184.1 549.8,174.9 547.6,165.6 545.2,156.4 542.3,147.2 539.1,138 535.5,128.8 531.6,119.5 527.2,110.3 522.5,101.1 517.5,91.9 512.1,82.7 506.3,73.4 500.1,64.2 493.6,55 486.7,45.8 479.4,36.6 471.8,27.3 463.8,18.1 455.4,8.9Z" fill="#8b8187"/>
<path d="M455.4,8.9 463.8,18.1 471.8,27.3 479.4,36.6 486.7,45.8 493.6,55 500.1,64.2 506.3,73.4 512.1,82.7 517.5,91.9 522.5,101.1 527.2,110.3 531.6,119.5 535.5,128.8 539.1,138 542.3,147.2 545.2,156.4 547.6,165.6 549.8,174.9 551.5,184.1 552.9,193.3 553.9,202.5 554.5,211.7 554.8,220.9 554.7,230.2 554.3,239.4 553.4,248.6 552.2,257.8 550.7,267 548.7,276.3 546.5,285.5 543.8,294.7 540.8,303.9 537.4,313.1 533.6,322.4 529.4,331.6 524.9,340.8 520.1,350 514.8,359.2 509.2,368.5 503.3,377.7 496.9,386.9 501.9,386.9 508.3,377.7 514.3,368.5 519.9,359.2 525.2,350 530.1,340.8 534.6,331.6 538.8,322.4 542.6,313.1 546,303.9 549.1,294.7 551.8,285.5 554.1,276.3 556.1,267 557.7,257.8 558.9,248.6 559.8,239.4 560.3,230.2 560.4,220.9 560.1,211.7 559.5,202.5 558.6,193.3 557.2,184.1 555.5,174.9 553.4,165.6 551,156.4 548.1,147.2 545,138 541.4,128.8 537.5,119.5 533.2,110.3 528.5,101.1 523.5,91.9 518.1,82.7 512.4,73.4 506.2,64.2 499.8,55 492.9,45.8 485.7,36.6 478.1,27.3 470.1,18.1 461.8,8.9Z" fill="#4464a8"/>
<path d="M468.7,8.9 477,18.1 484.9,27.3 492.5,36.6 499.7,45.8 506.5,55 512.9,64.2 519,73.4 524.8,82.7 530.1,91.9 535.1,101.1 539.7,110.3 544,119.5 547.9,128.8 551.4,138 554.5,147.2 557.3,156.4 559.7,165.6 561.8,174.9 563.4,184.1 564.7,193.3 565.7,202.5 566.3,211.7 566.5,220.9 566.3,230.2 565.8,239.4 564.9,248.6 563.6,257.8 562,267 560,276.3 557.6,285.5 554.9,294.7 551.8,303.9 548.3,313.1 544.5,322.4 540.3,331.6 535.7,340.8 530.8,350 525.5,359.2 519.8,368.5 513.8,377.7 507.3,386.9 511.9,386.9 518.4,377.7 524.4,368.5 530.1,359.2 535.5,350 540.4,340.8 545,331.6 549.3,322.4 553.1,313.1 556.6,303.9 559.8,294.7 562.5,285.5 564.9,276.3 567,267 568.6,257.8 569.9,248.6 570.8,239.4 571.4,230.2 571.6,220.9 571.4,211.7 570.9,202.5 569.9,193.3 568.7,184.1 567,174.9 565,165.6 562.6,156.4 559.9,147.2 556.7,138 553.3,128.8 549.4,119.5 545.2,110.3 540.6,101.1 535.6,91.9 530.3,82.7 524.6,73.4 518.6,64.2 512.1,55 505.3,45.8 498.2,36.6 490.6,27.3 482.7,18.1 474.5,8.9Z" fill="#f1c984"/>
<path d="M474.5,8.9 482.7,18.1 490.6,27.3 498.2,36.6 505.3,45.8 512.1,55 518.6,64.2 524.6,73.4 530.3,82.7 535.6,91.9 540.6,101.1 545.2,110.3 549.4,119.5 553.3,128.8 556.7,138 559.9,147.2 562.6,156.4 565,165.6 567,174.9 568.7,184.1 569.9,193.3 570.9,202.5 571.4,211.7 571.6,220.9 571.4,230.2 570.8,239.4 569.9,248.6 568.6,257.8 567,267 564.9,276.3 562.5,285.5 559.8,294.7 556.6,303.9 553.1,313.1 549.3,322.4 545,331.6 540.4,340.8 535.5,350 530.1,359.2 524.4,368.5 518.4,377.7 511.9,386.9 516.5,386.9 523,377.7 529.1,368.5 534.8,359.2 540.2,350 545.2,340.8 549.8,331.6 554.1,322.4 558,313.1 561.5,303.9 564.6,294.7 567.4,285.5 569.9,276.3 571.9,267 573.6,257.8 574.9,248.6 575.9,239.4 576.5,230.2 576.7,220.9 576.5,211.7 576,202.5 575.1,193.3 573.9,184.1 572.3,174.9 570.3,165.6 567.9,156.4 565.2,147.2 562.1,138 558.7,128.8 554.8,119.5 550.6,110.3 546.1,101.1 541.2,91.9 535.9,82.7 530.2,73.4 524.2,64.2 517.8,55 511,45.8 503.9,36.6 496.4,27.3 488.5,18.1 480.3,8.9Z" fill="#ebaa5e"/>
<path d="M480.3,8.9 488.5,18.1 496.4,27.3 503.9,36.6 511,45.8 517.8,55 524.2,64.2 530.2,73.4 535.9,82.7 541.2,91.9 546.1,101.1 550.6,110.3 554.8,119.5 558.7,128.8 562.1,138 565.2,147.2 567.9,156.4 570.3,165.6 572.3,174.9 573.9,184.1 575.1,193.3 576,202.5 576.5,211.7 576.7,220.9 576.5,230.2 575.9,239.4 574.9,248.6 573.6,257.8 571.9,267 569.9,276.3 567.4,285.5 564.6,294.7 561.5,303.9 558,313.1 554.1,322.4 549.8,331.6 545.2,340.8 540.2,350 534.8,359.2 529.1,368.5 523,377.7 516.5,386.9 521.1,386.9 527.6,377.7 533.7,368.5 539.5,359.2 544.8,350 549.9,340.8 554.5,331.6 558.8,322.4 562.8,313.1 566.3,303.9 569.5,294.7 572.3,285.5 574.8,276.3 576.9,267 578.6,257.8 579.9,248.6 580.9,239.4 581.5,230.2 581.8,220.9 581.7,211.7 581.2,202.5 580.3,193.3 579.1,184.1 577.5,174.9 575.6,165.6 573.3,156.4 570.6,147.2 567.5,138 564.1,128.8 560.3,119.5 556.1,110.3 551.6,101.1 546.7,91.9 541.4,82.7 535.8,73.4 529.8,64.2 523.4,55 516.7,45.8 509.6,36.6 502.1,27.3 494.3,18.1 486.1,8.9Z" fill="#cd9a65"/>
<path d="M486.1,8.9 494.3,18.1 502.1,27.3 509.6,36.6 516.7,45.8 523.4,55 529.8,64.2 535.8,73.4 541.4,82.7 546.7,91.9 551.6,101.1 556.1,110.3 560.3,119.5 564.1,128.8 567.5,138 570.6,147.2 573.3,156.4 575.6,165.6 577.5,174.9 579.1,184.1 580.3,193.3 581.2,202.5 581.7,211.7 581.8,220.9 581.5,230.2 580.9,239.4 579.9,248.6 578.6,257.8 576.9,267 574.8,276.3 572.3,285.5 569.5,294.7 566.3,303.9 562.8,313.1 558.8,322.4 554.5,331.6 549.9,340.8 544.8,350 539.5,359.2 533.7,368.5 527.6,377.7 521.1,386.9 525.6,386.9 532.2,377.7 538.3,368.5 544.1,359.2 549.5,350 554.6,340.8 559.3,331.6 563.6,322.4 567.6,313.1 571.2,303.9 574.4,294.7 577.2,285.5 579.7,276.3 581.8,267 583.6,257.8 585,248.6 586,239.4 586.6,230.2 586.9,220.9 586.8,211.7 586.4,202.5 585.5,193.3 584.3,184.1 582.8,174.9 580.9,165.6 578.6,156.4 575.9,147.2 572.9,138 569.5,128.8 565.7,119.5 561.6,110.3 557.1,101.1 552.2,91.9 547,82.7 541.4,73.4 535.4,64.2 529.1,55 522.4,45.8 515.3,36.6 507.8,27.3 500,18.1 491.9,8.9Z" fill="#8b8187"/>
<path d="M491.9,8.9 500,18.1 507.8,27.3 515.3,36.6 522.4,45.8 529.1,55 535.4,64.2 541.4,73.4 547,82.7 552.2,91.9 557.1,101.1 561.6,110.3 565.7,119.5 569.5,128.8 572.9,138 575.9,147.2 578.6,156.4 580.9,165.6 582.8,174.9 584.3,184.1 585.5,193.3 586.4,202.5 586.8,211.7 586.9,220.9 586.6,230.2 586,239.4 585,248.6 583.6,257.8 581.8,267 579.7,276.3 577.2,285.5 574.4,294.7 571.2,303.9 567.6,313.1 563.6,322.4 559.3,331.6 554.6,340.8 549.5,350 544.1,359.2 538.3,368.5 532.2,377.7 525.6,386.9 530.6,386.9 537.2,377.7 543.4,368.5 549.2,359.2 554.7,350 559.7,340.8 564.5,331.6 568.8,322.4 572.8,313.1 576.4,303.9 579.7,294.7 582.6,285.5 585.1,276.3 587.2,267 589,257.8 590.4,248.6 591.5,239.4 592.2,230.2 592.5,220.9 592.4,211.7 592,202.5 591.2,193.3 590.1,184.1 588.5,174.9 586.6,165.6 584.4,156.4 581.7,147.2 578.7,138 575.4,128.8 571.6,119.5 567.5,110.3 563.1,101.1 558.2,91.9 553,82.7 547.5,73.4 541.5,64.2 535.2,55 528.5,45.8 521.5,36.6 514.1,27.3 506.3,18.1 498.2,8.9Z" fill="#4464a8"/>
<path d="M505.1,8.9 513.2,18.1 520.9,27.3 528.3,36.6 535.3,45.8 542,55 548.2,64.2 554.1,73.4 559.7,82.7 564.8,91.9 569.6,101.1 574.1,110.3 578.1,119.5 581.8,128.8 585.2,138 588.1,147.2 590.7,156.4 592.9,165.6 594.8,174.9 596.3,184.1 597.4,193.3 598.2,202.5 598.5,211.7 598.6,220.9 598.2,230.2 597.5,239.4 596.4,248.6 595,257.8 593.2,267 591,276.3 588.4,285.5 585.5,294.7 582.2,303.9 578.5,313.1 574.5,322.4 570.1,331.6 565.4,340.8 560.2,350 554.8,359.2 548.9,368.5 542.7,377.7 536.1,386.9 540.6,386.9 547.3,377.7 553.5,368.5 559.4,359.2 564.9,350 570.1,340.8 574.9,331.6 579.3,322.4 583.4,313.1 587,303.9 590.4,294.7 593.3,285.5 595.9,276.3 598.1,267 600,257.8 601.4,248.6 602.6,239.4 603.3,230.2 603.7,220.9 603.7,211.7 603.3,202.5 602.6,193.3 601.5,184.1 600,174.9 598.2,165.6 596,156.4 593.5,147.2 590.5,138 587.2,128.8 583.6,119.5 579.5,110.3 575.1,101.1 570.4,91.9 565.2,82.7 559.7,73.4 553.8,64.2 547.6,55 541,45.8 534,36.6 526.7,27.3 519,18.1 510.9,8.9Z" fill="#f1c984"/>
<path d="M510.9,8.9 519,18.1 526.7,27.3 534,36.6 541,45.8 547.6,55 553.8,64.2 559.7,73.4 565.2,82.7 570.4,91.9 575.1,101.1 579.5,110.3 583.6,119.5 587.2,128.8 590.5,138 593.5,147.2 596,156.4 598.2,165.6 600,174.9 601.5,184.1 602.6,193.3 603.3,202.5 603.7,211.7 603.7,220.9 603.3,230.2 602.6,239.4 601.4,248.6 600,257.8 598.1,267 595.9,276.3 593.3,285.5 590.4,294.7 587,303.9 583.4,313.1 579.3,322.4 574.9,331.6 570.1,340.8 564.9,350 559.4,359.2 553.5,368.5 547.3,377.7 540.6,386.9 545.2,386.9 551.9,377.7 558.1,368.5 564.1,359.2 569.6,350 574.8,340.8 579.6,331.6 584.1,322.4 588.2,313.1 591.9,303.9 595.2,294.7 598.2,285.5 600.8,276.3 603.1,267 604.9,257.8 606.5,248.6 607.6,239.4 608.4,230.2 608.8,220.9 608.8,211.7 608.5,202.5 607.8,193.3 606.7,184.1 605.3,174.9 603.5,165.6 601.3,156.4 598.8,147.2 595.9,138 592.6,128.8 589,119.5 585,110.3 580.6,101.1 575.9,91.9 570.8,82.7 565.3,73.4 559.5,64.2 553.2,55 546.7,45.8 539.7,36.6 532.4,27.3 524.7,18.1 516.7,8.9Z" fill="#ebaa5e"/>
<path d="M516.7,8.9 524.7,18.1 532.4,27.3 539.7,36.6 546.7,45.8 553.2,55 559.5,64.2 565.3,73.4 570.8,82.7 575.9,91.9 580.6,101.1 585,110.3 589,119.5 592.6,128.8 595.9,138 598.8,147.2 601.3,156.4 603.5,165.6 605.3,174.9 606.7,184.1 607.8,193.3 608.5,202.5 608.8,211.7 608.8,220.9 608.4,230.2 607.6,239.4 606.5,248.6 604.9,257.8 603.1,267 600.8,276.3 598.2,285.5 595.2,294.7 591.9,303.9 588.2,313.1 584.1,322.4 579.6,331.6 574.8,340.8 569.6,350 564.1,359.2 558.1,368.5 551.9,377.7 545.2,386.9 549.8,386.9 556.5,377.7 562.8,368.5 568.7,359.2 574.3,350 579.5,340.8 584.4,331.6 588.9,322.4 593,313.1 596.7,303.9 600.1,294.7 603.1,285.5 605.8,276.3 608,267 609.9,257.8 611.5,248.6 612.6,239.4 613.5,230.2 613.9,220.9 614,211.7 613.7,202.5 613,193.3 612,184.1 610.6,174.9 608.8,165.6 606.7,156.4 604.2,147.2 601.3,138 598,128.8 594.4,119.5 590.5,110.3 586.1,101.1 581.4,91.9 576.3,82.7 570.9,73.4 565.1,64.2 558.9,55 552.3,45.8 545.4,36.6 538.1,27.3 530.5,18.1 522.5,8.9Z" fill="#cd9a65"/>
<path d="M522.5,8.9 530.5,18.1 538.1,27.3 545.4,36.6 552.3,45.8 558.9,55 565.1,64.2 570.9,73.4 576.3,82.7 581.4,91.9 586.1,101.1 590.5,110.3 594.4,119.5 598,128.8 601.3,138 604.2,147.2 606.7,156.4 608.8,165.6 610.6,174.9 612,184.1 613,193.3 613.7,202.5 614,211.7 613.9,220.9 613.5,230.2 612.6,239.4 611.5,248.6 609.9,257.8 608,267 605.8,276.3 603.1,285.5 600.1,294.7 596.7,303.9 593,313.1 588.9,322.4 584.4,331.6 579.5,340.8 574.3,350 568.7,359.2 562.8,368.5 556.5,377.7 549.8,386.9 554.3,386.9 561.1,377.7 567.4,368.5 573.4,359.2 579,350 584.3,340.8 589.1,331.6 593.6,322.4 597.8,313.1 601.6,303.9 605,294.7 608,285.5 610.7,276.3 613,267 614.9,257.8 616.5,248.6 617.7,239.4 618.5,230.2 619,220.9 619.1,211.7 618.8,202.5 618.2,193.3 617.2,184.1 615.8,174.9 614.1,165.6 612,156.4 609.5,147.2 606.7,138 603.4,128.8 599.9,119.5 595.9,110.3 591.6,101.1 586.9,91.9 581.9,82.7 576.5,73.4 570.7,64.2 564.5,55 558,45.8 551.1,36.6 543.9,27.3 536.3,18.1 528.3,8.9Z" fill="#8b8187"/>
<path d="M528.3,8.9 536.3,18.1 543.9,27.3 551.1,36.6 558,45.8 564.5,55 570.7,64.2 576.5,73.4 581.9,82.7 586.9,91.9 591.6,101.1 595.9,110.3 599.9,119.5 603.4,128.8 606.7,138 609.5,147.2 612,156.4 614.1,165.6 615.8,174.9 617.2,184.1 618.2,193.3 618.8,202.5 619.1,211.7 619,220.9 618.5,230.2 617.7,239.4 616.5,248.6 614.9,257.8 613,267 610.7,276.3 608,285.5 605,294.7 601.6,303.9 597.8,313.1 593.6,322.4 589.1,331.6 584.3,340.8 579,350 573.4,359.2 567.4,368.5 561.1,377.7 554.3,386.9 559.3,386.9 566.1,377.7 572.5,368.5 578.5,359.2 584.1,350 589.4,340.8 594.3,331.6 598.9,322.4 603,313.1 606.8,303.9 610.3,294.7 613.4,285.5 616.1,276.3 618.4,267 620.4,257.8 622,248.6 623.2,239.4 624.1,230.2 624.6,220.9 624.7,211.7 624.5,202.5 623.9,193.3 622.9,184.1 621.6,174.9 619.8,165.6 617.8,156.4 615.3,147.2 612.5,138 609.3,128.8 605.8,119.5 601.9,110.3 597.6,101.1 593,91.9 587.9,82.7 582.6,73.4 576.8,64.2 570.7,55 564.2,45.8 557.4,36.6 550.1,27.3 542.5,18.1 534.6,8.9Z" fill="#4464a8"/>
<path d="M541.5,8.9 549.4,18.1 557,27.3 564.2,36.6 571,45.8 577.4,55 583.5,64.2 589.2,73.4 594.6,82.7 599.5,91.9 604.2,101.1 608.4,110.3 612.3,119.5 615.8,128.8 618.9,138 621.7,147.2 624.1,156.4 626.1,165.6 627.8,174.9 629.1,184.1 630.1,193.3 630.6,202.5 630.8,211.7 630.7,220.9 630.1,230.2 629.2,239.4 628,248.6 626.3,257.8 624.3,267 621.9,276.3 619.2,285.5 616.1,294.7 612.6,303.9 608.8,313.1 604.6,322.4 600,331.6 595,340.8 589.7,350 584,359.2 578,368.5 571.6,377.7 564.8,386.9 569.3,386.9 576.2,377.7 582.6,368.5 588.7,359.2 594.4,350 599.7,340.8 604.7,331.6 609.3,322.4 613.6,313.1 617.4,303.9 621,294.7 624.1,285.5 626.9,276.3 629.3,267 631.3,257.8 633,248.6 634.3,239.4 635.2,230.2 635.8,220.9 636,211.7 635.8,202.5 635.3,193.3 634.4,184.1 633.1,174.9 631.4,165.6 629.4,156.4 627.1,147.2 624.3,138 621.2,128.8 617.7,119.5 613.9,110.3 609.7,101.1 605.1,91.9 600.1,82.7 594.8,73.4 589.1,64.2 583.1,55 576.6,45.8 569.9,36.6 562.7,27.3 555.2,18.1 547.3,8.9Z" fill="#f1c984"/>
<path d="M547.3,8.9 555.2,18.1 562.7,27.3 569.9,36.6 576.6,45.8 583.1,55 589.1,64.2 594.8,73.4 600.1,82.7 605.1,91.9 609.7,101.1 613.9,110.3 617.7,119.5 621.2,128.8 624.3,138 627.1,147.2 629.4,156.4 631.4,165.6 633.1,174.9 634.4,184.1 635.3,193.3 635.8,202.5 636,211.7 635.8,220.9 635.2,230.2 634.3,239.4 633,248.6 631.3,257.8 629.3,267 626.9,276.3 624.1,285.5 621,294.7 617.4,303.9 613.6,313.1 609.3,322.4 604.7,331.6 599.7,340.8 594.4,350 588.7,359.2 582.6,368.5 576.2,377.7 569.3,386.9 573.9,386.9 580.8,377.7 587.2,368.5 593.3,359.2 599.1,350 604.5,340.8 609.5,331.6 614.1,322.4 618.4,313.1 622.3,303.9 625.8,294.7 629,285.5 631.8,276.3 634.2,267 636.3,257.8 638,248.6 639.3,239.4 640.3,230.2 640.9,220.9 641.1,211.7 641,202.5 640.5,193.3 639.6,184.1 638.3,174.9 636.7,165.6 634.7,156.4 632.4,147.2 629.7,138 626.6,128.8 623.2,119.5 619.3,110.3 615.1,101.1 610.6,91.9 605.7,82.7 600.4,73.4 594.7,64.2 588.7,55 582.3,45.8 575.6,36.6 568.4,27.3 560.9,18.1 553.1,8.9Z" fill="#ebaa5e"/>
<path d="M553.1,8.9 560.9,18.1 568.4,27.3 575.6,36.6 582.3,45.8 588.7,55 594.7,64.2 600.4,73.4 605.7,82.7 610.6,91.9 615.1,101.1 619.3,110.3 623.2,119.5 626.6,128.8 629.7,138 632.4,147.2 634.7,156.4 636.7,165.6 638.3,174.9 639.6,184.1 640.5,193.3 641,202.5 641.1,211.7 640.9,220.9 640.3,230.2 639.3,239.4 638,248.6 636.3,257.8 634.2,267 631.8,276.3 629,285.5 625.8,294.7 622.3,303.9 618.4,313.1 614.1,322.4 609.5,331.6 604.5,340.8 599.1,350 593.3,359.2 587.2,368.5 580.8,377.7 573.9,386.9 578.5,386.9 585.4,377.7 591.9,368.5 598,359.2 603.8,350 609.2,340.8 614.2,331.6 618.9,322.4 623.2,313.1 627.1,303.9 630.7,294.7 633.9,285.5 636.7,276.3 639.2,267 641.3,257.8 643,248.6 644.4,239.4 645.4,230.2 646,220.9 646.2,211.7 646.1,202.5 645.7,193.3 644.8,184.1 643.6,174.9 642,165.6 640.1,156.4 637.7,147.2 635.1,138 632,128.8 628.6,119.5 624.8,110.3 620.6,101.1 616.1,91.9 611.2,82.7 606,73.4 600.3,64.2 594.4,55 588,45.8 581.3,36.6 574.2,27.3 566.7,18.1 558.9,8.9Z" fill="#cd9a65"/>
<path d="M558.9,8.9 566.7,18.1 574.2,27.3 581.3,36.6 588,45.8 594.4,55 600.3,64.2 606,73.4 611.2,82.7 616.1,91.9 620.6,101.1 624.8,110.3 628.6,119.5 632,128.8 635.1,138 637.7,147.2 640.1,156.4 642,165.6 643.6,174.9 644.8,184.1 645.7,193.3 646.1,202.5 646.2,211.7 646,220.9 645.4,230.2 644.4,239.4 643,248.6 641.3,257.8 639.2,267 636.7,276.3 633.9,285.5 630.7,294.7 627.1,303.9 623.2,313.1 618.9,322.4 614.2,331.6 609.2,340.8 603.8,350 598,359.2 591.9,368.5 585.4,377.7 578.5,386.9 583.1,386.9 590,377.7 596.5,368.5 602.7,359.2 608.5,350 613.9,340.8 619,331.6 623.7,322.4 628,313.1 632,303.9 635.6,294.7 638.8,285.5 641.6,276.3 644.1,267 646.3,257.8 648,248.6 649.4,239.4 650.4,230.2 651.1,220.9 651.4,211.7 651.3,202.5 650.8,193.3 650,184.1 648.8,174.9 647.3,165.6 645.4,156.4 643.1,147.2 640.4,138 637.4,128.8 634,119.5 630.3,110.3 626.1,101.1 621.6,91.9 616.8,82.7 611.6,73.4 606,64.2 600,55 593.7,45.8 587,36.6 579.9,27.3 572.5,18.1 564.7,8.9Z" fill="#8b8187"/>
<path d="M564.7,8.9 572.5,18.1 579.9,27.3 587,36.6 593.7,45.8 600,55 606,64.2 611.6,73.4 616.8,82.7 621.6,91.9 626.1,101.1 630.3,110.3 634,119.5 637.4,128.8 640.4,138 643.1,147.2 645.4,156.4 647.3,165.6 648.8,174.9 650,184.1 650.8,193.3 651.3,202.5 651.4,211.7 651.1,220.9 650.4,230.2 649.4,239.4 648,248.6 646.3,257.8 644.1,267 641.6,276.3 638.8,285.5 635.6,294.7 632,303.9 628,313.1 623.7,322.4 619,331.6 613.9,340.8 608.5,350 602.7,359.2 596.5,368.5 590,377.7 583.1,386.9 588,386.9 595,377.7 601.6,368.5 607.8,359.2 613.6,350 619.1,340.8 624.2,331.6 628.9,322.4 633.2,313.1 637.2,303.9 640.9,294.7 644.1,285.5 647,276.3 649.6,267 651.7,257.8 653.5,248.6 654.9,239.4 656,230.2 656.7,220.9 657,211.7 656.9,202.5 656.5,193.3 655.7,184.1 654.6,174.9 653.1,165.6 651.2,156.4 648.9,147.2 646.3,138 643.3,128.8 640,119.5 636.2,110.3 632.1,101.1 627.7,91.9 622.9,82.7 617.7,73.4 612.1,64.2 606.2,55 599.9,45.8 593.2,36.6 586.2,27.3 578.8,18.1 571,8.9Z" fill="#4464a8"/>
<path d="M577.9,8.9 585.6,18.1 593,27.3 600,36.6 606.6,45.8 612.9,55 618.8,64.2 624.3,73.4 629.5,82.7 634.3,91.9 638.7,101.1 642.7,110.3 646.4,119.5 649.8,128.8 652.7,138 655.3,147.2 657.5,156.4 659.4,165.6 660.9,174.9 662,184.1 662.7,193.3 663.1,202.5 663.1,211.7 662.8,220.9 662,230.2 660.9,239.4 659.5,248.6 657.7,257.8 655.5,267 652.9,276.3 650,285.5 646.7,294.7 643,303.9 639,313.1 634.6,322.4 629.8,331.6 624.7,340.8 619.2,350 613.3,359.2 607.1,368.5 600.5,377.7 593.5,386.9 598.1,386.9 605.1,377.7 611.7,368.5 618,359.2 623.9,350 629.4,340.8 634.6,331.6 639.4,322.4 643.8,313.1 647.9,303.9 651.5,294.7 654.9,285.5 657.8,276.3 660.4,267 662.6,257.8 664.5,248.6 666,239.4 667.1,230.2 667.9,220.9 668.2,211.7 668.3,202.5 667.9,193.3 667.2,184.1 666.1,174.9 664.7,165.6 662.8,156.4 660.6,147.2 658.1,138 655.2,128.8 651.9,119.5 648.2,110.3 644.2,101.1 639.8,91.9 635,82.7 629.9,73.4 624.4,64.2 618.5,55 612.3,45.8 605.7,36.6 598.7,27.3 591.4,18.1 583.7,8.9Z" fill="#f1c984"/>
<path d="M583.7,8.9 591.4,18.1 598.7,27.3 605.7,36.6 612.3,45.8 618.5,55 624.4,64.2 629.9,73.4 635,82.7 639.8,91.9 644.2,101.1 648.2,110.3 651.9,119.5 655.2,128.8 658.1,138 660.6,147.2 662.8,156.4 664.7,165.6 666.1,174.9 667.2,184.1 667.9,193.3 668.3,202.5 668.2,211.7 667.9,220.9 667.1,230.2 666,239.4 664.5,248.6 662.6,257.8 660.4,267 657.8,276.3 654.9,285.5 651.5,294.7 647.9,303.9 643.8,313.1 639.4,322.4 634.6,331.6 629.4,340.8 623.9,350 618,359.2 611.7,368.5 605.1,377.7 598.1,386.9 602.6,386.9 609.7,377.7 616.3,368.5 622.6,359.2 628.6,350 634.1,340.8 639.3,331.6 644.1,322.4 648.6,313.1 652.7,303.9 656.4,294.7 659.8,285.5 662.8,276.3 665.4,267 667.6,257.8 669.5,248.6 671,239.4 672.2,230.2 673,220.9 673.4,211.7 673.4,202.5 673.1,193.3 672.4,184.1 671.4,174.9 669.9,165.6 668.1,156.4 666,147.2 663.5,138 660.6,128.8 657.3,119.5 653.7,110.3 649.7,101.1 645.3,91.9 640.6,82.7 635.5,73.4 630,64.2 624.2,55 618,45.8 611.4,36.6 604.5,27.3 597.2,18.1 589.5,8.9Z" fill="#ebaa5e"/>
<path d="M589.5,8.9 597.2,18.1 604.5,27.3 611.4,36.6 618,45.8 624.2,55 630,64.2 635.5,73.4 640.6,82.7 645.3,91.9 649.7,101.1 653.7,110.3 657.3,119.5 660.6,128.8 663.5,138 666,147.2 668.1,156.4 669.9,165.6 671.4,174.9 672.4,184.1 673.1,193.3 673.4,202.5 673.4,211.7 673,220.9 672.2,230.2 671,239.4 669.5,248.6 667.6,257.8 665.4,267 662.8,276.3 659.8,285.5 656.4,294.7 652.7,303.9 648.6,313.1 644.1,322.4 639.3,331.6 634.1,340.8 628.6,350 622.6,359.2 616.3,368.5 609.7,377.7 602.6,386.9 607.2,386.9 614.3,377.7 621,368.5 627.3,359.2 633.2,350 638.8,340.8 644.1,331.6 648.9,322.4 653.4,313.1 657.5,303.9 661.3,294.7 664.7,285.5 667.7,276.3 670.3,267 672.6,257.8 674.5,248.6 676.1,239.4 677.3,230.2 678.1,220.9 678.5,211.7 678.6,202.5 678.3,193.3 677.6,184.1 676.6,174.9 675.2,165.6 673.5,156.4 671.3,147.2 668.8,138 666,128.8 662.7,119.5 659.1,110.3 655.2,101.1 650.8,91.9 646.1,82.7 641.1,73.4 635.6,64.2 629.8,55 623.7,45.8 617.1,36.6 610.2,27.3 602.9,18.1 595.3,8.9Z" fill="#cd9a65"/>
<path d="M595.3,8.9 602.9,18.1 610.2,27.3 617.1,36.6 623.7,45.8 629.8,55 635.6,64.2 641.1,73.4 646.1,82.7 650.8,91.9 655.2,101.1 659.1,110.3 662.7,119.5 666,128.8 668.8,138 671.3,147.2 673.5,156.4 675.2,165.6 676.6,174.9 677.6,184.1 678.3,193.3 678.6,202.5 678.5,211.7 678.1,220.9 677.3,230.2 676.1,239.4 674.5,248.6 672.6,257.8 670.3,267 667.7,276.3 664.7,285.5 661.3,294.7 657.5,303.9 653.4,313.1 648.9,322.4 644.1,331.6 638.8,340.8 633.2,350 627.3,359.2 621,368.5 614.3,377.7 607.2,386.9 611.8,386.9 618.9,377.7 625.6,368.5 631.9,359.2 637.9,350 643.6,340.8 648.8,331.6 653.7,322.4 658.2,313.1 662.4,303.9 666.2,294.7 669.6,285.5 672.6,276.3 675.3,267 677.6,257.8 679.6,248.6 681.1,239.4 682.3,230.2 683.2,220.9 683.7,211.7 683.8,202.5 683.5,193.3 682.9,184.1 681.9,174.9 680.5,165.6 678.8,156.4 676.7,147.2 674.2,138 671.4,128.8 668.2,119.5 664.6,110.3 660.7,101.1 656.4,91.9 651.7,82.7 646.7,73.4 641.2,64.2 635.5,55 629.3,45.8 622.8,36.6 615.9,27.3 608.7,18.1 601.1,8.9Z" fill="#8b8187"/>
<path d="M601.1,8.9 608.7,18.1 615.9,27.3 622.8,36.6 629.3,45.8 635.5,55 641.2,64.2 646.7,73.4 651.7,82.7 656.4,91.9 660.7,101.1 664.6,110.3 668.2,119.5 671.4,128.8 674.2,138 676.7,147.2 678.8,156.4 680.5,165.6 681.9,174.9 682.9,184.1 683.5,193.3 683.8,202.5 683.7,211.7 683.2,220.9 682.3,230.2 681.1,239.4 679.6,248.6 677.6,257.8 675.3,267 672.6,276.3 669.6,285.5 666.2,294.7 662.4,303.9 658.2,313.1 653.7,322.4 648.8,331.6 643.6,340.8 637.9,350 631.9,359.2 625.6,368.5 618.9,377.7 611.8,386.9 616.8,386.9 623.9,377.7 630.6,368.5 637,359.2 643.1,350 648.7,340.8 654,331.6 658.9,322.4 663.5,313.1 667.6,303.9 671.5,294.7 674.9,285.5 678,276.3 680.7,267 683.1,257.8 685,248.6 686.6,239.4 687.9,230.2 688.8,220.9 689.3,211.7 689.4,202.5 689.2,193.3 688.6,184.1 687.6,174.9 686.3,165.6 684.6,156.4 682.5,147.2 680.1,138 677.3,128.8 674.1,119.5 670.6,110.3 666.7,101.1 662.4,91.9 657.8,82.7 652.7,73.4 647.4,64.2 641.6,55 635.5,45.8 629,36.6 622.2,27.3 615,18.1 607.4,8.9Z" fill="#4464a8"/>
<path d="M614.3,8.9 621.9,18.1 629,27.3 635.8,36.6 642.3,45.8 648.4,55 654.1,64.2 659.4,73.4 664.4,82.7 669,91.9 673.2,101.1 677.1,110.3 680.6,119.5 683.7,128.8 686.5,138 688.9,147.2 690.9,156.4 692.6,165.6 693.9,174.9 694.8,184.1 695.4,193.3 695.6,202.5 695.4,211.7 694.8,220.9 693.9,230.2 692.7,239.4 691,248.6 689,257.8 686.6,267 683.9,276.3 680.8,285.5 677.3,294.7 673.4,303.9 669.2,313.1 664.6,322.4 659.7,331.6 654.3,340.8 648.6,350 642.6,359.2 636.2,368.5 629.4,377.7 622.2,386.9 626.8,386.9 634,377.7 640.8,368.5 647.2,359.2 653.3,350 659.1,340.8 664.4,331.6 669.4,322.4 674,313.1 678.3,303.9 682.1,294.7 685.6,285.5 688.8,276.3 691.6,267 694,257.8 696,248.6 697.7,239.4 699,230.2 700,220.9 700.5,211.7 700.7,202.5 700.6,193.3 700,184.1 699.1,174.9 697.9,165.6 696.2,156.4 694.2,147.2 691.9,138 689.1,128.8 686,119.5 682.6,110.3 678.7,101.1 674.5,91.9 669.9,82.7 665,73.4 659.7,64.2 654,55 648,45.8 641.5,36.6 634.8,27.3 627.6,18.1 620.1,8.9Z" fill="#f1c984"/>
<path d="M620.1,8.9 627.6,18.1 634.8,27.3 641.5,36.6 648,45.8 654,55 659.7,64.2 665,73.4 669.9,82.7 674.5,91.9 678.7,101.1 682.6,110.3 686,119.5 689.1,128.8 691.9,138 694.2,147.2 696.2,156.4 697.9,165.6 699.1,174.9 700,184.1 700.6,193.3 700.7,202.5 700.5,211.7 700,220.9 699,230.2 697.7,239.4 696,248.6 694,257.8 691.6,267 688.8,276.3 685.6,285.5 682.1,294.7 678.3,303.9 674,313.1 669.4,322.4 664.4,331.6 659.1,340.8 653.3,350 647.2,359.2 640.8,368.5 634,377.7 626.8,386.9 631.3,386.9 638.6,377.7 645.4,368.5 651.9,359.2 658,350 663.8,340.8 669.2,331.6 674.2,322.4 678.8,313.1 683.1,303.9 687,294.7 690.5,285.5 693.7,276.3 696.5,267 699,257.8 701,248.6 702.8,239.4 704.1,230.2 705.1,220.9 705.7,211.7 705.9,202.5 705.8,193.3 705.3,184.1 704.4,174.9 703.2,165.6 701.6,156.4 699.6,147.2 697.2,138 694.5,128.8 691.5,119.5 688,110.3 684.2,101.1 680,91.9 675.5,82.7 670.6,73.4 665.3,64.2 659.6,55 653.6,45.8 647.2,36.6 640.5,27.3 633.4,18.1 625.9,8.9Z" fill="#ebaa5e"/>
<path d="M625.9,8.9 633.4,18.1 640.5,27.3 647.2,36.6 653.6,45.8 659.6,55 665.3,64.2 670.6,73.4 675.5,82.7 680,91.9 684.2,101.1 688,110.3 691.5,119.5 694.5,128.8 697.2,138 699.6,147.2 701.6,156.4 703.2,165.6 704.4,174.9 705.3,184.1 705.8,193.3 705.9,202.5 705.7,211.7 705.1,220.9 704.1,230.2 702.8,239.4 701,248.6 699,257.8 696.5,267 693.7,276.3 690.5,285.5 687,294.7 683.1,303.9 678.8,313.1 674.2,322.4 669.2,331.6 663.8,340.8 658,350 651.9,359.2 645.4,368.5 638.6,377.7 631.3,386.9 635.9,386.9 643.2,377.7 650,368.5 656.6,359.2 662.7,350 668.5,340.8 673.9,331.6 678.9,322.4 683.6,313.1 687.9,303.9 691.9,294.7 695.4,285.5 698.7,276.3 701.5,267 704,257.8 706.1,248.6 707.8,239.4 709.2,230.2 710.2,220.9 710.8,211.7 711.1,202.5 711,193.3 710.5,184.1 709.7,174.9 708.4,165.6 706.9,156.4 704.9,147.2 702.6,138 699.9,128.8 696.9,119.5 693.5,110.3 689.7,101.1 685.6,91.9 681,82.7 676.2,73.4 670.9,64.2 665.3,55 659.3,45.8 653,36.6 646.2,27.3 639.1,18.1 631.7,8.9Z" fill="#cd9a65"/>
<path d="M631.7,8.9 639.1,18.1 646.2,27.3 653,36.6 659.3,45.8 665.3,55 670.9,64.2 676.2,73.4 681,82.7 685.6,91.9 689.7,101.1 693.5,110.3 696.9,119.5 699.9,128.8 702.6,138 704.9,147.2 706.9,156.4 708.4,165.6 709.7,174.9 710.5,184.1 711,193.3 711.1,202.5 710.8,211.7 710.2,220.9 709.2,230.2 707.8,239.4 706.1,248.6 704,257.8 701.5,267 698.7,276.3 695.4,285.5 691.9,294.7 687.9,303.9 683.6,313.1 678.9,322.4 673.9,331.6 668.5,340.8 662.7,350 656.6,359.2 650,368.5 643.2,377.7 635.9,386.9 640.5,386.9 647.8,377.7 654.7,368.5 661.2,359.2 667.4,350 673.2,340.8 678.7,331.6 683.7,322.4 688.4,313.1 692.8,303.9 696.7,294.7 700.3,285.5 703.6,276.3 706.4,267 708.9,257.8 711.1,248.6 712.8,239.4 714.2,230.2 715.3,220.9 715.9,211.7 716.2,202.5 716.2,193.3 715.7,184.1 714.9,174.9 713.7,165.6 712.2,156.4 710.3,147.2 708,138 705.4,128.8 702.3,119.5 699,110.3 695.2,101.1 691.1,91.9 686.6,82.7 681.7,73.4 676.5,64.2 670.9,55 665,45.8 658.7,36.6 652,27.3 644.9,18.1 637.5,8.9Z" fill="#8b8187"/>
<path d="M637.5,8.9 644.9,18.1 652,27.3 658.7,36.6 665,45.8 670.9,55 676.5,64.2 681.7,73.4 686.6,82.7 691.1,91.9 695.2,101.1 699,110.3 702.3,119.5 705.4,128.8 708,138 710.3,147.2 712.2,156.4 713.7,165.6 714.9,174.9 715.7,184.1 716.2,193.3 716.2,202.5 715.9,211.7 715.3,220.9 714.2,230.2 712.8,239.4 711.1,248.6 708.9,257.8 706.4,267 703.6,276.3 700.3,285.5 696.7,294.7 692.8,303.9 688.4,313.1 683.7,322.4 678.7,331.6 673.2,340.8 667.4,350 661.2,359.2 654.7,368.5 647.8,377.7 640.5,386.9 645.5,386.9 652.8,377.7 659.7,368.5 666.3,359.2 672.5,350 678.4,340.8 683.8,331.6 688.9,322.4 693.7,313.1 698.1,303.9 702.1,294.7 705.7,285.5 709,276.3 711.9,267 714.4,257.8 716.6,248.6 718.4,239.4 719.8,230.2 720.8,220.9 721.5,211.7 721.9,202.5 721.8,193.3 721.4,184.1 720.6,174.9 719.5,165.6 718,156.4 716.1,147.2 713.9,138 711.2,128.8 708.3,119.5 704.9,110.3 701.2,101.1 697.1,91.9 692.7,82.7 687.8,73.4 682.7,64.2 677.1,55 671.2,45.8 664.9,36.6 658.2,27.3 651.2,18.1 643.8,8.9Z" fill="#4464a8"/>
<path d="M650.7,8.9 658.1,18.1 665.1,27.3 671.7,36.6 677.9,45.8 683.8,55 689.3,64.2 694.5,73.4 699.3,82.7 703.7,91.9 707.8,101.1 711.4,110.3 714.7,119.5 717.7,128.8 720.3,138 722.5,147.2 724.3,156.4 725.8,165.6 726.9,174.9 727.7,184.1 728,193.3 728,202.5 727.7,211.7 726.9,220.9 725.8,230.2 724.4,239.4 722.5,248.6 720.3,257.8 717.8,267 714.8,276.3 711.5,285.5 707.9,294.7 703.8,303.9 699.4,313.1 694.6,322.4 689.5,331.6 684,340.8 678.1,350 671.9,359.2 665.2,368.5 658.3,377.7 650.9,386.9 655.5,386.9 662.9,377.7 669.9,368.5 676.5,359.2 682.8,350 688.7,340.8 694.2,331.6 699.4,322.4 704.2,313.1 708.7,303.9 712.7,294.7 716.4,285.5 719.8,276.3 722.7,267 725.3,257.8 727.6,248.6 729.4,239.4 730.9,230.2 732,220.9 732.8,211.7 733.2,202.5 733.2,193.3 732.9,184.1 732.2,174.9 731.1,165.6 729.6,156.4 727.8,147.2 725.6,138 723.1,128.8 720.2,119.5 716.9,110.3 713.2,101.1 709.2,91.9 704.8,82.7 700.1,73.4 695,64.2 689.5,55 683.6,45.8 677.4,36.6 670.8,27.3 663.8,18.1 656.5,8.9Z" fill="#f1c984"/>
<path d="M656.5,8.9 663.8,18.1 670.8,27.3 677.4,36.6 683.6,45.8 689.5,55 695,64.2 700.1,73.4 704.8,82.7 709.2,91.9 713.2,101.1 716.9,110.3 720.2,119.5 723.1,128.8 725.6,138 727.8,147.2 729.6,156.4 731.1,165.6 732.2,174.9 732.9,184.1 733.2,193.3 733.2,202.5 732.8,211.7 732,220.9 730.9,230.2 729.4,239.4 727.6,248.6 725.3,257.8 722.7,267 719.8,276.3 716.4,285.5 712.7,294.7 708.7,303.9 704.2,313.1 699.4,322.4 694.2,331.6 688.7,340.8 682.8,350 676.5,359.2 669.9,368.5 662.9,377.7 655.5,386.9 660.1,386.9 667.5,377.7 674.5,368.5 681.2,359.2 687.5,350 693.4,340.8 699,331.6 704.2,322.4 709,313.1 713.5,303.9 717.6,294.7 721.3,285.5 724.7,276.3 727.7,267 730.3,257.8 732.6,248.6 734.5,239.4 736,230.2 737.2,220.9 737.9,211.7 738.4,202.5 738.4,193.3 738.1,184.1 737.4,174.9 736.4,165.6 735,156.4 733.2,147.2 731,138 728.5,128.8 725.6,119.5 722.4,110.3 718.7,101.1 714.8,91.9 710.4,82.7 705.7,73.4 700.6,64.2 695.1,55 689.3,45.8 683.1,36.6 676.5,27.3 669.6,18.1 662.3,8.9Z" fill="#ebaa5e"/>
<path d="M662.3,8.9 669.6,18.1 676.5,27.3 683.1,36.6 689.3,45.8 695.1,55 700.6,64.2 705.7,73.4 710.4,82.7 714.8,91.9 718.7,101.1 722.4,110.3 725.6,119.5 728.5,128.8 731,138 733.2,147.2 735,156.4 736.4,165.6 737.4,174.9 738.1,184.1 738.4,193.3 738.4,202.5 737.9,211.7 737.2,220.9 736,230.2 734.5,239.4 732.6,248.6 730.3,257.8 727.7,267 724.7,276.3 721.3,285.5 717.6,294.7 713.5,303.9 709,313.1 704.2,322.4 699,331.6 693.4,340.8 687.5,350 681.2,359.2 674.5,368.5 667.5,377.7 660.1,386.9 664.6,386.9 672.1,377.7 679.1,368.5 685.8,359.2 692.2,350 698.1,340.8 703.7,331.6 709,322.4 713.8,313.1 718.3,303.9 722.5,294.7 726.2,285.5 729.6,276.3 732.6,267 735.3,257.8 737.6,248.6 739.5,239.4 741.1,230.2 742.3,220.9 743.1,211.7 743.5,202.5 743.6,193.3 743.3,184.1 742.7,174.9 741.7,165.6 740.3,156.4 738.5,147.2 736.4,138 733.9,128.8 731.1,119.5 727.8,110.3 724.2,101.1 720.3,91.9 716,82.7 711.3,73.4 706.2,64.2 700.8,55 695,45.8 688.8,36.6 682.3,27.3 675.4,18.1 668.1,8.9Z" fill="#cd9a65"/>
<path d="M668.1,8.9 675.4,18.1 682.3,27.3 688.8,36.6 695,45.8 700.8,55 706.2,64.2 711.3,73.4 716,82.7 720.3,91.9 724.2,101.1 727.8,110.3 731.1,119.5 733.9,128.8 736.4,138 738.5,147.2 740.3,156.4 741.7,165.6 742.7,174.9 743.3,184.1 743.6,193.3 743.5,202.5 743.1,211.7 742.3,220.9 741.1,230.2 739.5,239.4 737.6,248.6 735.3,257.8 732.6,267 729.6,276.3 726.2,285.5 722.5,294.7 718.3,303.9 713.8,313.1 709,322.4 703.7,331.6 698.1,340.8 692.2,350 685.8,359.2 679.1,368.5 672.1,377.7 664.6,386.9 669.2,386.9 676.7,377.7 683.8,368.5 690.5,359.2 696.9,350 702.9,340.8 708.5,331.6 713.8,322.4 718.6,313.1 723.2,303.9 727.3,294.7 731.1,285.5 734.5,276.3 737.6,267 740.3,257.8 742.6,248.6 744.6,239.4 746.1,230.2 747.4,220.9 748.2,211.7 748.7,202.5 748.8,193.3 748.6,184.1 747.9,174.9 746.9,165.6 745.6,156.4 743.9,147.2 741.8,138 739.3,128.8 736.5,119.5 733.3,110.3 729.7,101.1 725.8,91.9 721.5,82.7 716.8,73.4 711.8,64.2 706.4,55 700.6,45.8 694.5,36.6 688,27.3 681.1,18.1 673.9,8.9Z" fill="#8b8187"/>
<path d="M673.9,8.9 681.1,18.1 688,27.3 694.5,36.6 700.6,45.8 706.4,55 711.8,64.2 716.8,73.4 721.5,82.7 725.8,91.9 729.7,101.1 733.3,110.3 736.5,119.5 739.3,128.8 741.8,138 743.9,147.2 745.6,156.4 746.9,165.6 747.9,174.9 748.6,184.1 748.8,193.3 748.7,202.5 748.2,211.7 747.4,220.9 746.1,230.2 744.6,239.4 742.6,248.6 740.3,257.8 737.6,267 734.5,276.3 731.1,285.5 727.3,294.7 723.2,303.9 718.6,313.1 713.8,322.4 708.5,331.6 702.9,340.8 696.9,350 690.5,359.2 683.8,368.5 676.7,377.7 669.2,386.9 674.2,386.9 681.7,377.7 688.8,368.5 695.6,359.2 702,350 708,340.8 713.7,331.6 719,322.4 723.9,313.1 728.5,303.9 732.6,294.7 736.5,285.5 739.9,276.3 743,267 745.7,257.8 748.1,248.6 750.1,239.4 751.7,230.2 752.9,220.9 753.8,211.7 754.3,202.5 754.5,193.3 754.3,184.1 753.7,174.9 752.7,165.6 751.4,156.4 749.7,147.2 747.6,138 745.2,128.8 742.4,119.5 739.3,110.3 735.7,101.1 731.8,91.9 727.6,82.7 722.9,73.4 717.9,64.2 712.6,55 706.8,45.8 700.7,36.6 694.3,27.3 687.4,18.1 680.2,8.9Z" fill="#4464a8"/>
<path d="M687.1,8.9 694.3,18.1 701.1,27.3 707.5,36.6 713.6,45.8 719.3,55 724.6,64.2 729.6,73.4 734.2,82.7 738.4,91.9 742.3,101.1 745.8,110.3 748.9,119.5 751.7,128.8 754.1,138 756.1,147.2 757.7,156.4 759,165.6 759.9,174.9 760.5,184.1 760.7,193.3 760.5,202.5 759.9,211.7 759,220.9 757.7,230.2 756.1,239.4 754.1,248.6 751.7,257.8 748.9,267 745.8,276.3 742.3,285.5 738.4,294.7 734.2,303.9 729.6,313.1 724.7,322.4 719.3,331.6 713.6,340.8 707.6,350 701.1,359.2 694.3,368.5 687.2,377.7 679.6,386.9 684.2,386.9 691.8,377.7 699,368.5 705.8,359.2 712.3,350 718.4,340.8 724.1,331.6 729.4,322.4 734.4,313.1 739.1,303.9 743.3,294.7 747.2,285.5 750.7,276.3 753.9,267 756.7,257.8 759.1,248.6 761.1,239.4 762.8,230.2 764.1,220.9 765.1,211.7 765.7,202.5 765.9,193.3 765.7,184.1 765.2,174.9 764.3,165.6 763,156.4 761.4,147.2 759.4,138 757.1,128.8 754.3,119.5 751.2,110.3 747.8,101.1 743.9,91.9 739.7,82.7 735.2,73.4 730.2,64.2 724.9,55 719.3,45.8 713.2,36.6 706.8,27.3 700.1,18.1 692.9,8.9Z" fill="#f1c984"/>
<path d="M692.9,8.9 700.1,18.1 706.8,27.3 713.2,36.6 719.3,45.8 724.9,55 730.2,64.2 735.2,73.4 739.7,82.7 743.9,91.9 747.8,101.1 751.2,110.3 754.3,119.5 757.1,128.8 759.4,138 761.4,147.2 763,156.4 764.3,165.6 765.2,174.9 765.7,184.1 765.9,193.3 765.7,202.5 765.1,211.7 764.1,220.9 762.8,230.2 761.1,239.4 759.1,248.6 756.7,257.8 753.9,267 750.7,276.3 747.2,285.5 743.3,294.7 739.1,303.9 734.4,313.1 729.4,322.4 724.1,331.6 718.4,340.8 712.3,350 705.8,359.2 699,368.5 691.8,377.7 684.2,386.9 688.8,386.9 696.4,377.7 703.6,368.5 710.5,359.2 717,350 723.1,340.8 728.8,331.6 734.2,322.4 739.2,313.1 743.9,303.9 748.2,294.7 752.1,285.5 755.7,276.3 758.8,267 761.7,257.8 764.1,248.6 766.2,239.4 767.9,230.2 769.2,220.9 770.2,211.7 770.8,202.5 771.1,193.3 770.9,184.1 770.5,174.9 769.6,165.6 768.4,156.4 766.8,147.2 764.8,138 762.5,128.8 759.8,119.5 756.7,110.3 753.3,101.1 749.5,91.9 745.3,82.7 740.8,73.4 735.9,64.2 730.6,55 724.9,45.8 718.9,36.6 712.6,27.3 705.8,18.1 698.7,8.9Z" fill="#ebaa5e"/>
<path d="M698.7,8.9 705.8,18.1 712.6,27.3 718.9,36.6 724.9,45.8 730.6,55 735.9,64.2 740.8,73.4 745.3,82.7 749.5,91.9 753.3,101.1 756.7,110.3 759.8,119.5 762.5,128.8 764.8,138 766.8,147.2 768.4,156.4 769.6,165.6 770.5,174.9 770.9,184.1 771.1,193.3 770.8,202.5 770.2,211.7 769.2,220.9 767.9,230.2 766.2,239.4 764.1,248.6 761.7,257.8 758.8,267 755.7,276.3 752.1,285.5 748.2,294.7 743.9,303.9 739.2,313.1 734.2,322.4 728.8,331.6 723.1,340.8 717,350 710.5,359.2 703.6,368.5 696.4,377.7 688.8,386.9 693.3,386.9 701,377.7 708.2,368.5 715.1,359.2 721.6,350 727.8,340.8 733.6,331.6 739,322.4 744.1,313.1 748.7,303.9 753.1,294.7 757,285.5 760.6,276.3 763.8,267 766.6,257.8 769.1,248.6 771.2,239.4 773,230.2 774.4,220.9 775.4,211.7 776,202.5 776.3,193.3 776.2,184.1 775.7,174.9 774.9,165.6 773.7,156.4 772.1,147.2 770.2,138 767.9,128.8 765.2,119.5 762.2,110.3 758.8,101.1 755,91.9 750.9,82.7 746.3,73.4 741.5,64.2 736.2,55 730.6,45.8 724.6,36.6 718.3,27.3 711.6,18.1 704.5,8.9Z" fill="#cd9a65"/>
<path d="M704.5,8.9 711.6,18.1 718.3,27.3 724.6,36.6 730.6,45.8 736.2,55 741.5,64.2 746.3,73.4 750.9,82.7 755,91.9 758.8,101.1 762.2,110.3 765.2,119.5 767.9,128.8 770.2,138 772.1,147.2 773.7,156.4 774.9,165.6 775.7,174.9 776.2,184.1 776.3,193.3 776,202.5 775.4,211.7 774.4,220.9 773,230.2 771.2,239.4 769.1,248.6 766.6,257.8 763.8,267 760.6,276.3 757,285.5 753.1,294.7 748.7,303.9 744.1,313.1 739,322.4 733.6,331.6 727.8,340.8 721.6,350 715.1,359.2 708.2,368.5 701,377.7 693.3,386.9 697.9,386.9 705.6,377.7 712.9,368.5 719.8,359.2 726.3,350 732.5,340.8 738.3,331.6 743.8,322.4 748.9,313.1 753.6,303.9 757.9,294.7 761.9,285.5 765.5,276.3 768.8,267 771.6,257.8 774.1,248.6 776.3,239.4 778.1,230.2 779.5,220.9 780.5,211.7 781.2,202.5 781.5,193.3 781.4,184.1 781,174.9 780.2,165.6 779,156.4 777.5,147.2 775.6,138 773.3,128.8 770.6,119.5 767.6,110.3 764.3,101.1 760.5,91.9 756.4,82.7 751.9,73.4 747.1,64.2 741.9,55 736.3,45.8 730.3,36.6 724,27.3 717.3,18.1 710.3,8.9Z" fill="#8b8187"/>
<path d="M710.3,8.9 717.3,18.1 724,27.3 730.3,36.6 736.3,45.8 741.9,55 747.1,64.2 751.9,73.4 756.4,82.7 760.5,91.9 764.3,101.1 767.6,110.3 770.6,119.5 773.3,128.8 775.6,138 777.5,147.2 779,156.4 780.2,165.6 781,174.9 781.4,184.1 781.5,193.3 781.2,202.5 780.5,211.7 779.5,220.9 778.1,230.2 776.3,239.4 774.1,248.6 771.6,257.8 768.8,267 765.5,276.3 761.9,285.5 757.9,294.7 753.6,303.9 748.9,313.1 743.8,322.4 738.3,331.6 732.5,340.8 726.3,350 719.8,359.2 712.9,368.5 705.6,377.7 697.9,386.9 702.9,386.9 710.6,377.7 717.9,368.5 724.9,359.2 731.4,350 737.7,340.8 743.5,331.6 749,322.4 754.1,313.1 758.9,303.9 763.2,294.7 767.2,285.5 770.9,276.3 774.2,267 777.1,257.8 779.6,248.6 781.8,239.4 783.6,230.2 785,220.9 786.1,211.7 786.8,202.5 787.1,193.3 787.1,184.1 786.7,174.9 785.9,165.6 784.8,156.4 783.3,147.2 781.4,138 779.2,128.8 776.6,119.5 773.6,110.3 770.3,101.1 766.6,91.9 762.5,82.7 758,73.4 753.2,64.2 748,55 742.5,45.8 736.6,36.6 730.3,27.3 723.6,18.1 716.6,8.9Z" fill="#4464a8"/>
<path d="M723.5,8.9 730.5,18.1 737.1,27.3 743.4,36.6 749.3,45.8 754.8,55 759.9,64.2 764.7,73.4 769.1,82.7 773.1,91.9 776.8,101.1 780.1,110.3 783.1,119.5 785.6,128.8 787.8,138 789.7,147.2 791.1,156.4 792.2,165.6 793,174.9 793.3,184.1 793.3,193.3 793,202.5 792.2,211.7 791.1,220.9 789.6,230.2 787.8,239.4 785.6,248.6 783,257.8 780.1,267 776.8,276.3 773.1,285.5 769,294.7 764.6,303.9 759.8,313.1 754.7,322.4 749.2,331.6 743.3,340.8 737,350 730.4,359.2 723.4,368.5 716.1,377.7 708.4,386.9 712.9,386.9 720.7,377.7 728.1,368.5 735.1,359.2 741.7,350 748,340.8 753.9,331.6 759.5,322.4 764.7,313.1 769.5,303.9 773.9,294.7 778,285.5 781.7,276.3 785,267 788,257.8 790.6,248.6 792.9,239.4 794.7,230.2 796.2,220.9 797.4,211.7 798.1,202.5 798.5,193.3 798.6,184.1 798.2,174.9 797.5,165.6 796.5,156.4 795,147.2 793.2,138 791,128.8 788.5,119.5 785.6,110.3 782.3,101.1 778.7,91.9 774.7,82.7 770.3,73.4 765.5,64.2 760.4,55 754.9,45.8 749.1,36.6 742.9,27.3 736.3,18.1 729.3,8.9Z" fill="#f1c984"/>
<path d="M729.3,8.9 736.3,18.1 742.9,27.3 749.1,36.6 754.9,45.8 760.4,55 765.5,64.2 770.3,73.4 774.7,82.7 778.7,91.9 782.3,101.1 785.6,110.3 788.5,119.5 791,128.8 793.2,138 795,147.2 796.5,156.4 797.5,165.6 798.2,174.9 798.6,184.1 798.5,193.3 798.1,202.5 797.4,211.7 796.2,220.9 794.7,230.2 792.9,239.4 790.6,248.6 788,257.8 785,267 781.7,276.3 778,285.5 773.9,294.7 769.5,303.9 764.7,313.1 759.5,322.4 753.9,331.6 748,340.8 741.7,350 735.1,359.2 728.1,368.5 720.7,377.7 712.9,386.9 717.5,386.9 725.3,377.7 732.7,368.5 739.7,359.2 746.4,350 752.7,340.8 758.7,331.6 764.3,322.4 769.5,313.1 774.3,303.9 778.8,294.7 782.9,285.5 786.6,276.3 790,267 793,257.8 795.6,248.6 797.9,239.4 799.8,230.2 801.3,220.9 802.5,211.7 803.3,202.5 803.7,193.3 803.8,184.1 803.5,174.9 802.8,165.6 801.8,156.4 800.4,147.2 798.6,138 796.4,128.8 793.9,119.5 791.1,110.3 787.8,101.1 784.2,91.9 780.2,82.7 775.9,73.4 771.1,64.2 766.1,55 760.6,45.8 754.8,36.6 748.6,27.3 742,18.1 735.1,8.9Z" fill="#ebaa5e"/>
<path d="M735.1,8.9 742,18.1 748.6,27.3 754.8,36.6 760.6,45.8 766.1,55 771.1,64.2 775.9,73.4 780.2,82.7 784.2,91.9 787.8,101.1 791.1,110.3 793.9,119.5 796.4,128.8 798.6,138 800.4,147.2 801.8,156.4 802.8,165.6 803.5,174.9 803.8,184.1 803.7,193.3 803.3,202.5 802.5,211.7 801.3,220.9 799.8,230.2 797.9,239.4 795.6,248.6 793,257.8 790,267 786.6,276.3 782.9,285.5 778.8,294.7 774.3,303.9 769.5,313.1 764.3,322.4 758.7,331.6 752.7,340.8 746.4,350 739.7,359.2 732.7,368.5 725.3,377.7 717.5,386.9 722.1,386.9 729.9,377.7 737.3,368.5 744.4,359.2 751.1,350 757.5,340.8 763.4,331.6 769,322.4 774.3,313.1 779.1,303.9 783.6,294.7 787.8,285.5 791.6,276.3 795,267 798,257.8 800.7,248.6 803,239.4 804.9,230.2 806.4,220.9 807.6,211.7 808.5,202.5 808.9,193.3 809,184.1 808.7,174.9 808.1,165.6 807.1,156.4 805.7,147.2 804,138 801.8,128.8 799.4,119.5 796.5,110.3 793.3,101.1 789.7,91.9 785.8,82.7 781.4,73.4 776.8,64.2 771.7,55 766.3,45.8 760.5,36.6 754.3,27.3 747.8,18.1 740.9,8.9Z" fill="#cd9a65"/>
<path d="M740.9,8.9 747.8,18.1 754.3,27.3 760.5,36.6 766.3,45.8 771.7,55 776.8,64.2 781.4,73.4 785.8,82.7 789.7,91.9 793.3,101.1 796.5,110.3 799.4,119.5 801.8,128.8 804,138 805.7,147.2 807.1,156.4 808.1,165.6 808.7,174.9 809,184.1 808.9,193.3 808.5,202.5 807.6,211.7 806.4,220.9 804.9,230.2 803,239.4 800.7,248.6 798,257.8 795,267 791.6,276.3 787.8,285.5 783.6,294.7 779.1,303.9 774.3,313.1 769,322.4 763.4,331.6 757.5,340.8 751.1,350 744.4,359.2 737.3,368.5 729.9,377.7 722.1,386.9 726.6,386.9 734.5,377.7 741.9,368.5 749.1,359.2 755.8,350 762.2,340.8 768.2,331.6 773.8,322.4 779.1,313.1 784,303.9 788.5,294.7 792.7,285.5 796.5,276.3 799.9,267 803,257.8 805.7,248.6 808,239.4 810,230.2 811.6,220.9 812.8,211.7 813.6,202.5 814.1,193.3 814.2,184.1 814,174.9 813.4,165.6 812.4,156.4 811.1,147.2 809.3,138 807.3,128.8 804.8,119.5 802,110.3 798.8,101.1 795.2,91.9 791.3,82.7 787,73.4 782.4,64.2 777.3,55 772,45.8 766.2,36.6 760.1,27.3 753.6,18.1 746.7,8.9Z" fill="#8b8187"/>
<path d="M746.7,8.9 753.6,18.1 760.1,27.3 766.2,36.6 772,45.8 777.3,55 782.4,64.2 787,73.4 791.3,82.7 795.2,91.9 798.8,101.1 802,110.3 804.8,119.5 807.3,128.8 809.3,138 811.1,147.2 812.4,156.4 813.4,165.6 814,174.9 814.2,184.1 814.1,193.3 813.6,202.5 812.8,211.7 811.6,220.9 810,230.2 808,239.4 805.7,248.6 803,257.8 799.9,267 796.5,276.3 792.7,285.5 788.5,294.7 784,303.9 779.1,313.1 773.8,322.4 768.2,331.6 762.2,340.8 755.8,350 749.1,359.2 741.9,368.5 734.5,377.7 726.6,386.9 731.6,386.9 739.5,377.7 747,368.5 754.1,359.2 760.9,350 767.3,340.8 773.4,331.6 779,322.4 784.3,313.1 789.3,303.9 793.8,294.7 798,285.5 801.9,276.3 805.3,267 808.4,257.8 811.1,248.6 813.5,239.4 815.5,230.2 817.1,220.9 818.4,211.7 819.3,202.5 819.8,193.3 819.9,184.1 819.7,174.9 819.2,165.6 818.2,156.4 816.9,147.2 815.2,138 813.2,128.8 810.7,119.5 807.9,110.3 804.8,101.1 801.3,91.9 797.4,82.7 793.1,73.4 788.5,64.2 783.5,55 778.1,45.8 772.4,36.6 766.3,27.3 759.9,18.1 753,8.9Z" fill="#4464a8"/>
<path d="M759.9,8.9 766.7,18.1 773.2,27.3 779.2,36.6 784.9,45.8 790.2,55 795.2,64.2 799.8,73.4 804,82.7 807.9,91.9 811.3,101.1 814.5,110.3 817.2,119.5 819.6,128.8 821.6,138 823.3,147.2 824.5,156.4 825.5,165.6 826,174.9 826.2,184.1 826,193.3 825.4,202.5 824.5,211.7 823.2,220.9 821.6,230.2 819.5,239.4 817.1,248.6 814.4,257.8 811.2,267 807.7,276.3 803.9,285.5 799.6,294.7 795,303.9 790.1,313.1 784.7,322.4 779,331.6 772.9,340.8 766.5,350 759.7,359.2 752.5,368.5 745,377.7 737.1,386.9 741.6,386.9 749.6,377.7 757.2,368.5 764.4,359.2 771.2,350 777.7,340.8 783.8,331.6 789.5,322.4 794.9,313.1 799.9,303.9 804.5,294.7 808.8,285.5 812.7,276.3 816.2,267 819.4,257.8 822.1,248.6 824.6,239.4 826.6,230.2 828.3,220.9 829.6,211.7 830.6,202.5 831.2,193.3 831.4,184.1 831.3,174.9 830.7,165.6 829.9,156.4 828.6,147.2 827,138 825,128.8 822.6,119.5 819.9,110.3 816.8,101.1 813.4,91.9 809.6,82.7 805.4,73.4 800.8,64.2 795.9,55 790.6,45.8 784.9,36.6 778.9,27.3 772.5,18.1 765.7,8.9Z" fill="#f1c984"/>
<path d="M765.7,8.9 772.5,18.1 778.9,27.3 784.9,36.6 790.6,45.8 795.9,55 800.8,64.2 805.4,73.4 809.6,82.7 813.4,91.9 816.8,101.1 819.9,110.3 822.6,119.5 825,128.8 827,138 828.6,147.2 829.9,156.4 830.7,165.6 831.3,174.9 831.4,184.1 831.2,193.3 830.6,202.5 829.6,211.7 828.3,220.9 826.6,230.2 824.6,239.4 822.1,248.6 819.4,257.8 816.2,267 812.7,276.3 808.8,285.5 804.5,294.7 799.9,303.9 794.9,313.1 789.5,322.4 783.8,331.6 777.7,340.8 771.2,350 764.4,359.2 757.2,368.5 749.6,377.7 741.6,386.9 746.2,386.9 754.2,377.7 761.8,368.5 769,359.2 775.9,350 782.4,340.8 788.5,331.6 794.3,322.4 799.7,313.1 804.7,303.9 809.4,294.7 813.7,285.5 817.6,276.3 821.1,267 824.3,257.8 827.2,248.6 829.6,239.4 831.7,230.2 833.4,220.9 834.8,211.7 835.8,202.5 836.4,193.3 836.6,184.1 836.5,174.9 836,165.6 835.2,156.4 834,147.2 832.4,138 830.4,128.8 828.1,119.5 825.4,110.3 822.3,101.1 818.9,91.9 815.1,82.7 811,73.4 806.4,64.2 801.5,55 796.3,45.8 790.6,36.6 784.6,27.3 778.3,18.1 771.5,8.9Z" fill="#ebaa5e"/>
<path d="M771.5,8.9 778.3,18.1 784.6,27.3 790.6,36.6 796.3,45.8 801.5,55 806.4,64.2 811,73.4 815.1,82.7 818.9,91.9 822.3,101.1 825.4,110.3 828.1,119.5 830.4,128.8 832.4,138 834,147.2 835.2,156.4 836,165.6 836.5,174.9 836.6,184.1 836.4,193.3 835.8,202.5 834.8,211.7 833.4,220.9 831.7,230.2 829.6,239.4 827.2,248.6 824.3,257.8 821.1,267 817.6,276.3 813.7,285.5 809.4,294.7 804.7,303.9 799.7,313.1 794.3,322.4 788.5,331.6 782.4,340.8 775.9,350 769,359.2 761.8,368.5 754.2,377.7 746.2,386.9 750.8,386.9 758.8,377.7 766.4,368.5 773.7,359.2 780.6,350 787.1,340.8 793.3,331.6 799.1,322.4 804.5,313.1 809.5,303.9 814.2,294.7 818.6,285.5 822.5,276.3 826.1,267 829.3,257.8 832.2,248.6 834.7,239.4 836.8,230.2 838.5,220.9 839.9,211.7 840.9,202.5 841.6,193.3 841.9,184.1 841.8,174.9 841.3,165.6 840.5,156.4 839.3,147.2 837.7,138 835.8,128.8 833.5,119.5 830.9,110.3 827.8,101.1 824.4,91.9 820.7,82.7 816.5,73.4 812,64.2 807.2,55 801.9,45.8 796.3,36.6 790.4,27.3 784,18.1 777.3,8.9Z" fill="#cd9a65"/>
<path d="M777.3,8.9 784,18.1 790.4,27.3 796.3,36.6 801.9,45.8 807.2,55 812,64.2 816.5,73.4 820.7,82.7 824.4,91.9 827.8,101.1 830.9,110.3 833.5,119.5 835.8,128.8 837.7,138 839.3,147.2 840.5,156.4 841.3,165.6 841.8,174.9 841.9,184.1 841.6,193.3 840.9,202.5 839.9,211.7 838.5,220.9 836.8,230.2 834.7,239.4 832.2,248.6 829.3,257.8 826.1,267 822.5,276.3 818.6,285.5 814.2,294.7 809.5,303.9 804.5,313.1 799.1,322.4 793.3,331.6 787.1,340.8 780.6,350 773.7,359.2 766.4,368.5 758.8,377.7 750.8,386.9 755.3,386.9 763.4,377.7 771,368.5 778.3,359.2 785.3,350 791.8,340.8 798,331.6 803.8,322.4 809.3,313.1 814.4,303.9 819.1,294.7 823.5,285.5 827.4,276.3 831.1,267 834.3,257.8 837.2,248.6 839.7,239.4 841.9,230.2 843.6,220.9 845.1,211.7 846.1,202.5 846.8,193.3 847.1,184.1 847,174.9 846.6,165.6 845.8,156.4 844.6,147.2 843.1,138 841.2,128.8 839,119.5 836.3,110.3 833.3,101.1 830,91.9 826.2,82.7 822.1,73.4 817.7,64.2 812.8,55 807.6,45.8 802,36.6 796.1,27.3 789.8,18.1 783.1,8.9Z" fill="#8b8187"/>
<path d="M783.1,8.9 789.8,18.1 796.1,27.3 802,36.6 807.6,45.8 812.8,55 817.7,64.2 822.1,73.4 826.2,82.7 830,91.9 833.3,101.1 836.3,110.3 839,119.5 841.2,128.8 843.1,138 844.6,147.2 845.8,156.4 846.6,165.6 847,174.9 847.1,184.1 846.8,193.3 846.1,202.5 845.1,211.7 843.6,220.9 841.9,230.2 839.7,239.4 837.2,248.6 834.3,257.8 831.1,267 827.4,276.3 823.5,285.5 819.1,294.7 814.4,303.9 809.3,313.1 803.8,322.4 798,331.6 791.8,340.8 785.3,350 778.3,359.2 771,368.5 763.4,377.7 755.3,386.9 760.3,386.9 768.4,377.7 776.1,368.5 783.4,359.2 790.4,350 797,340.8 803.2,331.6 809.1,322.4 814.5,313.1 819.7,303.9 824.4,294.7 828.8,285.5 832.8,276.3 836.5,267 839.8,257.8 842.7,248.6 845.2,239.4 847.4,230.2 849.2,220.9 850.7,211.7 851.7,202.5 852.4,193.3 852.8,184.1 852.8,174.9 852.4,165.6 851.6,156.4 850.5,147.2 849,138 847.1,128.8 844.9,119.5 842.3,110.3 839.3,101.1 836,91.9 832.3,82.7 828.2,73.4 823.8,64.2 819,55 813.8,45.8 808.3,36.6 802.4,27.3 796.1,18.1 789.4,8.9Z" fill="#4464a8"/>
<path d="M796.3,8.9 802.9,18.1 809.2,27.3 815.1,36.6 820.6,45.8 825.7,55 830.5,64.2 834.9,73.4 838.9,82.7 842.6,91.9 845.9,101.1 848.8,110.3 851.4,119.5 853.6,128.8 855.4,138 856.9,147.2 857.9,156.4 858.7,165.6 859,174.9 859,184.1 858.6,193.3 857.9,202.5 856.8,211.7 855.3,220.9 853.5,230.2 851.2,239.4 848.7,248.6 845.7,257.8 842.4,267 838.7,276.3 834.6,285.5 830.2,294.7 825.4,303.9 820.3,313.1 814.8,322.4 808.9,331.6 802.6,340.8 796,350 789,359.2 781.6,368.5 773.9,377.7 765.8,386.9 770.4,386.9 778.5,377.7 786.2,368.5 793.6,359.2 800.7,350 807.3,340.8 813.6,331.6 819.5,322.4 825.1,313.1 830.3,303.9 835.1,294.7 839.5,285.5 843.6,276.3 847.3,267 850.7,257.8 853.7,248.6 856.3,239.4 858.5,230.2 860.4,220.9 861.9,211.7 863.1,202.5 863.8,193.3 864.2,184.1 864.3,174.9 864,165.6 863.3,156.4 862.2,147.2 860.8,138 859,128.8 856.8,119.5 854.3,110.3 851.4,101.1 848.1,91.9 844.5,82.7 840.5,73.4 836.1,64.2 831.3,55 826.2,45.8 820.8,36.6 814.9,27.3 808.7,18.1 802.1,8.9Z" fill="#f1c984"/>
<path d="M802.1,8.9 808.7,18.1 814.9,27.3 820.8,36.6 826.2,45.8 831.3,55 836.1,64.2 840.5,73.4 844.5,82.7 848.1,91.9 851.4,101.1 854.3,110.3 856.8,119.5 859,128.8 860.8,138 862.2,147.2 863.3,156.4 864,165.6 864.3,174.9 864.2,184.1 863.8,193.3 863.1,202.5 861.9,211.7 860.4,220.9 858.5,230.2 856.3,239.4 853.7,248.6 850.7,257.8 847.3,267 843.6,276.3 839.5,285.5 835.1,294.7 830.3,303.9 825.1,313.1 819.5,322.4 813.6,331.6 807.3,340.8 800.7,350 793.6,359.2 786.2,368.5 778.5,377.7 770.4,386.9 774.9,386.9 783.1,377.7 790.9,368.5 798.3,359.2 805.3,350 812,340.8 818.4,331.6 824.3,322.4 829.9,313.1 835.1,303.9 840,294.7 844.4,285.5 848.6,276.3 852.3,267 855.7,257.8 858.7,248.6 861.3,239.4 863.6,230.2 865.5,220.9 867.1,211.7 868.2,202.5 869,193.3 869.5,184.1 869.5,174.9 869.2,165.6 868.6,156.4 867.5,147.2 866.1,138 864.4,128.8 862.2,119.5 859.7,110.3 856.9,101.1 853.6,91.9 850,82.7 846,73.4 841.7,64.2 837,55 831.9,45.8 826.5,36.6 820.7,27.3 814.5,18.1 807.9,8.9Z" fill="#ebaa5e"/>
<path d="M807.9,8.9 814.5,18.1 820.7,27.3 826.5,36.6 831.9,45.8 837,55 841.7,64.2 846,73.4 850,82.7 853.6,91.9 856.9,101.1 859.7,110.3 862.2,119.5 864.4,128.8 866.1,138 867.5,147.2 868.6,156.4 869.2,165.6 869.5,174.9 869.5,184.1 869,193.3 868.2,202.5 867.1,211.7 865.5,220.9 863.6,230.2 861.3,239.4 858.7,248.6 855.7,257.8 852.3,267 848.6,276.3 844.4,285.5 840,294.7 835.1,303.9 829.9,313.1 824.3,322.4 818.4,331.6 812,340.8 805.3,350 798.3,359.2 790.9,368.5 783.1,377.7 774.9,386.9 779.5,386.9 787.7,377.7 795.5,368.5 803,359.2 810,350 816.8,340.8 823.1,331.6 829.1,322.4 834.7,313.1 840,303.9 844.8,294.7 849.3,285.5 853.5,276.3 857.3,267 860.7,257.8 863.7,248.6 866.4,239.4 868.7,230.2 870.6,220.9 872.2,211.7 873.4,202.5 874.2,193.3 874.7,184.1 874.8,174.9 874.5,165.6 873.9,156.4 872.9,147.2 871.5,138 869.8,128.8 867.7,119.5 865.2,110.3 862.4,101.1 859.2,91.9 855.6,82.7 851.6,73.4 847.3,64.2 842.6,55 837.6,45.8 832.2,36.6 826.4,27.3 820.2,18.1 813.7,8.9Z" fill="#cd9a65"/>
<path d="M813.7,8.9 820.2,18.1 826.4,27.3 832.2,36.6 837.6,45.8 842.6,55 847.3,64.2 851.6,73.4 855.6,82.7 859.2,91.9 862.4,101.1 865.2,110.3 867.7,119.5 869.8,128.8 871.5,138 872.9,147.2 873.9,156.4 874.5,165.6 874.8,174.9 874.7,184.1 874.2,193.3 873.4,202.5 872.2,211.7 870.6,220.9 868.7,230.2 866.4,239.4 863.7,248.6 860.7,257.8 857.3,267 853.5,276.3 849.3,285.5 844.8,294.7 840,303.9 834.7,313.1 829.1,322.4 823.1,331.6 816.8,340.8 810,350 803,359.2 795.5,368.5 787.7,377.7 779.5,386.9 784.1,386.9 792.3,377.7 800.1,368.5 807.6,359.2 814.7,350 821.5,340.8 827.9,331.6 833.9,322.4 839.5,313.1 844.8,303.9 849.7,294.7 854.2,285.5 858.4,276.3 862.2,267 865.7,257.8 868.7,248.6 871.4,239.4 873.8,230.2 875.7,220.9 877.3,211.7 878.6,202.5 879.4,193.3 879.9,184.1 880.1,174.9 879.8,165.6 879.2,156.4 878.2,147.2 876.9,138 875.2,128.8 873.1,119.5 870.7,110.3 867.9,101.1 864.7,91.9 861.1,82.7 857.2,73.4 852.9,64.2 848.3,55 843.3,45.8 837.9,36.6 832.1,27.3 826,18.1 819.5,8.9Z" fill="#8b8187"/>
<path d="M819.5,8.9 826,18.1 832.1,27.3 837.9,36.6 843.3,45.8 848.3,55 852.9,64.2 857.2,73.4 861.1,82.7 864.7,91.9 867.9,101.1 870.7,110.3 873.1,119.5 875.2,128.8 876.9,138 878.2,147.2 879.2,156.4 879.8,165.6 880.1,174.9 879.9,184.1 879.4,193.3 878.6,202.5 877.3,211.7 875.7,220.9 873.8,230.2 871.4,239.4 868.7,248.6 865.7,257.8 862.2,267 858.4,276.3 854.2,285.5 849.7,294.7 844.8,303.9 839.5,313.1 833.9,322.4 827.9,331.6 821.5,340.8 814.7,350 807.6,359.2 800.1,368.5 792.3,377.7 784.1,386.9 789,386.9 797.3,377.7 805.2,368.5 812.7,359.2 819.8,350 826.6,340.8 833,331.6 839.1,322.4 844.8,313.1 850.1,303.9 855,294.7 859.6,285.5 863.8,276.3 867.6,267 871.1,257.8 874.2,248.6 876.9,239.4 879.3,230.2 881.3,220.9 882.9,211.7 884.2,202.5 885.1,193.3 885.6,184.1 885.8,174.9 885.6,165.6 885,156.4 884.1,147.2 882.8,138 881.1,128.8 879,119.5 876.6,110.3 873.9,101.1 870.7,91.9 867.2,82.7 863.3,73.4 859.1,64.2 854.4,55 849.5,45.8 844.1,36.6 838.4,27.3 832.3,18.1 825.8,8.9Z" fill="#4464a8"/>
<path d="M832.7,8.9 839.2,18.1 845.2,27.3 850.9,36.6 856.2,45.8 861.2,55 865.8,64.2 870,73.4 873.8,82.7 877.3,91.9 880.4,101.1 883.1,110.3 885.5,119.5 887.5,128.8 889.2,138 890.4,147.2 891.4,156.4 891.9,165.6 892.1,174.9 891.9,184.1 891.3,193.3 890.4,202.5 889.1,211.7 887.4,220.9 885.4,230.2 883,239.4 880.2,248.6 877,257.8 873.5,267 869.7,276.3 865.4,285.5 860.8,294.7 855.8,303.9 850.5,313.1 844.8,322.4 838.7,331.6 832.3,340.8 825.4,350 818.3,359.2 810.7,368.5 802.8,377.7 794.5,386.9 799.1,386.9 807.4,377.7 815.3,368.5 822.9,359.2 830.1,350 837,340.8 843.4,331.6 849.6,322.4 855.3,313.1 860.7,303.9 865.7,294.7 870.3,285.5 874.6,276.3 878.5,267 882,257.8 885.2,248.6 888,239.4 890.4,230.2 892.5,220.9 894.2,211.7 895.5,202.5 896.5,193.3 897.1,184.1 897.3,174.9 897.2,165.6 896.7,156.4 895.8,147.2 894.6,138 892.9,128.8 891,119.5 888.6,110.3 885.9,101.1 882.8,91.9 879.4,82.7 875.6,73.4 871.4,64.2 866.8,55 861.9,45.8 856.6,36.6 851,27.3 844.9,18.1 838.5,8.9Z" fill="#f1c984"/>
<path d="M838.5,8.9 844.9,18.1 851,27.3 856.6,36.6 861.9,45.8 866.8,55 871.4,64.2 875.6,73.4 879.4,82.7 882.8,91.9 885.9,101.1 888.6,110.3 891,119.5 892.9,128.8 894.6,138 895.8,147.2 896.7,156.4 897.2,165.6 897.3,174.9 897.1,184.1 896.5,193.3 895.5,202.5 894.2,211.7 892.5,220.9 890.4,230.2 888,239.4 885.2,248.6 882,257.8 878.5,267 874.6,276.3 870.3,285.5 865.7,294.7 860.7,303.9 855.3,313.1 849.6,322.4 843.4,331.6 837,340.8 830.1,350 822.9,359.2 815.3,368.5 807.4,377.7 799.1,386.9 803.6,386.9 812,377.7 820,368.5 827.6,359.2 834.8,350 841.7,340.8 848.2,331.6 854.3,322.4 860.1,313.1 865.5,303.9 870.6,294.7 875.2,285.5 879.5,276.3 883.5,267 887,257.8 890.2,248.6 893.1,239.4 895.5,230.2 897.6,220.9 899.3,211.7 900.7,202.5 901.7,193.3 902.3,184.1 902.6,174.9 902.5,165.6 902,156.4 901.1,147.2 899.9,138 898.3,128.8 896.4,119.5 894.1,110.3 891.4,101.1 888.3,91.9 884.9,82.7 881.1,73.4 877,64.2 872.5,55 867.6,45.8 862.3,36.6 856.7,27.3 850.7,18.1 844.3,8.9Z" fill="#ebaa5e"/>
<path d="M844.3,8.9 850.7,18.1 856.7,27.3 862.3,36.6 867.6,45.8 872.5,55 877,64.2 881.1,73.4 884.9,82.7 888.3,91.9 891.4,101.1 894.1,110.3 896.4,119.5 898.3,128.8 899.9,138 901.1,147.2 902,156.4 902.5,165.6 902.6,174.9 902.3,184.1 901.7,193.3 900.7,202.5 899.3,211.7 897.6,220.9 895.5,230.2 893.1,239.4 890.2,248.6 887,257.8 883.5,267 879.5,276.3 875.2,285.5 870.6,294.7 865.5,303.9 860.1,313.1 854.3,322.4 848.2,331.6 841.7,340.8 834.8,350 827.6,359.2 820,368.5 812,377.7 803.6,386.9 808.2,386.9 816.6,377.7 824.6,368.5 832.2,359.2 839.5,350 846.4,340.8 852.9,331.6 859.1,322.4 864.9,313.1 870.4,303.9 875.4,294.7 880.1,285.5 884.5,276.3 888.4,267 892,257.8 895.2,248.6 898.1,239.4 900.6,230.2 902.7,220.9 904.5,211.7 905.9,202.5 906.9,193.3 907.5,184.1 907.8,174.9 907.8,165.6 907.3,156.4 906.5,147.2 905.3,138 903.8,128.8 901.8,119.5 899.5,110.3 896.9,101.1 893.9,91.9 890.5,82.7 886.7,73.4 882.6,64.2 878.1,55 873.2,45.8 868,36.6 862.4,27.3 856.5,18.1 850.1,8.9Z" fill="#cd9a65"/>
<path d="M850.1,8.9 856.5,18.1 862.4,27.3 868,36.6 873.2,45.8 878.1,55 882.6,64.2 886.7,73.4 890.5,82.7 893.9,91.9 896.9,101.1 899.5,110.3 901.8,119.5 903.8,128.8 905.3,138 906.5,147.2 907.3,156.4 907.8,165.6 907.8,174.9 907.5,184.1 906.9,193.3 905.9,202.5 904.5,211.7 902.7,220.9 900.6,230.2 898.1,239.4 895.2,248.6 892,257.8 888.4,267 884.5,276.3 880.1,285.5 875.4,294.7 870.4,303.9 864.9,313.1 859.1,322.4 852.9,331.6 846.4,340.8 839.5,350 832.2,359.2 824.6,368.5 816.6,377.7 808.2,386.9 812.8,386.9 821.2,377.7 829.2,368.5 836.9,359.2 844.2,350 851.1,340.8 857.7,331.6 863.9,322.4 869.7,313.1 875.2,303.9 880.3,294.7 885,285.5 889.4,276.3 893.4,267 897,257.8 900.3,248.6 903.1,239.4 905.7,230.2 907.8,220.9 909.6,211.7 911,202.5 912.1,193.3 912.8,184.1 913.1,174.9 913,165.6 912.6,156.4 911.8,147.2 910.7,138 909.2,128.8 907.3,119.5 905,110.3 902.4,101.1 899.4,91.9 896,82.7 892.3,73.4 888.2,64.2 883.8,55 878.9,45.8 873.7,36.6 868.2,27.3 862.2,18.1 855.9,8.9Z" fill="#8b8187"/>
<path d="M855.9,8.9 862.2,18.1 868.2,27.3 873.7,36.6 878.9,45.8 883.8,55 888.2,64.2 892.3,73.4 896,82.7 899.4,91.9 902.4,101.1 905,110.3 907.3,119.5 909.2,128.8 910.7,138 911.8,147.2 912.6,156.4 913,165.6 913.1,174.9 912.8,184.1 912.1,193.3 911,202.5 909.6,211.7 907.8,220.9 905.7,230.2 903.1,239.4 900.3,248.6 897,257.8 893.4,267 889.4,276.3 885,285.5 880.3,294.7 875.2,303.9 869.7,313.1 863.9,322.4 857.7,331.6 851.1,340.8 844.2,350 836.9,359.2 829.2,368.5 821.2,377.7 812.8,386.9 817.8,386.9 826.2,377.7 834.3,368.5 842,359.2 849.3,350 856.3,340.8 862.9,331.6 869.1,322.4 875,313.1 880.5,303.9 885.6,294.7 890.4,285.5 894.8,276.3 898.8,267 902.4,257.8 905.7,248.6 908.7,239.4 911.2,230.2 913.4,220.9 915.2,211.7 916.7,202.5 917.8,193.3 918.5,184.1 918.8,174.9 918.8,165.6 918.4,156.4 917.7,147.2 916.5,138 915.1,128.8 913.2,119.5 911,110.3 908.4,101.1 905.4,91.9 902.1,82.7 898.4,73.4 894.3,64.2 889.9,55 885.1,45.8 879.9,36.6 874.4,27.3 868.5,18.1 862.2,8.9Z" fill="#4464a8"/>
<path d="M869.2,8.9 875.4,18.1 881.3,27.3 886.7,36.6 891.9,45.8 896.6,55 901,64.2 905.1,73.4 908.7,82.7 912,91.9 914.9,101.1 917.5,110.3 919.7,119.5 921.5,128.8 923,138 924,147.2 924.8,156.4 925.1,165.6 925.1,174.9 924.7,184.1 924,193.3 922.8,202.5 921.3,211.7 919.5,220.9 917.3,230.2 914.7,239.4 911.7,248.6 908.4,257.8 904.7,267 900.6,276.3 896.2,285.5 891.4,294.7 886.2,303.9 880.7,313.1 874.8,322.4 868.5,331.6 861.9,340.8 854.9,350 847.5,359.2 839.8,368.5 831.7,377.7 823.2,386.9 827.8,386.9 836.3,377.7 844.4,368.5 852.2,359.2 859.6,350 866.6,340.8 873.3,331.6 879.6,322.4 885.5,313.1 891.1,303.9 896.3,294.7 901.1,285.5 905.6,276.3 909.7,267 913.4,257.8 916.7,248.6 919.7,239.4 922.3,230.2 924.6,220.9 926.5,211.7 928,202.5 929.1,193.3 929.9,184.1 930.3,174.9 930.4,165.6 930.1,156.4 929.4,147.2 928.3,138 926.9,128.8 925.1,119.5 923,110.3 920.4,101.1 917.5,91.9 914.3,82.7 910.6,73.4 906.6,64.2 902.3,55 897.6,45.8 892.5,36.6 887,27.3 881.1,18.1 874.9,8.9Z" fill="#f1c984"/>
<path d="M874.9,8.9 881.1,18.1 887,27.3 892.5,36.6 897.6,45.8 902.3,55 906.6,64.2 910.6,73.4 914.3,82.7 917.5,91.9 920.4,101.1 923,110.3 925.1,119.5 926.9,128.8 928.3,138 929.4,147.2 930.1,156.4 930.4,165.6 930.3,174.9 929.9,184.1 929.1,193.3 928,202.5 926.5,211.7 924.6,220.9 922.3,230.2 919.7,239.4 916.7,248.6 913.4,257.8 909.7,267 905.6,276.3 901.1,285.5 896.3,294.7 891.1,303.9 885.5,313.1 879.6,322.4 873.3,331.6 866.6,340.8 859.6,350 852.2,359.2 844.4,368.5 836.3,377.7 827.8,386.9 832.4,386.9 840.9,377.7 849.1,368.5 856.8,359.2 864.3,350 871.3,340.8 878,331.6 884.4,322.4 890.3,313.1 895.9,303.9 901.1,294.7 906,285.5 910.5,276.3 914.6,267 918.4,257.8 921.8,248.6 924.8,239.4 927.4,230.2 929.7,220.9 931.6,211.7 933.2,202.5 934.3,193.3 935.2,184.1 935.6,174.9 935.7,165.6 935.4,156.4 934.7,147.2 933.7,138 932.3,128.8 930.6,119.5 928.4,110.3 925.9,101.1 923.1,91.9 919.8,82.7 916.2,73.4 912.3,64.2 907.9,55 903.2,45.8 898.2,36.6 892.7,27.3 886.9,18.1 880.7,8.9Z" fill="#ebaa5e"/>
<path d="M880.7,8.9 886.9,18.1 892.7,27.3 898.2,36.6 903.2,45.8 907.9,55 912.3,64.2 916.2,73.4 919.8,82.7 923.1,91.9 925.9,101.1 928.4,110.3 930.6,119.5 932.3,128.8 933.7,138 934.7,147.2 935.4,156.4 935.7,165.6 935.6,174.9 935.2,184.1 934.3,193.3 933.2,202.5 931.6,211.7 929.7,220.9 927.4,230.2 924.8,239.4 921.8,248.6 918.4,257.8 914.6,267 910.5,276.3 906,285.5 901.1,294.7 895.9,303.9 890.3,313.1 884.4,322.4 878,331.6 871.3,340.8 864.3,350 856.8,359.2 849.1,368.5 840.9,377.7 832.4,386.9 836.9,386.9 845.5,377.7 853.7,368.5 861.5,359.2 869,350 876.1,340.8 882.8,331.6 889.1,322.4 895.1,313.1 900.8,303.9 906,294.7 910.9,285.5 915.4,276.3 919.6,267 923.4,257.8 926.8,248.6 929.8,239.4 932.5,230.2 934.8,220.9 936.8,211.7 938.3,202.5 939.5,193.3 940.4,184.1 940.9,174.9 941,165.6 940.7,156.4 940.1,147.2 939.1,138 937.7,128.8 936,119.5 933.9,110.3 931.4,101.1 928.6,91.9 925.4,82.7 921.8,73.4 917.9,64.2 913.6,55 908.9,45.8 903.9,36.6 898.5,27.3 892.7,18.1 886.5,8.9Z" fill="#cd9a65"/>
<path d="M886.5,8.9 892.7,18.1 898.5,27.3 903.9,36.6 908.9,45.8 913.6,55 917.9,64.2 921.8,73.4 925.4,82.7 928.6,91.9 931.4,101.1 933.9,110.3 936,119.5 937.7,128.8 939.1,138 940.1,147.2 940.7,156.4 941,165.6 940.9,174.9 940.4,184.1 939.5,193.3 938.3,202.5 936.8,211.7 934.8,220.9 932.5,230.2 929.8,239.4 926.8,248.6 923.4,257.8 919.6,267 915.4,276.3 910.9,285.5 906,294.7 900.8,303.9 895.1,313.1 889.1,322.4 882.8,331.6 876.1,340.8 869,350 861.5,359.2 853.7,368.5 845.5,377.7 836.9,386.9 841.5,386.9 850.1,377.7 858.3,368.5 866.2,359.2 873.7,350 880.8,340.8 887.5,331.6 893.9,322.4 899.9,313.1 905.6,303.9 910.9,294.7 915.8,285.5 920.3,276.3 924.5,267 928.3,257.8 931.8,248.6 934.9,239.4 937.6,230.2 939.9,220.9 941.9,211.7 943.5,202.5 944.7,193.3 945.6,184.1 946.1,174.9 946.3,165.6 946,156.4 945.4,147.2 944.5,138 943.1,128.8 941.4,119.5 939.4,110.3 936.9,101.1 934.1,91.9 930.9,82.7 927.4,73.4 923.5,64.2 919.2,55 914.6,45.8 909.6,36.6 904.2,27.3 898.4,18.1 892.3,8.9Z" fill="#8b8187"/>
<path d="M892.3,8.9 898.4,18.1 904.2,27.3 909.6,36.6 914.6,45.8 919.2,55 923.5,64.2 927.4,73.4 930.9,82.7 934.1,91.9 936.9,101.1 939.4,110.3 941.4,119.5 943.1,128.8 944.5,138 945.4,147.2 946,156.4 946.3,165.6 946.1,174.9 945.6,184.1 944.7,193.3 943.5,202.5 941.9,211.7 939.9,220.9 937.6,230.2 934.9,239.4 931.8,248.6 928.3,257.8 924.5,267 920.3,276.3 915.8,285.5 910.9,294.7 905.6,303.9 899.9,313.1 893.9,322.4 887.5,331.6 880.8,340.8 873.7,350 866.2,359.2 858.3,368.5 850.1,377.7 841.5,386.9 846.5,386.9 855.1,377.7 863.4,368.5 871.3,359.2 878.8,350 885.9,340.8 892.7,331.6 899.1,322.4 905.2,313.1 910.9,303.9 916.2,294.7 921.1,285.5 925.7,276.3 929.9,267 933.8,257.8 937.3,248.6 940.4,239.4 943.1,230.2 945.5,220.9 947.5,211.7 949.1,202.5 950.4,193.3 951.3,184.1 951.9,174.9 952,165.6 951.8,156.4 951.3,147.2 950.3,138 949,128.8 947.4,119.5 945.3,110.3 942.9,101.1 940.1,91.9 937,82.7 933.5,73.4 929.6,64.2 925.4,55 920.8,45.8 915.8,36.6 910.4,27.3 904.7,18.1 898.7,8.9Z" fill="#4464a8"/>
<path d="M905.6,8.9 911.6,18.1 917.3,27.3 922.6,36.6 927.5,45.8 932.1,55 936.3,64.2 940.2,73.4 943.6,82.7 946.7,91.9 949.5,101.1 951.8,110.3 953.8,119.5 955.5,128.8 956.7,138 957.6,147.2 958.2,156.4 958.3,165.6 958.1,174.9 957.5,184.1 956.6,193.3 955.3,202.5 953.6,211.7 951.6,220.9 949.2,230.2 946.4,239.4 943.2,248.6 939.7,257.8 935.8,267 931.6,276.3 927,285.5 922,294.7 916.6,303.9 910.9,313.1 904.8,322.4 898.4,331.6 891.6,340.8 884.4,350 876.8,359.2 868.9,368.5 860.6,377.7 851.9,386.9 856.5,386.9 865.2,377.7 873.5,368.5 881.5,359.2 889.1,350 896.3,340.8 903.1,331.6 909.6,322.4 915.7,313.1 921.5,303.9 926.9,294.7 931.9,285.5 936.5,276.3 940.8,267 944.7,257.8 948.3,248.6 951.4,239.4 954.2,230.2 956.7,220.9 958.8,211.7 960.5,202.5 961.8,193.3 962.8,184.1 963.4,174.9 963.6,165.6 963.5,156.4 963,147.2 962.1,138 960.9,128.8 959.3,119.5 957.3,110.3 955,101.1 952.3,91.9 949.2,82.7 945.7,73.4 941.9,64.2 937.8,55 933.2,45.8 928.3,36.6 923,27.3 917.4,18.1 911.4,8.9Z" fill="#f1c984"/>
<path d="M911.4,8.9 917.4,18.1 923,27.3 928.3,36.6 933.2,45.8 937.8,55 941.9,64.2 945.7,73.4 949.2,82.7 952.3,91.9 955,101.1 957.3,110.3 959.3,119.5 960.9,128.8 962.1,138 963,147.2 963.5,156.4 963.6,165.6 963.4,174.9 962.8,184.1 961.8,193.3 960.5,202.5 958.8,211.7 956.7,220.9 954.2,230.2 951.4,239.4 948.3,248.6 944.7,257.8 940.8,267 936.5,276.3 931.9,285.5 926.9,294.7 921.5,303.9 915.7,313.1 909.6,322.4 903.1,331.6 896.3,340.8 889.1,350 881.5,359.2 873.5,368.5 865.2,377.7 856.5,386.9 861.1,386.9 869.8,377.7 878.1,368.5 886.1,359.2 893.7,350 901,340.8 907.9,331.6 914.4,322.4 920.5,313.1 926.3,303.9 931.7,294.7 936.8,285.5 941.5,276.3 945.8,267 949.7,257.8 953.3,248.6 956.5,239.4 959.3,230.2 961.8,220.9 963.9,211.7 965.6,202.5 967,193.3 968,184.1 968.6,174.9 968.9,165.6 968.8,156.4 968.3,147.2 967.5,138 966.3,128.8 964.7,119.5 962.8,110.3 960.5,101.1 957.8,91.9 954.7,82.7 951.3,73.4 947.5,64.2 943.4,55 938.9,45.8 934,36.6 928.8,27.3 923.1,18.1 917.1,8.9Z" fill="#ebaa5e"/>
<path d="M917.1,8.9 923.1,18.1 928.8,27.3 934,36.6 938.9,45.8 943.4,55 947.5,64.2 951.3,73.4 954.7,82.7 957.8,91.9 960.5,101.1 962.8,110.3 964.7,119.5 966.3,128.8 967.5,138 968.3,147.2 968.8,156.4 968.9,165.6 968.6,174.9 968,184.1 967,193.3 965.6,202.5 963.9,211.7 961.8,220.9 959.3,230.2 956.5,239.4 953.3,248.6 949.7,257.8 945.8,267 941.5,276.3 936.8,285.5 931.7,294.7 926.3,303.9 920.5,313.1 914.4,322.4 907.9,331.6 901,340.8 893.7,350 886.1,359.2 878.1,368.5 869.8,377.7 861.1,386.9 865.6,386.9 874.4,377.7 882.8,368.5 890.8,359.2 898.4,350 905.7,340.8 912.6,331.6 919.2,322.4 925.4,313.1 931.2,303.9 936.6,294.7 941.7,285.5 946.4,276.3 950.7,267 954.7,257.8 958.3,248.6 961.5,239.4 964.4,230.2 966.9,220.9 969,211.7 970.8,202.5 972.2,193.3 973.2,184.1 973.9,174.9 974.2,165.6 974.1,156.4 973.7,147.2 972.9,138 971.7,128.8 970.1,119.5 968.2,110.3 966,101.1 963.3,91.9 960.3,82.7 956.9,73.4 953.2,64.2 949,55 944.6,45.8 939.7,36.6 934.5,27.3 928.9,18.1 922.9,8.9Z" fill="#cd9a65"/>
<path d="M922.9,8.9 928.9,18.1 934.5,27.3 939.7,36.6 944.6,45.8 949,55 953.2,64.2 956.9,73.4 960.3,82.7 963.3,91.9 966,101.1 968.2,110.3 970.1,119.5 971.7,128.8 972.9,138 973.7,147.2 974.1,156.4 974.2,165.6 973.9,174.9 973.2,184.1 972.2,193.3 970.8,202.5 969,211.7 966.9,220.9 964.4,230.2 961.5,239.4 958.3,248.6 954.7,257.8 950.7,267 946.4,276.3 941.7,285.5 936.6,294.7 931.2,303.9 925.4,313.1 919.2,322.4 912.6,331.6 905.7,340.8 898.4,350 890.8,359.2 882.8,368.5 874.4,377.7 865.6,386.9 870.2,386.9 879,377.7 887.4,368.5 895.4,359.2 903.1,350 910.4,340.8 917.4,331.6 924,322.4 930.2,313.1 936,303.9 941.5,294.7 946.6,285.5 951.3,276.3 955.7,267 959.7,257.8 963.3,248.6 966.6,239.4 969.5,230.2 972,220.9 974.2,211.7 976,202.5 977.4,193.3 978.5,184.1 979.1,174.9 979.5,165.6 979.4,156.4 979,147.2 978.2,138 977.1,128.8 975.6,119.5 973.7,110.3 971.4,101.1 968.8,91.9 965.8,82.7 962.5,73.4 958.8,64.2 954.7,55 950.2,45.8 945.4,36.6 940.2,27.3 934.7,18.1 928.7,8.9Z" fill="#8b8187"/>
<path d="M928.7,8.9 934.7,18.1 940.2,27.3 945.4,36.6 950.2,45.8 954.7,55 958.8,64.2 962.5,73.4 965.8,82.7 968.8,91.9 971.4,101.1 973.7,110.3 975.6,119.5 977.1,128.8 978.2,138 979,147.2 979.4,156.4 979.5,165.6 979.1,174.9 978.5,184.1 977.4,193.3 976,202.5 974.2,211.7 972,220.9 969.5,230.2 966.6,239.4 963.3,248.6 959.7,257.8 955.7,267 951.3,276.3 946.6,285.5 941.5,294.7 936,303.9 930.2,313.1 924,322.4 917.4,331.6 910.4,340.8 903.1,350 895.4,359.2 887.4,368.5 879,377.7 870.2,386.9 875.2,386.9 884,377.7 892.5,368.5 900.5,359.2 908.2,350 915.6,340.8 922.6,331.6 929.2,322.4 935.4,313.1 941.3,303.9 946.8,294.7 951.9,285.5 956.7,276.3 961.1,267 965.1,257.8 968.8,248.6 972.1,239.4 975,230.2 977.6,220.9 979.8,211.7 981.6,202.5 983.1,193.3 984.2,184.1 984.9,174.9 985.2,165.6 985.2,156.4 984.9,147.2 984.1,138 983,128.8 981.5,119.5 979.7,110.3 977.4,101.1 974.9,91.9 971.9,82.7 968.6,73.4 964.9,64.2 960.8,55 956.4,45.8 951.6,36.6 946.5,27.3 941,18.1 935.1,8.9Z" fill="#4464a8"/>
<path d="M942,8.9 947.8,18.1 953.3,27.3 958.4,36.6 963.2,45.8 967.6,55 971.6,64.2 975.2,73.4 978.5,82.7 981.4,91.9 984,101.1 986.2,110.3 988,119.5 989.4,128.8 990.5,138 991.2,147.2 991.6,156.4 991.5,165.6 991.2,174.9 990.4,184.1 989.3,193.3 987.8,202.5 985.9,211.7 983.7,220.9 981.1,230.2 978.1,239.4 974.8,248.6 971.1,257.8 967,267 962.6,276.3 957.8,285.5 952.6,294.7 947,303.9 941.1,313.1 934.9,322.4 928.2,331.6 921.2,340.8 913.8,350 906.1,359.2 898,368.5 889.5,377.7 880.6,386.9 885.2,386.9 894.1,377.7 902.6,368.5 910.7,359.2 918.5,350 925.9,340.8 933,331.6 939.6,322.4 945.9,313.1 951.9,303.9 957.5,294.7 962.7,285.5 967.5,276.3 972,267 976.1,257.8 979.8,248.6 983.2,239.4 986.2,230.2 988.8,220.9 991,211.7 992.9,202.5 994.5,193.3 995.6,184.1 996.4,174.9 996.8,165.6 996.9,156.4 996.6,147.2 995.9,138 994.8,128.8 993.4,119.5 991.6,110.3 989.5,101.1 987,91.9 984.1,82.7 980.8,73.4 977.2,64.2 973.2,55 968.9,45.8 964.1,36.6 959,27.3 953.6,18.1 947.8,8.9Z" fill="#f1c984"/>
<path d="M947.8,8.9 953.6,18.1 959,27.3 964.1,36.6 968.9,45.8 973.2,55 977.2,64.2 980.8,73.4 984.1,82.7 987,91.9 989.5,101.1 991.6,110.3 993.4,119.5 994.8,128.8 995.9,138 996.6,147.2 996.9,156.4 996.8,165.6 996.4,174.9 995.6,184.1 994.5,193.3 992.9,202.5 991,211.7 988.8,220.9 986.2,230.2 983.2,239.4 979.8,248.6 976.1,257.8 972,267 967.5,276.3 962.7,285.5 957.5,294.7 951.9,303.9 945.9,313.1 939.6,322.4 933,331.6 925.9,340.8 918.5,350 910.7,359.2 902.6,368.5 894.1,377.7 885.2,386.9 889.8,386.9 898.7,377.7 907.2,368.5 915.4,359.2 923.2,350 930.6,340.8 937.7,331.6 944.4,322.4 950.8,313.1 956.7,303.9 962.3,294.7 967.6,285.5 972.4,276.3 976.9,267 981,257.8 984.8,248.6 988.2,239.4 991.2,230.2 993.9,220.9 996.2,211.7 998.1,202.5 999.7,193.3 1000.8,184.1 1001.7,174.9 1002.1,165.6 1002.2,156.4 1001.9,147.2 1001.3,138 1000.2,128.8 998.9,119.5 997.1,110.3 995,101.1 992.5,91.9 989.6,82.7 986.4,73.4 982.8,64.2 978.9,55 974.5,45.8 969.8,36.6 964.8,27.3 959.4,18.1 953.6,8.9Z" fill="#ebaa5e"/>
<path d="M953.6,8.9 959.4,18.1 964.8,27.3 969.8,36.6 974.5,45.8 978.9,55 982.8,64.2 986.4,73.4 989.6,82.7 992.5,91.9 995,101.1 997.1,110.3 998.9,119.5 1000.2,128.8 1001.3,138 1001.9,147.2 1002.2,156.4 1002.1,165.6 1001.7,174.9 1000.8,184.1 999.7,193.3 998.1,202.5 996.2,211.7 993.9,220.9 991.2,230.2 988.2,239.4 984.8,248.6 981,257.8 976.9,267 972.4,276.3 967.6,285.5 962.3,294.7 956.7,303.9 950.8,313.1 944.4,322.4 937.7,331.6 930.6,340.8 923.2,350 915.4,359.2 907.2,368.5 898.7,377.7 889.8,386.9 894.4,386.9 903.3,377.7 911.9,368.5 920.1,359.2 927.9,350 935.4,340.8 942.5,331.6 949.2,322.4 955.6,313.1 961.6,303.9 967.2,294.7 972.5,285.5 977.4,276.3 981.9,267 986,257.8 989.8,248.6 993.3,239.4 996.3,230.2 999,220.9 1001.3,211.7 1003.3,202.5 1004.9,193.3 1006.1,184.1 1006.9,174.9 1007.4,165.6 1007.5,156.4 1007.3,147.2 1006.6,138 1005.7,128.8 1004.3,119.5 1002.6,110.3 1000.5,101.1 998,91.9 995.2,82.7 992,73.4 988.4,64.2 984.5,55 980.2,45.8 975.6,36.6 970.5,27.3 965.1,18.1 959.3,8.9Z" fill="#cd9a65"/>
<path d="M959.3,8.9 965.1,18.1 970.5,27.3 975.6,36.6 980.2,45.8 984.5,55 988.4,64.2 992,73.4 995.2,82.7 998,91.9 1000.5,101.1 1002.6,110.3 1004.3,119.5 1005.7,128.8 1006.6,138 1007.3,147.2 1007.5,156.4 1007.4,165.6 1006.9,174.9 1006.1,184.1 1004.9,193.3 1003.3,202.5 1001.3,211.7 999,220.9 996.3,230.2 993.3,239.4 989.8,248.6 986,257.8 981.9,267 977.4,276.3 972.5,285.5 967.2,294.7 961.6,303.9 955.6,313.1 949.2,322.4 942.5,331.6 935.4,340.8 927.9,350 920.1,359.2 911.9,368.5 903.3,377.7 894.4,386.9 898.9,386.9 907.9,377.7 916.5,368.5 924.7,359.2 932.6,350 940.1,340.8 947.2,331.6 954,322.4 960.4,313.1 966.4,303.9 972.1,294.7 977.4,285.5 982.3,276.3 986.8,267 991,257.8 994.8,248.6 998.3,239.4 1001.4,230.2 1004.1,220.9 1006.5,211.7 1008.4,202.5 1010.1,193.3 1011.3,184.1 1012.2,174.9 1012.7,165.6 1012.8,156.4 1012.6,147.2 1012,138 1011.1,128.8 1009.7,119.5 1008,110.3 1006,101.1 1003.6,91.9 1000.8,82.7 997.6,73.4 994.1,64.2 990.2,55 985.9,45.8 981.3,36.6 976.3,27.3 970.9,18.1 965.1,8.9Z" fill="#8b8187"/>
<path d="M965.1,8.9 970.9,18.1 976.3,27.3 981.3,36.6 985.9,45.8 990.2,55 994.1,64.2 997.6,73.4 1000.8,82.7 1003.6,91.9 1006,101.1 1008,110.3 1009.7,119.5 1011.1,128.8 1012,138 1012.6,147.2 1012.8,156.4 1012.7,165.6 1012.2,174.9 1011.3,184.1 1010.1,193.3 1008.4,202.5 1006.5,211.7 1004.1,220.9 1001.4,230.2 998.3,239.4 994.8,248.6 991,257.8 986.8,267 982.3,276.3 977.4,285.5 972.1,294.7 966.4,303.9 960.4,313.1 954,322.4 947.2,331.6 940.1,340.8 932.6,350 924.7,359.2 916.5,368.5 907.9,377.7 898.9,386.9 903.9,386.9 912.9,377.7 921.5,368.5 929.8,359.2 937.7,350 945.2,340.8 952.4,331.6 959.2,322.4 965.6,313.1 971.7,303.9 977.4,294.7 982.7,285.5 987.7,276.3 992.2,267 996.5,257.8 1000.3,248.6 1003.8,239.4 1006.9,230.2 1009.7,220.9 1012.1,211.7 1014.1,202.5 1015.7,193.3 1017,184.1 1017.9,174.9 1018.5,165.6 1018.6,156.4 1018.4,147.2 1017.9,138 1017,128.8 1015.7,119.5 1014,110.3 1012,101.1 1009.6,91.9 1006.8,82.7 1003.7,73.4 1000.2,64.2 996.3,55 992.1,45.8 987.5,36.6 982.5,27.3 977.2,18.1 971.5,8.9Z" fill="#4464a8"/>
<path d="M978.4,8.9 984,18.1 989.3,27.3 994.3,36.6 998.8,45.8 1003,55 1006.9,64.2 1010.3,73.4 1013.4,82.7 1016.2,91.9 1018.5,101.1 1020.5,110.3 1022.1,119.5 1023.4,128.8 1024.3,138 1024.8,147.2 1025,156.4 1024.8,165.6 1024.2,174.9 1023.2,184.1 1021.9,193.3 1020.2,202.5 1018.2,211.7 1015.8,220.9 1013,230.2 1009.8,239.4 1006.3,248.6 1002.4,257.8 998.2,267 993.5,276.3 988.5,285.5 983.2,294.7 977.5,303.9 971.4,313.1 964.9,322.4 958.1,331.6 950.9,340.8 943.3,350 935.4,359.2 927.1,368.5 918.4,377.7 909.4,386.9 913.9,386.9 923,377.7 931.7,368.5 940,359.2 948,350 955.6,340.8 962.8,331.6 969.7,322.4 976.2,313.1 982.3,303.9 988,294.7 993.4,285.5 998.5,276.3 1003.1,267 1007.4,257.8 1011.3,248.6 1014.9,239.4 1018.1,230.2 1020.9,220.9 1023.3,211.7 1025.4,202.5 1027.1,193.3 1028.5,184.1 1029.4,174.9 1030,165.6 1030.3,156.4 1030.2,147.2 1029.7,138 1028.8,128.8 1027.6,119.5 1026,110.3 1024,101.1 1021.7,91.9 1019,82.7 1015.9,73.4 1012.5,64.2 1008.7,55 1004.5,45.8 1000,36.6 995.1,27.3 989.8,18.1 984.2,8.9Z" fill="#f1c984"/>
<path d="M984.2,8.9 989.8,18.1 995.1,27.3 1000,36.6 1004.5,45.8 1008.7,55 1012.5,64.2 1015.9,73.4 1019,82.7 1021.7,91.9 1024,101.1 1026,110.3 1027.6,119.5 1028.8,128.8 1029.7,138 1030.2,147.2 1030.3,156.4 1030,165.6 1029.4,174.9 1028.5,184.1 1027.1,193.3 1025.4,202.5 1023.3,211.7 1020.9,220.9 1018.1,230.2 1014.9,239.4 1011.3,248.6 1007.4,257.8 1003.1,267 998.5,276.3 993.4,285.5 988,294.7 982.3,303.9 976.2,313.1 969.7,322.4 962.8,331.6 955.6,340.8 948,350 940,359.2 931.7,368.5 923,377.7 913.9,386.9 918.5,386.9 927.6,377.7 936.3,368.5 944.7,359.2 952.7,350 960.3,340.8 967.6,331.6 974.5,322.4 981,313.1 987.1,303.9 992.9,294.7 998.3,285.5 1003.4,276.3 1008.1,267 1012.4,257.8 1016.3,248.6 1019.9,239.4 1023.1,230.2 1026,220.9 1028.5,211.7 1030.6,202.5 1032.3,193.3 1033.7,184.1 1034.7,174.9 1035.3,165.6 1035.6,156.4 1035.5,147.2 1035,138 1034.2,128.8 1033,119.5 1031.5,110.3 1029.5,101.1 1027.2,91.9 1024.5,82.7 1021.5,73.4 1018.1,64.2 1014.3,55 1010.2,45.8 1005.7,36.6 1000.8,27.3 995.6,18.1 990,8.9Z" fill="#ebaa5e"/>
<path d="M990,8.9 995.6,18.1 1000.8,27.3 1005.7,36.6 1010.2,45.8 1014.3,55 1018.1,64.2 1021.5,73.4 1024.5,82.7 1027.2,91.9 1029.5,101.1 1031.5,110.3 1033,119.5 1034.2,128.8 1035,138 1035.5,147.2 1035.6,156.4 1035.3,165.6 1034.7,174.9 1033.7,184.1 1032.3,193.3 1030.6,202.5 1028.5,211.7 1026,220.9 1023.1,230.2 1019.9,239.4 1016.3,248.6 1012.4,257.8 1008.1,267 1003.4,276.3 998.3,285.5 992.9,294.7 987.1,303.9 981,313.1 974.5,322.4 967.6,331.6 960.3,340.8 952.7,350 944.7,359.2 936.3,368.5 927.6,377.7 918.5,386.9 923.1,386.9 932.2,377.7 941,368.5 949.3,359.2 957.4,350 965,340.8 972.3,331.6 979.2,322.4 985.8,313.1 992,303.9 997.8,294.7 1003.2,285.5 1008.3,276.3 1013,267 1017.4,257.8 1021.4,248.6 1025,239.4 1028.2,230.2 1031.1,220.9 1033.6,211.7 1035.7,202.5 1037.5,193.3 1038.9,184.1 1040,174.9 1040.6,165.6 1040.9,156.4 1040.9,147.2 1040.4,138 1039.6,128.8 1038.5,119.5 1036.9,110.3 1035,101.1 1032.7,91.9 1030.1,82.7 1027.1,73.4 1023.7,64.2 1020,55 1015.9,45.8 1011.4,36.6 1006.5,27.3 1001.3,18.1 995.8,8.9Z" fill="#cd9a65"/>
<path d="M455.4,8.9 463.8,18.1 471.8,27.3 479.4,36.6 486.7,45.8 493.6,55 500.1,64.2 506.3,73.4 512.1,82.7 517.5,91.9 522.5,101.1 527.2,110.3 531.6,119.5 535.5,128.8 539.1,138 542.3,147.2 545.2,156.4 547.6,165.6 549.8,174.9 551.5,184.1 552.9,193.3 553.9,202.5 554.5,211.7 554.8,220.9 554.7,230.2 554.3,239.4 553.4,248.6 552.2,257.8 550.7,267 548.7,276.3 546.5,285.5 543.8,294.7 540.8,303.9 537.4,313.1 533.6,322.4 529.4,331.6 524.9,340.8 520.1,350 514.8,359.2 509.2,368.5 503.3,377.7 496.9,386.9" fill="none" stroke="rgba(50,32,5,0.55)" stroke-width="1.05"/>
<path d="M468.7,8.9 477,18.1 484.9,27.3 492.5,36.6 499.7,45.8 506.5,55 512.9,64.2 519,73.4 524.8,82.7 530.1,91.9 535.1,101.1 539.7,110.3 544,119.5 547.9,128.8 551.4,138 554.5,147.2 557.3,156.4 559.7,165.6 561.8,174.9 563.4,184.1 564.7,193.3 565.7,202.5 566.3,211.7 566.5,220.9 566.3,230.2 565.8,239.4 564.9,248.6 563.6,257.8 562,267 560,276.3 557.6,285.5 554.9,294.7 551.8,303.9 548.3,313.1 544.5,322.4 540.3,331.6 535.7,340.8 530.8,350 525.5,359.2 519.8,368.5 513.8,377.7 507.3,386.9" fill="none" stroke="rgba(50,32,5,0.55)" stroke-width="1.05"/>
<path d="M474.5,8.9 482.7,18.1 490.6,27.3 498.2,36.6 505.3,45.8 512.1,55 518.6,64.2 524.6,73.4 530.3,82.7 535.6,91.9 540.6,101.1 545.2,110.3 549.4,119.5 553.3,128.8 556.7,138 559.9,147.2 562.6,156.4 565,165.6 567,174.9 568.7,184.1 569.9,193.3 570.9,202.5 571.4,211.7 571.6,220.9 571.4,230.2 570.8,239.4 569.9,248.6 568.6,257.8 567,267 564.9,276.3 562.5,285.5 559.8,294.7 556.6,303.9 553.1,313.1 549.3,322.4 545,331.6 540.4,340.8 535.5,350 530.1,359.2 524.4,368.5 518.4,377.7 511.9,386.9" fill="none" stroke="rgba(50,32,5,0.55)" stroke-width="1.05"/>
<path d="M480.3,8.9 488.5,18.1 496.4,27.3 503.9,36.6 511,45.8 517.8,55 524.2,64.2 530.2,73.4 535.9,82.7 541.2,91.9 546.1,101.1 550.6,110.3 554.8,119.5 558.7,128.8 562.1,138 565.2,147.2 567.9,156.4 570.3,165.6 572.3,174.9 573.9,184.1 575.1,193.3 576,202.5 576.5,211.7 576.7,220.9 576.5,230.2 575.9,239.4 574.9,248.6 573.6,257.8 571.9,267 569.9,276.3 567.4,285.5 564.6,294.7 561.5,303.9 558,313.1 554.1,322.4 549.8,331.6 545.2,340.8 540.2,350 534.8,359.2 529.1,368.5 523,377.7 516.5,386.9" fill="none" stroke="rgba(50,32,5,0.55)" stroke-width="1.05"/>
<path d="M486.1,8.9 494.3,18.1 502.1,27.3 509.6,36.6 516.7,45.8 523.4,55 529.8,64.2 535.8,73.4 541.4,82.7 546.7,91.9 551.6,101.1 556.1,110.3 560.3,119.5 564.1,128.8 567.5,138 570.6,147.2 573.3,156.4 575.6,165.6 577.5,174.9 579.1,184.1 580.3,193.3 581.2,202.5 581.7,211.7 581.8,220.9 581.5,230.2 580.9,239.4 579.9,248.6 578.6,257.8 576.9,267 574.8,276.3 572.3,285.5 569.5,294.7 566.3,303.9 562.8,313.1 558.8,322.4 554.5,331.6 549.9,340.8 544.8,350 539.5,359.2 533.7,368.5 527.6,377.7 521.1,386.9" fill="none" stroke="rgba(50,32,5,0.55)" stroke-width="1.05"/>
<path d="M491.9,8.9 500,18.1 507.8,27.3 515.3,36.6 522.4,45.8 529.1,55 535.4,64.2 541.4,73.4 547,82.7 552.2,91.9 557.1,101.1 561.6,110.3 565.7,119.5 569.5,128.8 572.9,138 575.9,147.2 578.6,156.4 580.9,165.6 582.8,174.9 584.3,184.1 585.5,193.3 586.4,202.5 586.8,211.7 586.9,220.9 586.6,230.2 586,239.4 585,248.6 583.6,257.8 581.8,267 579.7,276.3 577.2,285.5 574.4,294.7 571.2,303.9 567.6,313.1 563.6,322.4 559.3,331.6 554.6,340.8 549.5,350 544.1,359.2 538.3,368.5 532.2,377.7 525.6,386.9" fill="none" stroke="rgba(50,32,5,0.55)" stroke-width="1.05"/>
<path d="M505.1,8.9 513.2,18.1 520.9,27.3 528.3,36.6 535.3,45.8 542,55 548.2,64.2 554.1,73.4 559.7,82.7 564.8,91.9 569.6,101.1 574.1,110.3 578.1,119.5 581.8,128.8 585.2,138 588.1,147.2 590.7,156.4 592.9,165.6 594.8,174.9 596.3,184.1 597.4,193.3 598.2,202.5 598.5,211.7 598.6,220.9 598.2,230.2 597.5,239.4 596.4,248.6 595,257.8 593.2,267 591,276.3 588.4,285.5 585.5,294.7 582.2,303.9 578.5,313.1 574.5,322.4 570.1,331.6 565.4,340.8 560.2,350 554.8,359.2 548.9,368.5 542.7,377.7 536.1,386.9" fill="none" stroke="rgba(50,32,5,0.55)" stroke-width="1.05"/>
<path d="M510.9,8.9 519,18.1 526.7,27.3 534,36.6 541,45.8 547.6,55 553.8,64.2 559.7,73.4 565.2,82.7 570.4,91.9 575.1,101.1 579.5,110.3 583.6,119.5 587.2,128.8 590.5,138 593.5,147.2 596,156.4 598.2,165.6 600,174.9 601.5,184.1 602.6,193.3 603.3,202.5 603.7,211.7 603.7,220.9 603.3,230.2 602.6,239.4 601.4,248.6 600,257.8 598.1,267 595.9,276.3 593.3,285.5 590.4,294.7 587,303.9 583.4,313.1 579.3,322.4 574.9,331.6 570.1,340.8 564.9,350 559.4,359.2 553.5,368.5 547.3,377.7 540.6,386.9" fill="none" stroke="rgba(50,32,5,0.55)" stroke-width="1.05"/>
<path d="M516.7,8.9 524.7,18.1 532.4,27.3 539.7,36.6 546.7,45.8 553.2,55 559.5,64.2 565.3,73.4 570.8,82.7 575.9,91.9 580.6,101.1 585,110.3 589,119.5 592.6,128.8 595.9,138 598.8,147.2 601.3,156.4 603.5,165.6 605.3,174.9 606.7,184.1 607.8,193.3 608.5,202.5 608.8,211.7 608.8,220.9 608.4,230.2 607.6,239.4 606.5,248.6 604.9,257.8 603.1,267 600.8,276.3 598.2,285.5 595.2,294.7 591.9,303.9 588.2,313.1 584.1,322.4 579.6,331.6 574.8,340.8 569.6,350 564.1,359.2 558.1,368.5 551.9,377.7 545.2,386.9" fill="none" stroke="rgba(50,32,5,0.55)" stroke-width="1.05"/>
<path d="M522.5,8.9 530.5,18.1 538.1,27.3 545.4,36.6 552.3,45.8 558.9,55 565.1,64.2 570.9,73.4 576.3,82.7 581.4,91.9 586.1,101.1 590.5,110.3 594.4,119.5 598,128.8 601.3,138 604.2,147.2 606.7,156.4 608.8,165.6 610.6,174.9 612,184.1 613,193.3 613.7,202.5 614,211.7 613.9,220.9 613.5,230.2 612.6,239.4 611.5,248.6 609.9,257.8 608,267 605.8,276.3 603.1,285.5 600.1,294.7 596.7,303.9 593,313.1 588.9,322.4 584.4,331.6 579.5,340.8 574.3,350 568.7,359.2 562.8,368.5 556.5,377.7 549.8,386.9" fill="none" stroke="rgba(50,32,5,0.55)" stroke-width="1.05"/>
<path d="M528.3,8.9 536.3,18.1 543.9,27.3 551.1,36.6 558,45.8 564.5,55 570.7,64.2 576.5,73.4 581.9,82.7 586.9,91.9 591.6,101.1 595.9,110.3 599.9,119.5 603.4,128.8 606.7,138 609.5,147.2 612,156.4 614.1,165.6 615.8,174.9 617.2,184.1 618.2,193.3 618.8,202.5 619.1,211.7 619,220.9 618.5,230.2 617.7,239.4 616.5,248.6 614.9,257.8 613,267 610.7,276.3 608,285.5 605,294.7 601.6,303.9 597.8,313.1 593.6,322.4 589.1,331.6 584.3,340.8 579,350 573.4,359.2 567.4,368.5 561.1,377.7 554.3,386.9" fill="none" stroke="rgba(50,32,5,0.55)" stroke-width="1.05"/>
<path d="M541.5,8.9 549.4,18.1 557,27.3 564.2,36.6 571,45.8 577.4,55 583.5,64.2 589.2,73.4 594.6,82.7 599.5,91.9 604.2,101.1 608.4,110.3 612.3,119.5 615.8,128.8 618.9,138 621.7,147.2 624.1,156.4 626.1,165.6 627.8,174.9 629.1,184.1 630.1,193.3 630.6,202.5 630.8,211.7 630.7,220.9 630.1,230.2 629.2,239.4 628,248.6 626.3,257.8 624.3,267 621.9,276.3 619.2,285.5 616.1,294.7 612.6,303.9 608.8,313.1 604.6,322.4 600,331.6 595,340.8 589.7,350 584,359.2 578,368.5 571.6,377.7 564.8,386.9" fill="none" stroke="rgba(50,32,5,0.55)" stroke-width="1.05"/>
<path d="M547.3,8.9 555.2,18.1 562.7,27.3 569.9,36.6 576.6,45.8 583.1,55 589.1,64.2 594.8,73.4 600.1,82.7 605.1,91.9 609.7,101.1 613.9,110.3 617.7,119.5 621.2,128.8 624.3,138 627.1,147.2 629.4,156.4 631.4,165.6 633.1,174.9 634.4,184.1 635.3,193.3 635.8,202.5 636,211.7 635.8,220.9 635.2,230.2 634.3,239.4 633,248.6 631.3,257.8 629.3,267 626.9,276.3 624.1,285.5 621,294.7 617.4,303.9 613.6,313.1 609.3,322.4 604.7,331.6 599.7,340.8 594.4,350 588.7,359.2 582.6,368.5 576.2,377.7 569.3,386.9" fill="none" stroke="rgba(50,32,5,0.55)" stroke-width="1.05"/>
<path d="M553.1,8.9 560.9,18.1 568.4,27.3 575.6,36.6 582.3,45.8 588.7,55 594.7,64.2 600.4,73.4 605.7,82.7 610.6,91.9 615.1,101.1 619.3,110.3 623.2,119.5 626.6,128.8 629.7,138 632.4,147.2 634.7,156.4 636.7,165.6 638.3,174.9 639.6,184.1 640.5,193.3 641,202.5 641.1,211.7 640.9,220.9 640.3,230.2 639.3,239.4 638,248.6 636.3,257.8 634.2,267 631.8,276.3 629,285.5 625.8,294.7 622.3,303.9 618.4,313.1 614.1,322.4 609.5,331.6 604.5,340.8 599.1,350 593.3,359.2 587.2,368.5 580.8,377.7 573.9,386.9" fill="none" stroke="rgba(50,32,5,0.55)" stroke-width="1.05"/>
<path d="M558.9,8.9 566.7,18.1 574.2,27.3 581.3,36.6 588,45.8 594.4,55 600.3,64.2 606,73.4 611.2,82.7 616.1,91.9 620.6,101.1 624.8,110.3 628.6,119.5 632,128.8 635.1,138 637.7,147.2 640.1,156.4 642,165.6 643.6,174.9 644.8,184.1 645.7,193.3 646.1,202.5 646.2,211.7 646,220.9 645.4,230.2 644.4,239.4 643,248.6 641.3,257.8 639.2,267 636.7,276.3 633.9,285.5 630.7,294.7 627.1,303.9 623.2,313.1 618.9,322.4 614.2,331.6 609.2,340.8 603.8,350 598,359.2 591.9,368.5 585.4,377.7 578.5,386.9" fill="none" stroke="rgba(50,32,5,0.55)" stroke-width="1.05"/>
<path d="M564.7,8.9 572.5,18.1 579.9,27.3 587,36.6 593.7,45.8 600,55 606,64.2 611.6,73.4 616.8,82.7 621.6,91.9 626.1,101.1 630.3,110.3 634,119.5 637.4,128.8 640.4,138 643.1,147.2 645.4,156.4 647.3,165.6 648.8,174.9 650,184.1 650.8,193.3 651.3,202.5 651.4,211.7 651.1,220.9 650.4,230.2 649.4,239.4 648,248.6 646.3,257.8 644.1,267 641.6,276.3 638.8,285.5 635.6,294.7 632,303.9 628,313.1 623.7,322.4 619,331.6 613.9,340.8 608.5,350 602.7,359.2 596.5,368.5 590,377.7 583.1,386.9" fill="none" stroke="rgba(50,32,5,0.55)" stroke-width="1.05"/>
<path d="M577.9,8.9 585.6,18.1 593,27.3 600,36.6 606.6,45.8 612.9,55 618.8,64.2 624.3,73.4 629.5,82.7 634.3,91.9 638.7,101.1 642.7,110.3 646.4,119.5 649.8,128.8 652.7,138 655.3,147.2 657.5,156.4 659.4,165.6 660.9,174.9 662,184.1 662.7,193.3 663.1,202.5 663.1,211.7 662.8,220.9 662,230.2 660.9,239.4 659.5,248.6 657.7,257.8 655.5,267 652.9,276.3 650,285.5 646.7,294.7 643,303.9 639,313.1 634.6,322.4 629.8,331.6 624.7,340.8 619.2,350 613.3,359.2 607.1,368.5 600.5,377.7 593.5,386.9" fill="none" stroke="rgba(50,32,5,0.55)" stroke-width="1.05"/>
<path d="M583.7,8.9 591.4,18.1 598.7,27.3 605.7,36.6 612.3,45.8 618.5,55 624.4,64.2 629.9,73.4 635,82.7 639.8,91.9 644.2,101.1 648.2,110.3 651.9,119.5 655.2,128.8 658.1,138 660.6,147.2 662.8,156.4 664.7,165.6 666.1,174.9 667.2,184.1 667.9,193.3 668.3,202.5 668.2,211.7 667.9,220.9 667.1,230.2 666,239.4 664.5,248.6 662.6,257.8 660.4,267 657.8,276.3 654.9,285.5 651.5,294.7 647.9,303.9 643.8,313.1 639.4,322.4 634.6,331.6 629.4,340.8 623.9,350 618,359.2 611.7,368.5 605.1,377.7 598.1,386.9" fill="none" stroke="rgba(50,32,5,0.55)" stroke-width="1.05"/>
<path d="M589.5,8.9 597.2,18.1 604.5,27.3 611.4,36.6 618,45.8 624.2,55 630,64.2 635.5,73.4 640.6,82.7 645.3,91.9 649.7,101.1 653.7,110.3 657.3,119.5 660.6,128.8 663.5,138 666,147.2 668.1,156.4 669.9,165.6 671.4,174.9 672.4,184.1 673.1,193.3 673.4,202.5 673.4,211.7 673,220.9 672.2,230.2 671,239.4 669.5,248.6 667.6,257.8 665.4,267 662.8,276.3 659.8,285.5 656.4,294.7 652.7,303.9 648.6,313.1 644.1,322.4 639.3,331.6 634.1,340.8 628.6,350 622.6,359.2 616.3,368.5 609.7,377.7 602.6,386.9" fill="none" stroke="rgba(50,32,5,0.55)" stroke-width="1.05"/>
<path d="M595.3,8.9 602.9,18.1 610.2,27.3 617.1,36.6 623.7,45.8 629.8,55 635.6,64.2 641.1,73.4 646.1,82.7 650.8,91.9 655.2,101.1 659.1,110.3 662.7,119.5 666,128.8 668.8,138 671.3,147.2 673.5,156.4 675.2,165.6 676.6,174.9 677.6,184.1 678.3,193.3 678.6,202.5 678.5,211.7 678.1,220.9 677.3,230.2 676.1,239.4 674.5,248.6 672.6,257.8 670.3,267 667.7,276.3 664.7,285.5 661.3,294.7 657.5,303.9 653.4,313.1 648.9,322.4 644.1,331.6 638.8,340.8 633.2,350 627.3,359.2 621,368.5 614.3,377.7 607.2,386.9" fill="none" stroke="rgba(50,32,5,0.55)" stroke-width="1.05"/>
<path d="M601.1,8.9 608.7,18.1 615.9,27.3 622.8,36.6 629.3,45.8 635.5,55 641.2,64.2 646.7,73.4 651.7,82.7 656.4,91.9 660.7,101.1 664.6,110.3 668.2,119.5 671.4,128.8 674.2,138 676.7,147.2 678.8,156.4 680.5,165.6 681.9,174.9 682.9,184.1 683.5,193.3 683.8,202.5 683.7,211.7 683.2,220.9 682.3,230.2 681.1,239.4 679.6,248.6 677.6,257.8 675.3,267 672.6,276.3 669.6,285.5 666.2,294.7 662.4,303.9 658.2,313.1 653.7,322.4 648.8,331.6 643.6,340.8 637.9,350 631.9,359.2 625.6,368.5 618.9,377.7 611.8,386.9" fill="none" stroke="rgba(50,32,5,0.55)" stroke-width="1.05"/>
<path d="M614.3,8.9 621.9,18.1 629,27.3 635.8,36.6 642.3,45.8 648.4,55 654.1,64.2 659.4,73.4 664.4,82.7 669,91.9 673.2,101.1 677.1,110.3 680.6,119.5 683.7,128.8 686.5,138 688.9,147.2 690.9,156.4 692.6,165.6 693.9,174.9 694.8,184.1 695.4,193.3 695.6,202.5 695.4,211.7 694.8,220.9 693.9,230.2 692.7,239.4 691,248.6 689,257.8 686.6,267 683.9,276.3 680.8,285.5 677.3,294.7 673.4,303.9 669.2,313.1 664.6,322.4 659.7,331.6 654.3,340.8 648.6,350 642.6,359.2 636.2,368.5 629.4,377.7 622.2,386.9" fill="none" stroke="rgba(50,32,5,0.55)" stroke-width="1.05"/>
<path d="M620.1,8.9 627.6,18.1 634.8,27.3 641.5,36.6 648,45.8 654,55 659.7,64.2 665,73.4 669.9,82.7 674.5,91.9 678.7,101.1 682.6,110.3 686,119.5 689.1,128.8 691.9,138 694.2,147.2 696.2,156.4 697.9,165.6 699.1,174.9 700,184.1 700.6,193.3 700.7,202.5 700.5,211.7 700,220.9 699,230.2 697.7,239.4 696,248.6 694,257.8 691.6,267 688.8,276.3 685.6,285.5 682.1,294.7 678.3,303.9 674,313.1 669.4,322.4 664.4,331.6 659.1,340.8 653.3,350 647.2,359.2 640.8,368.5 634,377.7 626.8,386.9" fill="none" stroke="rgba(50,32,5,0.55)" stroke-width="1.05"/>
<path d="M625.9,8.9 633.4,18.1 640.5,27.3 647.2,36.6 653.6,45.8 659.6,55 665.3,64.2 670.6,73.4 675.5,82.7 680,91.9 684.2,101.1 688,110.3 691.5,119.5 694.5,128.8 697.2,138 699.6,147.2 701.6,156.4 703.2,165.6 704.4,174.9 705.3,184.1 705.8,193.3 705.9,202.5 705.7,211.7 705.1,220.9 704.1,230.2 702.8,239.4 701,248.6 699,257.8 696.5,267 693.7,276.3 690.5,285.5 687,294.7 683.1,303.9 678.8,313.1 674.2,322.4 669.2,331.6 663.8,340.8 658,350 651.9,359.2 645.4,368.5 638.6,377.7 631.3,386.9" fill="none" stroke="rgba(50,32,5,0.55)" stroke-width="1.05"/>
<path d="M631.7,8.9 639.1,18.1 646.2,27.3 653,36.6 659.3,45.8 665.3,55 670.9,64.2 676.2,73.4 681,82.7 685.6,91.9 689.7,101.1 693.5,110.3 696.9,119.5 699.9,128.8 702.6,138 704.9,147.2 706.9,156.4 708.4,165.6 709.7,174.9 710.5,184.1 711,193.3 711.1,202.5 710.8,211.7 710.2,220.9 709.2,230.2 707.8,239.4 706.1,248.6 704,257.8 701.5,267 698.7,276.3 695.4,285.5 691.9,294.7 687.9,303.9 683.6,313.1 678.9,322.4 673.9,331.6 668.5,340.8 662.7,350 656.6,359.2 650,368.5 643.2,377.7 635.9,386.9" fill="none" stroke="rgba(50,32,5,0.55)" stroke-width="1.05"/>
<path d="M637.5,8.9 644.9,18.1 652,27.3 658.7,36.6 665,45.8 670.9,55 676.5,64.2 681.7,73.4 686.6,82.7 691.1,91.9 695.2,101.1 699,110.3 702.3,119.5 705.4,128.8 708,138 710.3,147.2 712.2,156.4 713.7,165.6 714.9,174.9 715.7,184.1 716.2,193.3 716.2,202.5 715.9,211.7 715.3,220.9 714.2,230.2 712.8,239.4 711.1,248.6 708.9,257.8 706.4,267 703.6,276.3 700.3,285.5 696.7,294.7 692.8,303.9 688.4,313.1 683.7,322.4 678.7,331.6 673.2,340.8 667.4,350 661.2,359.2 654.7,368.5 647.8,377.7 640.5,386.9" fill="none" stroke="rgba(50,32,5,0.55)" stroke-width="1.05"/>
<path d="M650.7,8.9 658.1,18.1 665.1,27.3 671.7,36.6 677.9,45.8 683.8,55 689.3,64.2 694.5,73.4 699.3,82.7 703.7,91.9 707.8,101.1 711.4,110.3 714.7,119.5 717.7,128.8 720.3,138 722.5,147.2 724.3,156.4 725.8,165.6 726.9,174.9 727.7,184.1 728,193.3 728,202.5 727.7,211.7 726.9,220.9 725.8,230.2 724.4,239.4 722.5,248.6 720.3,257.8 717.8,267 714.8,276.3 711.5,285.5 707.9,294.7 703.8,303.9 699.4,313.1 694.6,322.4 689.5,331.6 684,340.8 678.1,350 671.9,359.2 665.2,368.5 658.3,377.7 650.9,386.9" fill="none" stroke="rgba(50,32,5,0.55)" stroke-width="1.05"/>
<path d="M656.5,8.9 663.8,18.1 670.8,27.3 677.4,36.6 683.6,45.8 689.5,55 695,64.2 700.1,73.4 704.8,82.7 709.2,91.9 713.2,101.1 716.9,110.3 720.2,119.5 723.1,128.8 725.6,138 727.8,147.2 729.6,156.4 731.1,165.6 732.2,174.9 732.9,184.1 733.2,193.3 733.2,202.5 732.8,211.7 732,220.9 730.9,230.2 729.4,239.4 727.6,248.6 725.3,257.8 722.7,267 719.8,276.3 716.4,285.5 712.7,294.7 708.7,303.9 704.2,313.1 699.4,322.4 694.2,331.6 688.7,340.8 682.8,350 676.5,359.2 669.9,368.5 662.9,377.7 655.5,386.9" fill="none" stroke="rgba(50,32,5,0.55)" stroke-width="1.05"/>
<path d="M662.3,8.9 669.6,18.1 676.5,27.3 683.1,36.6 689.3,45.8 695.1,55 700.6,64.2 705.7,73.4 710.4,82.7 714.8,91.9 718.7,101.1 722.4,110.3 725.6,119.5 728.5,128.8 731,138 733.2,147.2 735,156.4 736.4,165.6 737.4,174.9 738.1,184.1 738.4,193.3 738.4,202.5 737.9,211.7 737.2,220.9 736,230.2 734.5,239.4 732.6,248.6 730.3,257.8 727.7,267 724.7,276.3 721.3,285.5 717.6,294.7 713.5,303.9 709,313.1 704.2,322.4 699,331.6 693.4,340.8 687.5,350 681.2,359.2 674.5,368.5 667.5,377.7 660.1,386.9" fill="none" stroke="rgba(50,32,5,0.55)" stroke-width="1.05"/>
<path d="M668.1,8.9 675.4,18.1 682.3,27.3 688.8,36.6 695,45.8 700.8,55 706.2,64.2 711.3,73.4 716,82.7 720.3,91.9 724.2,101.1 727.8,110.3 731.1,119.5 733.9,128.8 736.4,138 738.5,147.2 740.3,156.4 741.7,165.6 742.7,174.9 743.3,184.1 743.6,193.3 743.5,202.5 743.1,211.7 742.3,220.9 741.1,230.2 739.5,239.4 737.6,248.6 735.3,257.8 732.6,267 729.6,276.3 726.2,285.5 722.5,294.7 718.3,303.9 713.8,313.1 709,322.4 703.7,331.6 698.1,340.8 692.2,350 685.8,359.2 679.1,368.5 672.1,377.7 664.6,386.9" fill="none" stroke="rgba(50,32,5,0.55)" stroke-width="1.05"/>
<path d="M673.9,8.9 681.1,18.1 688,27.3 694.5,36.6 700.6,45.8 706.4,55 711.8,64.2 716.8,73.4 721.5,82.7 725.8,91.9 729.7,101.1 733.3,110.3 736.5,119.5 739.3,128.8 741.8,138 743.9,147.2 745.6,156.4 746.9,165.6 747.9,174.9 748.6,184.1 748.8,193.3 748.7,202.5 748.2,211.7 747.4,220.9 746.1,230.2 744.6,239.4 742.6,248.6 740.3,257.8 737.6,267 734.5,276.3 731.1,285.5 727.3,294.7 723.2,303.9 718.6,313.1 713.8,322.4 708.5,331.6 702.9,340.8 696.9,350 690.5,359.2 683.8,368.5 676.7,377.7 669.2,386.9" fill="none" stroke="rgba(50,32,5,0.55)" stroke-width="1.05"/>
<path d="M687.1,8.9 694.3,18.1 701.1,27.3 707.5,36.6 713.6,45.8 719.3,55 724.6,64.2 729.6,73.4 734.2,82.7 738.4,91.9 742.3,101.1 745.8,110.3 748.9,119.5 751.7,128.8 754.1,138 756.1,147.2 757.7,156.4 759,165.6 759.9,174.9 760.5,184.1 760.7,193.3 760.5,202.5 759.9,211.7 759,220.9 757.7,230.2 756.1,239.4 754.1,248.6 751.7,257.8 748.9,267 745.8,276.3 742.3,285.5 738.4,294.7 734.2,303.9 729.6,313.1 724.7,322.4 719.3,331.6 713.6,340.8 707.6,350 701.1,359.2 694.3,368.5 687.2,377.7 679.6,386.9" fill="none" stroke="rgba(50,32,5,0.55)" stroke-width="1.05"/>
<path d="M692.9,8.9 700.1,18.1 706.8,27.3 713.2,36.6 719.3,45.8 724.9,55 730.2,64.2 735.2,73.4 739.7,82.7 743.9,91.9 747.8,101.1 751.2,110.3 754.3,119.5 757.1,128.8 759.4,138 761.4,147.2 763,156.4 764.3,165.6 765.2,174.9 765.7,184.1 765.9,193.3 765.7,202.5 765.1,211.7 764.1,220.9 762.8,230.2 761.1,239.4 759.1,248.6 756.7,257.8 753.9,267 750.7,276.3 747.2,285.5 743.3,294.7 739.1,303.9 734.4,313.1 729.4,322.4 724.1,331.6 718.4,340.8 712.3,350 705.8,359.2 699,368.5 691.8,377.7 684.2,386.9" fill="none" stroke="rgba(50,32,5,0.55)" stroke-width="1.05"/>
<path d="M698.7,8.9 705.8,18.1 712.6,27.3 718.9,36.6 724.9,45.8 730.6,55 735.9,64.2 740.8,73.4 745.3,82.7 749.5,91.9 753.3,101.1 756.7,110.3 759.8,119.5 762.5,128.8 764.8,138 766.8,147.2 768.4,156.4 769.6,165.6 770.5,174.9 770.9,184.1 771.1,193.3 770.8,202.5 770.2,211.7 769.2,220.9 767.9,230.2 766.2,239.4 764.1,248.6 761.7,257.8 758.8,267 755.7,276.3 752.1,285.5 748.2,294.7 743.9,303.9 739.2,313.1 734.2,322.4 728.8,331.6 723.1,340.8 717,350 710.5,359.2 703.6,368.5 696.4,377.7 688.8,386.9" fill="none" stroke="rgba(50,32,5,0.55)" stroke-width="1.05"/>
<path d="M704.5,8.9 711.6,18.1 718.3,27.3 724.6,36.6 730.6,45.8 736.2,55 741.5,64.2 746.3,73.4 750.9,82.7 755,91.9 758.8,101.1 762.2,110.3 765.2,119.5 767.9,128.8 770.2,138 772.1,147.2 773.7,156.4 774.9,165.6 775.7,174.9 776.2,184.1 776.3,193.3 776,202.5 775.4,211.7 774.4,220.9 773,230.2 771.2,239.4 769.1,248.6 766.6,257.8 763.8,267 760.6,276.3 757,285.5 753.1,294.7 748.7,303.9 744.1,313.1 739,322.4 733.6,331.6 727.8,340.8 721.6,350 715.1,359.2 708.2,368.5 701,377.7 693.3,386.9" fill="none" stroke="rgba(50,32,5,0.55)" stroke-width="1.05"/>
<path d="M710.3,8.9 717.3,18.1 724,27.3 730.3,36.6 736.3,45.8 741.9,55 747.1,64.2 751.9,73.4 756.4,82.7 760.5,91.9 764.3,101.1 767.6,110.3 770.6,119.5 773.3,128.8 775.6,138 777.5,147.2 779,156.4 780.2,165.6 781,174.9 781.4,184.1 781.5,193.3 781.2,202.5 780.5,211.7 779.5,220.9 778.1,230.2 776.3,239.4 774.1,248.6 771.6,257.8 768.8,267 765.5,276.3 761.9,285.5 757.9,294.7 753.6,303.9 748.9,313.1 743.8,322.4 738.3,331.6 732.5,340.8 726.3,350 719.8,359.2 712.9,368.5 705.6,377.7 697.9,386.9" fill="none" stroke="rgba(50,32,5,0.55)" stroke-width="1.05"/>
<path d="M723.5,8.9 730.5,18.1 737.1,27.3 743.4,36.6 749.3,45.8 754.8,55 759.9,64.2 764.7,73.4 769.1,82.7 773.1,91.9 776.8,101.1 780.1,110.3 783.1,119.5 785.6,128.8 787.8,138 789.7,147.2 791.1,156.4 792.2,165.6 793,174.9 793.3,184.1 793.3,193.3 793,202.5 792.2,211.7 791.1,220.9 789.6,230.2 787.8,239.4 785.6,248.6 783,257.8 780.1,267 776.8,276.3 773.1,285.5 769,294.7 764.6,303.9 759.8,313.1 754.7,322.4 749.2,331.6 743.3,340.8 737,350 730.4,359.2 723.4,368.5 716.1,377.7 708.4,386.9" fill="none" stroke="rgba(50,32,5,0.55)" stroke-width="1.05"/>
<path d="M729.3,8.9 736.3,18.1 742.9,27.3 749.1,36.6 754.9,45.8 760.4,55 765.5,64.2 770.3,73.4 774.7,82.7 778.7,91.9 782.3,101.1 785.6,110.3 788.5,119.5 791,128.8 793.2,138 795,147.2 796.5,156.4 797.5,165.6 798.2,174.9 798.6,184.1 798.5,193.3 798.1,202.5 797.4,211.7 796.2,220.9 794.7,230.2 792.9,239.4 790.6,248.6 788,257.8 785,267 781.7,276.3 778,285.5 773.9,294.7 769.5,303.9 764.7,313.1 759.5,322.4 753.9,331.6 748,340.8 741.7,350 735.1,359.2 728.1,368.5 720.7,377.7 712.9,386.9" fill="none" stroke="rgba(50,32,5,0.55)" stroke-width="1.05"/>
<path d="M735.1,8.9 742,18.1 748.6,27.3 754.8,36.6 760.6,45.8 766.1,55 771.1,64.2 775.9,73.4 780.2,82.7 784.2,91.9 787.8,101.1 791.1,110.3 793.9,119.5 796.4,128.8 798.6,138 800.4,147.2 801.8,156.4 802.8,165.6 803.5,174.9 803.8,184.1 803.7,193.3 803.3,202.5 802.5,211.7 801.3,220.9 799.8,230.2 797.9,239.4 795.6,248.6 793,257.8 790,267 786.6,276.3 782.9,285.5 778.8,294.7 774.3,303.9 769.5,313.1 764.3,322.4 758.7,331.6 752.7,340.8 746.4,350 739.7,359.2 732.7,368.5 725.3,377.7 717.5,386.9" fill="none" stroke="rgba(50,32,5,0.55)" stroke-width="1.05"/>
<path d="M740.9,8.9 747.8,18.1 754.3,27.3 760.5,36.6 766.3,45.8 771.7,55 776.8,64.2 781.4,73.4 785.8,82.7 789.7,91.9 793.3,101.1 796.5,110.3 799.4,119.5 801.8,128.8 804,138 805.7,147.2 807.1,156.4 808.1,165.6 808.7,174.9 809,184.1 808.9,193.3 808.5,202.5 807.6,211.7 806.4,220.9 804.9,230.2 803,239.4 800.7,248.6 798,257.8 795,267 791.6,276.3 787.8,285.5 783.6,294.7 779.1,303.9 774.3,313.1 769,322.4 763.4,331.6 757.5,340.8 751.1,350 744.4,359.2 737.3,368.5 729.9,377.7 722.1,386.9" fill="none" stroke="rgba(50,32,5,0.55)" stroke-width="1.05"/>
<path d="M746.7,8.9 753.6,18.1 760.1,27.3 766.2,36.6 772,45.8 777.3,55 782.4,64.2 787,73.4 791.3,82.7 795.2,91.9 798.8,101.1 802,110.3 804.8,119.5 807.3,128.8 809.3,138 811.1,147.2 812.4,156.4 813.4,165.6 814,174.9 814.2,184.1 814.1,193.3 813.6,202.5 812.8,211.7 811.6,220.9 810,230.2 808,239.4 805.7,248.6 803,257.8 799.9,267 796.5,276.3 792.7,285.5 788.5,294.7 784,303.9 779.1,313.1 773.8,322.4 768.2,331.6 762.2,340.8 755.8,350 749.1,359.2 741.9,368.5 734.5,377.7 726.6,386.9" fill="none" stroke="rgba(50,32,5,0.55)" stroke-width="1.05"/>
<path d="M759.9,8.9 766.7,18.1 773.2,27.3 779.2,36.6 784.9,45.8 790.2,55 795.2,64.2 799.8,73.4 804,82.7 807.9,91.9 811.3,101.1 814.5,110.3 817.2,119.5 819.6,128.8 821.6,138 823.3,147.2 824.5,156.4 825.5,165.6 826,174.9 826.2,184.1 826,193.3 825.4,202.5 824.5,211.7 823.2,220.9 821.6,230.2 819.5,239.4 817.1,248.6 814.4,257.8 811.2,267 807.7,276.3 803.9,285.5 799.6,294.7 795,303.9 790.1,313.1 784.7,322.4 779,331.6 772.9,340.8 766.5,350 759.7,359.2 752.5,368.5 745,377.7 737.1,386.9" fill="none" stroke="rgba(50,32,5,0.55)" stroke-width="1.05"/>
<path d="M765.7,8.9 772.5,18.1 778.9,27.3 784.9,36.6 790.6,45.8 795.9,55 800.8,64.2 805.4,73.4 809.6,82.7 813.4,91.9 816.8,101.1 819.9,110.3 822.6,119.5 825,128.8 827,138 828.6,147.2 829.9,156.4 830.7,165.6 831.3,174.9 831.4,184.1 831.2,193.3 830.6,202.5 829.6,211.7 828.3,220.9 826.6,230.2 824.6,239.4 822.1,248.6 819.4,257.8 816.2,267 812.7,276.3 808.8,285.5 804.5,294.7 799.9,303.9 794.9,313.1 789.5,322.4 783.8,331.6 777.7,340.8 771.2,350 764.4,359.2 757.2,368.5 749.6,377.7 741.6,386.9" fill="none" stroke="rgba(50,32,5,0.55)" stroke-width="1.05"/>
<path d="M771.5,8.9 778.3,18.1 784.6,27.3 790.6,36.6 796.3,45.8 801.5,55 806.4,64.2 811,73.4 815.1,82.7 818.9,91.9 822.3,101.1 825.4,110.3 828.1,119.5 830.4,128.8 832.4,138 834,147.2 835.2,156.4 836,165.6 836.5,174.9 836.6,184.1 836.4,193.3 835.8,202.5 834.8,211.7 833.4,220.9 831.7,230.2 829.6,239.4 827.2,248.6 824.3,257.8 821.1,267 817.6,276.3 813.7,285.5 809.4,294.7 804.7,303.9 799.7,313.1 794.3,322.4 788.5,331.6 782.4,340.8 775.9,350 769,359.2 761.8,368.5 754.2,377.7 746.2,386.9" fill="none" stroke="rgba(50,32,5,0.55)" stroke-width="1.05"/>
<path d="M777.3,8.9 784,18.1 790.4,27.3 796.3,36.6 801.9,45.8 807.2,55 812,64.2 816.5,73.4 820.7,82.7 824.4,91.9 827.8,101.1 830.9,110.3 833.5,119.5 835.8,128.8 837.7,138 839.3,147.2 840.5,156.4 841.3,165.6 841.8,174.9 841.9,184.1 841.6,193.3 840.9,202.5 839.9,211.7 838.5,220.9 836.8,230.2 834.7,239.4 832.2,248.6 829.3,257.8 826.1,267 822.5,276.3 818.6,285.5 814.2,294.7 809.5,303.9 804.5,313.1 799.1,322.4 793.3,331.6 787.1,340.8 780.6,350 773.7,359.2 766.4,368.5 758.8,377.7 750.8,386.9" fill="none" stroke="rgba(50,32,5,0.55)" stroke-width="1.05"/>
<path d="M783.1,8.9 789.8,18.1 796.1,27.3 802,36.6 807.6,45.8 812.8,55 817.7,64.2 822.1,73.4 826.2,82.7 830,91.9 833.3,101.1 836.3,110.3 839,119.5 841.2,128.8 843.1,138 844.6,147.2 845.8,156.4 846.6,165.6 847,174.9 847.1,184.1 846.8,193.3 846.1,202.5 845.1,211.7 843.6,220.9 841.9,230.2 839.7,239.4 837.2,248.6 834.3,257.8 831.1,267 827.4,276.3 823.5,285.5 819.1,294.7 814.4,303.9 809.3,313.1 803.8,322.4 798,331.6 791.8,340.8 785.3,350 778.3,359.2 771,368.5 763.4,377.7 755.3,386.9" fill="none" stroke="rgba(50,32,5,0.55)" stroke-width="1.05"/>
<path d="M796.3,8.9 802.9,18.1 809.2,27.3 815.1,36.6 820.6,45.8 825.7,55 830.5,64.2 834.9,73.4 838.9,82.7 842.6,91.9 845.9,101.1 848.8,110.3 851.4,119.5 853.6,128.8 855.4,138 856.9,147.2 857.9,156.4 858.7,165.6 859,174.9 859,184.1 858.6,193.3 857.9,202.5 856.8,211.7 855.3,220.9 853.5,230.2 851.2,239.4 848.7,248.6 845.7,257.8 842.4,267 838.7,276.3 834.6,285.5 830.2,294.7 825.4,303.9 820.3,313.1 814.8,322.4 808.9,331.6 802.6,340.8 796,350 789,359.2 781.6,368.5 773.9,377.7 765.8,386.9" fill="none" stroke="rgba(50,32,5,0.55)" stroke-width="1.05"/>
<path d="M802.1,8.9 808.7,18.1 814.9,27.3 820.8,36.6 826.2,45.8 831.3,55 836.1,64.2 840.5,73.4 844.5,82.7 848.1,91.9 851.4,101.1 854.3,110.3 856.8,119.5 859,128.8 860.8,138 862.2,147.2 863.3,156.4 864,165.6 864.3,174.9 864.2,184.1 863.8,193.3 863.1,202.5 861.9,211.7 860.4,220.9 858.5,230.2 856.3,239.4 853.7,248.6 850.7,257.8 847.3,267 843.6,276.3 839.5,285.5 835.1,294.7 830.3,303.9 825.1,313.1 819.5,322.4 813.6,331.6 807.3,340.8 800.7,350 793.6,359.2 786.2,368.5 778.5,377.7 770.4,386.9" fill="none" stroke="rgba(50,32,5,0.55)" stroke-width="1.05"/>
<path d="M807.9,8.9 814.5,18.1 820.7,27.3 826.5,36.6 831.9,45.8 837,55 841.7,64.2 846,73.4 850,82.7 853.6,91.9 856.9,101.1 859.7,110.3 862.2,119.5 864.4,128.8 866.1,138 867.5,147.2 868.6,156.4 869.2,165.6 869.5,174.9 869.5,184.1 869,193.3 868.2,202.5 867.1,211.7 865.5,220.9 863.6,230.2 861.3,239.4 858.7,248.6 855.7,257.8 852.3,267 848.6,276.3 844.4,285.5 840,294.7 835.1,303.9 829.9,313.1 824.3,322.4 818.4,331.6 812,340.8 805.3,350 798.3,359.2 790.9,368.5 783.1,377.7 774.9,386.9" fill="none" stroke="rgba(50,32,5,0.55)" stroke-width="1.05"/>
<path d="M813.7,8.9 820.2,18.1 826.4,27.3 832.2,36.6 837.6,45.8 842.6,55 847.3,64.2 851.6,73.4 855.6,82.7 859.2,91.9 862.4,101.1 865.2,110.3 867.7,119.5 869.8,128.8 871.5,138 872.9,147.2 873.9,156.4 874.5,165.6 874.8,174.9 874.7,184.1 874.2,193.3 873.4,202.5 872.2,211.7 870.6,220.9 868.7,230.2 866.4,239.4 863.7,248.6 860.7,257.8 857.3,267 853.5,276.3 849.3,285.5 844.8,294.7 840,303.9 834.7,313.1 829.1,322.4 823.1,331.6 816.8,340.8 810,350 803,359.2 795.5,368.5 787.7,377.7 779.5,386.9" fill="none" stroke="rgba(50,32,5,0.55)" stroke-width="1.05"/>
<path d="M819.5,8.9 826,18.1 832.1,27.3 837.9,36.6 843.3,45.8 848.3,55 852.9,64.2 857.2,73.4 861.1,82.7 864.7,91.9 867.9,101.1 870.7,110.3 873.1,119.5 875.2,128.8 876.9,138 878.2,147.2 879.2,156.4 879.8,165.6 880.1,174.9 879.9,184.1 879.4,193.3 878.6,202.5 877.3,211.7 875.7,220.9 873.8,230.2 871.4,239.4 868.7,248.6 865.7,257.8 862.2,267 858.4,276.3 854.2,285.5 849.7,294.7 844.8,303.9 839.5,313.1 833.9,322.4 827.9,331.6 821.5,340.8 814.7,350 807.6,359.2 800.1,368.5 792.3,377.7 784.1,386.9" fill="none" stroke="rgba(50,32,5,0.55)" stroke-width="1.05"/>
<path d="M832.7,8.9 839.2,18.1 845.2,27.3 850.9,36.6 856.2,45.8 861.2,55 865.8,64.2 870,73.4 873.8,82.7 877.3,91.9 880.4,101.1 883.1,110.3 885.5,119.5 887.5,128.8 889.2,138 890.4,147.2 891.4,156.4 891.9,165.6 892.1,174.9 891.9,184.1 891.3,193.3 890.4,202.5 889.1,211.7 887.4,220.9 885.4,230.2 883,239.4 880.2,248.6 877,257.8 873.5,267 869.7,276.3 865.4,285.5 860.8,294.7 855.8,303.9 850.5,313.1 844.8,322.4 838.7,331.6 832.3,340.8 825.4,350 818.3,359.2 810.7,368.5 802.8,377.7 794.5,386.9" fill="none" stroke="rgba(50,32,5,0.55)" stroke-width="1.05"/>
<path d="M838.5,8.9 844.9,18.1 851,27.3 856.6,36.6 861.9,45.8 866.8,55 871.4,64.2 875.6,73.4 879.4,82.7 882.8,91.9 885.9,101.1 888.6,110.3 891,119.5 892.9,128.8 894.6,138 895.8,147.2 896.7,156.4 897.2,165.6 897.3,174.9 897.1,184.1 896.5,193.3 895.5,202.5 894.2,211.7 892.5,220.9 890.4,230.2 888,239.4 885.2,248.6 882,257.8 878.5,267 874.6,276.3 870.3,285.5 865.7,294.7 860.7,303.9 855.3,313.1 849.6,322.4 843.4,331.6 837,340.8 830.1,350 822.9,359.2 815.3,368.5 807.4,377.7 799.1,386.9" fill="none" stroke="rgba(50,32,5,0.55)" stroke-width="1.05"/>
<path d="M844.3,8.9 850.7,18.1 856.7,27.3 862.3,36.6 867.6,45.8 872.5,55 877,64.2 881.1,73.4 884.9,82.7 888.3,91.9 891.4,101.1 894.1,110.3 896.4,119.5 898.3,128.8 899.9,138 901.1,147.2 902,156.4 902.5,165.6 902.6,174.9 902.3,184.1 901.7,193.3 900.7,202.5 899.3,211.7 897.6,220.9 895.5,230.2 893.1,239.4 890.2,248.6 887,257.8 883.5,267 879.5,276.3 875.2,285.5 870.6,294.7 865.5,303.9 860.1,313.1 854.3,322.4 848.2,331.6 841.7,340.8 834.8,350 827.6,359.2 820,368.5 812,377.7 803.6,386.9" fill="none" stroke="rgba(50,32,5,0.55)" stroke-width="1.05"/>
<path d="M850.1,8.9 856.5,18.1 862.4,27.3 868,36.6 873.2,45.8 878.1,55 882.6,64.2 886.7,73.4 890.5,82.7 893.9,91.9 896.9,101.1 899.5,110.3 901.8,119.5 903.8,128.8 905.3,138 906.5,147.2 907.3,156.4 907.8,165.6 907.8,174.9 907.5,184.1 906.9,193.3 905.9,202.5 904.5,211.7 902.7,220.9 900.6,230.2 898.1,239.4 895.2,248.6 892,257.8 888.4,267 884.5,276.3 880.1,285.5 875.4,294.7 870.4,303.9 864.9,313.1 859.1,322.4 852.9,331.6 846.4,340.8 839.5,350 832.2,359.2 824.6,368.5 816.6,377.7 808.2,386.9" fill="none" stroke="rgba(50,32,5,0.55)" stroke-width="1.05"/>
<path d="M855.9,8.9 862.2,18.1 868.2,27.3 873.7,36.6 878.9,45.8 883.8,55 888.2,64.2 892.3,73.4 896,82.7 899.4,91.9 902.4,101.1 905,110.3 907.3,119.5 909.2,128.8 910.7,138 911.8,147.2 912.6,156.4 913,165.6 913.1,174.9 912.8,184.1 912.1,193.3 911,202.5 909.6,211.7 907.8,220.9 905.7,230.2 903.1,239.4 900.3,248.6 897,257.8 893.4,267 889.4,276.3 885,285.5 880.3,294.7 875.2,303.9 869.7,313.1 863.9,322.4 857.7,331.6 851.1,340.8 844.2,350 836.9,359.2 829.2,368.5 821.2,377.7 812.8,386.9" fill="none" stroke="rgba(50,32,5,0.55)" stroke-width="1.05"/>
<path d="M869.2,8.9 875.4,18.1 881.3,27.3 886.7,36.6 891.9,45.8 896.6,55 901,64.2 905.1,73.4 908.7,82.7 912,91.9 914.9,101.1 917.5,110.3 919.7,119.5 921.5,128.8 923,138 924,147.2 924.8,156.4 925.1,165.6 925.1,174.9 924.7,184.1 924,193.3 922.8,202.5 921.3,211.7 919.5,220.9 917.3,230.2 914.7,239.4 911.7,248.6 908.4,257.8 904.7,267 900.6,276.3 896.2,285.5 891.4,294.7 886.2,303.9 880.7,313.1 874.8,322.4 868.5,331.6 861.9,340.8 854.9,350 847.5,359.2 839.8,368.5 831.7,377.7 823.2,386.9" fill="none" stroke="rgba(50,32,5,0.55)" stroke-width="1.05"/>
<path d="M874.9,8.9 881.1,18.1 887,27.3 892.5,36.6 897.6,45.8 902.3,55 906.6,64.2 910.6,73.4 914.3,82.7 917.5,91.9 920.4,101.1 923,110.3 925.1,119.5 926.9,128.8 928.3,138 929.4,147.2 930.1,156.4 930.4,165.6 930.3,174.9 929.9,184.1 929.1,193.3 928,202.5 926.5,211.7 924.6,220.9 922.3,230.2 919.7,239.4 916.7,248.6 913.4,257.8 909.7,267 905.6,276.3 901.1,285.5 896.3,294.7 891.1,303.9 885.5,313.1 879.6,322.4 873.3,331.6 866.6,340.8 859.6,350 852.2,359.2 844.4,368.5 836.3,377.7 827.8,386.9" fill="none" stroke="rgba(50,32,5,0.55)" stroke-width="1.05"/>
<path d="M880.7,8.9 886.9,18.1 892.7,27.3 898.2,36.6 903.2,45.8 907.9,55 912.3,64.2 916.2,73.4 919.8,82.7 923.1,91.9 925.9,101.1 928.4,110.3 930.6,119.5 932.3,128.8 933.7,138 934.7,147.2 935.4,156.4 935.7,165.6 935.6,174.9 935.2,184.1 934.3,193.3 933.2,202.5 931.6,211.7 929.7,220.9 927.4,230.2 924.8,239.4 921.8,248.6 918.4,257.8 914.6,267 910.5,276.3 906,285.5 901.1,294.7 895.9,303.9 890.3,313.1 884.4,322.4 878,331.6 871.3,340.8 864.3,350 856.8,359.2 849.1,368.5 840.9,377.7 832.4,386.9" fill="none" stroke="rgba(50,32,5,0.55)" stroke-width="1.05"/>
<path d="M886.5,8.9 892.7,18.1 898.5,27.3 903.9,36.6 908.9,45.8 913.6,55 917.9,64.2 921.8,73.4 925.4,82.7 928.6,91.9 931.4,101.1 933.9,110.3 936,119.5 937.7,128.8 939.1,138 940.1,147.2 940.7,156.4 941,165.6 940.9,174.9 940.4,184.1 939.5,193.3 938.3,202.5 936.8,211.7 934.8,220.9 932.5,230.2 929.8,239.4 926.8,248.6 923.4,257.8 919.6,267 915.4,276.3 910.9,285.5 906,294.7 900.8,303.9 895.1,313.1 889.1,322.4 882.8,331.6 876.1,340.8 869,350 861.5,359.2 853.7,368.5 845.5,377.7 836.9,386.9" fill="none" stroke="rgba(50,32,5,0.55)" stroke-width="1.05"/>
<path d="M892.3,8.9 898.4,18.1 904.2,27.3 909.6,36.6 914.6,45.8 919.2,55 923.5,64.2 927.4,73.4 930.9,82.7 934.1,91.9 936.9,101.1 939.4,110.3 941.4,119.5 943.1,128.8 944.5,138 945.4,147.2 946,156.4 946.3,165.6 946.1,174.9 945.6,184.1 944.7,193.3 943.5,202.5 941.9,211.7 939.9,220.9 937.6,230.2 934.9,239.4 931.8,248.6 928.3,257.8 924.5,267 920.3,276.3 915.8,285.5 910.9,294.7 905.6,303.9 899.9,313.1 893.9,322.4 887.5,331.6 880.8,340.8 873.7,350 866.2,359.2 858.3,368.5 850.1,377.7 841.5,386.9" fill="none" stroke="rgba(50,32,5,0.55)" stroke-width="1.05"/>
<path d="M905.6,8.9 911.6,18.1 917.3,27.3 922.6,36.6 927.5,45.8 932.1,55 936.3,64.2 940.2,73.4 943.6,82.7 946.7,91.9 949.5,101.1 951.8,110.3 953.8,119.5 955.5,128.8 956.7,138 957.6,147.2 958.2,156.4 958.3,165.6 958.1,174.9 957.5,184.1 956.6,193.3 955.3,202.5 953.6,211.7 951.6,220.9 949.2,230.2 946.4,239.4 943.2,248.6 939.7,257.8 935.8,267 931.6,276.3 927,285.5 922,294.7 916.6,303.9 910.9,313.1 904.8,322.4 898.4,331.6 891.6,340.8 884.4,350 876.8,359.2 868.9,368.5 860.6,377.7 851.9,386.9" fill="none" stroke="rgba(50,32,5,0.55)" stroke-width="1.05"/>
<path d="M911.4,8.9 917.4,18.1 923,27.3 928.3,36.6 933.2,45.8 937.8,55 941.9,64.2 945.7,73.4 949.2,82.7 952.3,91.9 955,101.1 957.3,110.3 959.3,119.5 960.9,128.8 962.1,138 963,147.2 963.5,156.4 963.6,165.6 963.4,174.9 962.8,184.1 961.8,193.3 960.5,202.5 958.8,211.7 956.7,220.9 954.2,230.2 951.4,239.4 948.3,248.6 944.7,257.8 940.8,267 936.5,276.3 931.9,285.5 926.9,294.7 921.5,303.9 915.7,313.1 909.6,322.4 903.1,331.6 896.3,340.8 889.1,350 881.5,359.2 873.5,368.5 865.2,377.7 856.5,386.9" fill="none" stroke="rgba(50,32,5,0.55)" stroke-width="1.05"/>
<path d="M917.1,8.9 923.1,18.1 928.8,27.3 934,36.6 938.9,45.8 943.4,55 947.5,64.2 951.3,73.4 954.7,82.7 957.8,91.9 960.5,101.1 962.8,110.3 964.7,119.5 966.3,128.8 967.5,138 968.3,147.2 968.8,156.4 968.9,165.6 968.6,174.9 968,184.1 967,193.3 965.6,202.5 963.9,211.7 961.8,220.9 959.3,230.2 956.5,239.4 953.3,248.6 949.7,257.8 945.8,267 941.5,276.3 936.8,285.5 931.7,294.7 926.3,303.9 920.5,313.1 914.4,322.4 907.9,331.6 901,340.8 893.7,350 886.1,359.2 878.1,368.5 869.8,377.7 861.1,386.9" fill="none" stroke="rgba(50,32,5,0.55)" stroke-width="1.05"/>
<path d="M922.9,8.9 928.9,18.1 934.5,27.3 939.7,36.6 944.6,45.8 949,55 953.2,64.2 956.9,73.4 960.3,82.7 963.3,91.9 966,101.1 968.2,110.3 970.1,119.5 971.7,128.8 972.9,138 973.7,147.2 974.1,156.4 974.2,165.6 973.9,174.9 973.2,184.1 972.2,193.3 970.8,202.5 969,211.7 966.9,220.9 964.4,230.2 961.5,239.4 958.3,248.6 954.7,257.8 950.7,267 946.4,276.3 941.7,285.5 936.6,294.7 931.2,303.9 925.4,313.1 919.2,322.4 912.6,331.6 905.7,340.8 898.4,350 890.8,359.2 882.8,368.5 874.4,377.7 865.6,386.9" fill="none" stroke="rgba(50,32,5,0.55)" stroke-width="1.05"/>
<path d="M928.7,8.9 934.7,18.1 940.2,27.3 945.4,36.6 950.2,45.8 954.7,55 958.8,64.2 962.5,73.4 965.8,82.7 968.8,91.9 971.4,101.1 973.7,110.3 975.6,119.5 977.1,128.8 978.2,138 979,147.2 979.4,156.4 979.5,165.6 979.1,174.9 978.5,184.1 977.4,193.3 976,202.5 974.2,211.7 972,220.9 969.5,230.2 966.6,239.4 963.3,248.6 959.7,257.8 955.7,267 951.3,276.3 946.6,285.5 941.5,294.7 936,303.9 930.2,313.1 924,322.4 917.4,331.6 910.4,340.8 903.1,350 895.4,359.2 887.4,368.5 879,377.7 870.2,386.9" fill="none" stroke="rgba(50,32,5,0.55)" stroke-width="1.05"/>
<path d="M942,8.9 947.8,18.1 953.3,27.3 958.4,36.6 963.2,45.8 967.6,55 971.6,64.2 975.2,73.4 978.5,82.7 981.4,91.9 984,101.1 986.2,110.3 988,119.5 989.4,128.8 990.5,138 991.2,147.2 991.6,156.4 991.5,165.6 991.2,174.9 990.4,184.1 989.3,193.3 987.8,202.5 985.9,211.7 983.7,220.9 981.1,230.2 978.1,239.4 974.8,248.6 971.1,257.8 967,267 962.6,276.3 957.8,285.5 952.6,294.7 947,303.9 941.1,313.1 934.9,322.4 928.2,331.6 921.2,340.8 913.8,350 906.1,359.2 898,368.5 889.5,377.7 880.6,386.9" fill="none" stroke="rgba(50,32,5,0.55)" stroke-width="1.05"/>
<path d="M947.8,8.9 953.6,18.1 959,27.3 964.1,36.6 968.9,45.8 973.2,55 977.2,64.2 980.8,73.4 984.1,82.7 987,91.9 989.5,101.1 991.6,110.3 993.4,119.5 994.8,128.8 995.9,138 996.6,147.2 996.9,156.4 996.8,165.6 996.4,174.9 995.6,184.1 994.5,193.3 992.9,202.5 991,211.7 988.8,220.9 986.2,230.2 983.2,239.4 979.8,248.6 976.1,257.8 972,267 967.5,276.3 962.7,285.5 957.5,294.7 951.9,303.9 945.9,313.1 939.6,322.4 933,331.6 925.9,340.8 918.5,350 910.7,359.2 902.6,368.5 894.1,377.7 885.2,386.9" fill="none" stroke="rgba(50,32,5,0.55)" stroke-width="1.05"/>
<path d="M953.6,8.9 959.4,18.1 964.8,27.3 969.8,36.6 974.5,45.8 978.9,55 982.8,64.2 986.4,73.4 989.6,82.7 992.5,91.9 995,101.1 997.1,110.3 998.9,119.5 1000.2,128.8 1001.3,138 1001.9,147.2 1002.2,156.4 1002.1,165.6 1001.7,174.9 1000.8,184.1 999.7,193.3 998.1,202.5 996.2,211.7 993.9,220.9 991.2,230.2 988.2,239.4 984.8,248.6 981,257.8 976.9,267 972.4,276.3 967.6,285.5 962.3,294.7 956.7,303.9 950.8,313.1 944.4,322.4 937.7,331.6 930.6,340.8 923.2,350 915.4,359.2 907.2,368.5 898.7,377.7 889.8,386.9" fill="none" stroke="rgba(50,32,5,0.55)" stroke-width="1.05"/>
<path d="M959.3,8.9 965.1,18.1 970.5,27.3 975.6,36.6 980.2,45.8 984.5,55 988.4,64.2 992,73.4 995.2,82.7 998,91.9 1000.5,101.1 1002.6,110.3 1004.3,119.5 1005.7,128.8 1006.6,138 1007.3,147.2 1007.5,156.4 1007.4,165.6 1006.9,174.9 1006.1,184.1 1004.9,193.3 1003.3,202.5 1001.3,211.7 999,220.9 996.3,230.2 993.3,239.4 989.8,248.6 986,257.8 981.9,267 977.4,276.3 972.5,285.5 967.2,294.7 961.6,303.9 955.6,313.1 949.2,322.4 942.5,331.6 935.4,340.8 927.9,350 920.1,359.2 911.9,368.5 903.3,377.7 894.4,386.9" fill="none" stroke="rgba(50,32,5,0.55)" stroke-width="1.05"/>
<path d="M965.1,8.9 970.9,18.1 976.3,27.3 981.3,36.6 985.9,45.8 990.2,55 994.1,64.2 997.6,73.4 1000.8,82.7 1003.6,91.9 1006,101.1 1008,110.3 1009.7,119.5 1011.1,128.8 1012,138 1012.6,147.2 1012.8,156.4 1012.7,165.6 1012.2,174.9 1011.3,184.1 1010.1,193.3 1008.4,202.5 1006.5,211.7 1004.1,220.9 1001.4,230.2 998.3,239.4 994.8,248.6 991,257.8 986.8,267 982.3,276.3 977.4,285.5 972.1,294.7 966.4,303.9 960.4,313.1 954,322.4 947.2,331.6 940.1,340.8 932.6,350 924.7,359.2 916.5,368.5 907.9,377.7 898.9,386.9" fill="none" stroke="rgba(50,32,5,0.55)" stroke-width="1.05"/>
<path d="M978.4,8.9 984,18.1 989.3,27.3 994.3,36.6 998.8,45.8 1003,55 1006.9,64.2 1010.3,73.4 1013.4,82.7 1016.2,91.9 1018.5,101.1 1020.5,110.3 1022.1,119.5 1023.4,128.8 1024.3,138 1024.8,147.2 1025,156.4 1024.8,165.6 1024.2,174.9 1023.2,184.1 1021.9,193.3 1020.2,202.5 1018.2,211.7 1015.8,220.9 1013,230.2 1009.8,239.4 1006.3,248.6 1002.4,257.8 998.2,267 993.5,276.3 988.5,285.5 983.2,294.7 977.5,303.9 971.4,313.1 964.9,322.4 958.1,331.6 950.9,340.8 943.3,350 935.4,359.2 927.1,368.5 918.4,377.7 909.4,386.9" fill="none" stroke="rgba(50,32,5,0.55)" stroke-width="1.05"/>
<path d="M984.2,8.9 989.8,18.1 995.1,27.3 1000,36.6 1004.5,45.8 1008.7,55 1012.5,64.2 1015.9,73.4 1019,82.7 1021.7,91.9 1024,101.1 1026,110.3 1027.6,119.5 1028.8,128.8 1029.7,138 1030.2,147.2 1030.3,156.4 1030,165.6 1029.4,174.9 1028.5,184.1 1027.1,193.3 1025.4,202.5 1023.3,211.7 1020.9,220.9 1018.1,230.2 1014.9,239.4 1011.3,248.6 1007.4,257.8 1003.1,267 998.5,276.3 993.4,285.5 988,294.7 982.3,303.9 976.2,313.1 969.7,322.4 962.8,331.6 955.6,340.8 948,350 940,359.2 931.7,368.5 923,377.7 913.9,386.9" fill="none" stroke="rgba(50,32,5,0.55)" stroke-width="1.05"/>
<path d="M990,8.9 995.6,18.1 1000.8,27.3 1005.7,36.6 1010.2,45.8 1014.3,55 1018.1,64.2 1021.5,73.4 1024.5,82.7 1027.2,91.9 1029.5,101.1 1031.5,110.3 1033,119.5 1034.2,128.8 1035,138 1035.5,147.2 1035.6,156.4 1035.3,165.6 1034.7,174.9 1033.7,184.1 1032.3,193.3 1030.6,202.5 1028.5,211.7 1026,220.9 1023.1,230.2 1019.9,239.4 1016.3,248.6 1012.4,257.8 1008.1,267 1003.4,276.3 998.3,285.5 992.9,294.7 987.1,303.9 981,313.1 974.5,322.4 967.6,331.6 960.3,340.8 952.7,350 944.7,359.2 936.3,368.5 927.6,377.7 918.5,386.9" fill="none" stroke="rgba(50,32,5,0.55)" stroke-width="1.05"/>
<path d="M461.8,8.9 470.1,18.1 478.1,27.3 485.7,36.6 492.9,45.8 499.8,55 506.2,64.2 512.4,73.4 518.1,82.7 523.5,91.9 528.5,101.1 533.2,110.3 537.5,119.5 541.4,128.8 545,138 548.1,147.2 551,156.4 553.4,165.6 555.5,174.9 557.2,184.1 558.6,193.3 559.5,202.5 560.1,211.7 560.4,220.9 560.3,230.2 559.8,239.4 558.9,248.6 557.7,257.8 556.1,267 554.1,276.3 551.8,285.5 549.1,294.7 546,303.9 542.6,313.1 538.8,322.4 534.6,331.6 530.1,340.8 525.2,350 519.9,359.2 514.3,368.5 508.3,377.7 501.9,386.9" fill="none" stroke="#fbfbff" stroke-width="1.9"/>
<path d="M498.2,8.9 506.3,18.1 514.1,27.3 521.5,36.6 528.5,45.8 535.2,55 541.5,64.2 547.5,73.4 553,82.7 558.2,91.9 563.1,101.1 567.5,110.3 571.6,119.5 575.4,128.8 578.7,138 581.7,147.2 584.4,156.4 586.6,165.6 588.5,174.9 590.1,184.1 591.2,193.3 592,202.5 592.4,211.7 592.5,220.9 592.2,230.2 591.5,239.4 590.4,248.6 589,257.8 587.2,267 585.1,276.3 582.6,285.5 579.7,294.7 576.4,303.9 572.8,313.1 568.8,322.4 564.5,331.6 559.7,340.8 554.7,350 549.2,359.2 543.4,368.5 537.2,377.7 530.6,386.9" fill="none" stroke="#fbfbff" stroke-width="1.9"/>
<path d="M534.6,8.9 542.5,18.1 550.1,27.3 557.4,36.6 564.2,45.8 570.7,55 576.8,64.2 582.6,73.4 587.9,82.7 593,91.9 597.6,101.1 601.9,110.3 605.8,119.5 609.3,128.8 612.5,138 615.3,147.2 617.8,156.4 619.8,165.6 621.6,174.9 622.9,184.1 623.9,193.3 624.5,202.5 624.7,211.7 624.6,220.9 624.1,230.2 623.2,239.4 622,248.6 620.4,257.8 618.4,267 616.1,276.3 613.4,285.5 610.3,294.7 606.8,303.9 603,313.1 598.9,322.4 594.3,331.6 589.4,340.8 584.1,350 578.5,359.2 572.5,368.5 566.1,377.7 559.3,386.9" fill="none" stroke="#fbfbff" stroke-width="1.9"/>
<path d="M571,8.9 578.8,18.1 586.2,27.3 593.2,36.6 599.9,45.8 606.2,55 612.1,64.2 617.7,73.4 622.9,82.7 627.7,91.9 632.1,101.1 636.2,110.3 640,119.5 643.3,128.8 646.3,138 648.9,147.2 651.2,156.4 653.1,165.6 654.6,174.9 655.7,184.1 656.5,193.3 656.9,202.5 657,211.7 656.7,220.9 656,230.2 654.9,239.4 653.5,248.6 651.7,257.8 649.6,267 647,276.3 644.1,285.5 640.9,294.7 637.2,303.9 633.2,313.1 628.9,322.4 624.2,331.6 619.1,340.8 613.6,350 607.8,359.2 601.6,368.5 595,377.7 588,386.9" fill="none" stroke="#fbfbff" stroke-width="1.9"/>
<path d="M607.4,8.9 615,18.1 622.2,27.3 629,36.6 635.5,45.8 641.6,55 647.4,64.2 652.7,73.4 657.8,82.7 662.4,91.9 666.7,101.1 670.6,110.3 674.1,119.5 677.3,128.8 680.1,138 682.5,147.2 684.6,156.4 686.3,165.6 687.6,174.9 688.6,184.1 689.2,193.3 689.4,202.5 689.3,211.7 688.8,220.9 687.9,230.2 686.6,239.4 685,248.6 683.1,257.8 680.7,267 678,276.3 674.9,285.5 671.5,294.7 667.6,303.9 663.5,313.1 658.9,322.4 654,331.6 648.7,340.8 643.1,350 637,359.2 630.6,368.5 623.9,377.7 616.8,386.9" fill="none" stroke="#fbfbff" stroke-width="1.9"/>
<path d="M643.8,8.9 651.2,18.1 658.2,27.3 664.9,36.6 671.2,45.8 677.1,55 682.7,64.2 687.8,73.4 692.7,82.7 697.1,91.9 701.2,101.1 704.9,110.3 708.3,119.5 711.2,128.8 713.9,138 716.1,147.2 718,156.4 719.5,165.6 720.6,174.9 721.4,184.1 721.8,193.3 721.9,202.5 721.5,211.7 720.8,220.9 719.8,230.2 718.4,239.4 716.6,248.6 714.4,257.8 711.9,267 709,276.3 705.7,285.5 702.1,294.7 698.1,303.9 693.7,313.1 688.9,322.4 683.8,331.6 678.4,340.8 672.5,350 666.3,359.2 659.7,368.5 652.8,377.7 645.5,386.9" fill="none" stroke="#fbfbff" stroke-width="1.9"/>
<path d="M680.2,8.9 687.4,18.1 694.3,27.3 700.7,36.6 706.8,45.8 712.6,55 717.9,64.2 722.9,73.4 727.6,82.7 731.8,91.9 735.7,101.1 739.3,110.3 742.4,119.5 745.2,128.8 747.6,138 749.7,147.2 751.4,156.4 752.7,165.6 753.7,174.9 754.3,184.1 754.5,193.3 754.3,202.5 753.8,211.7 752.9,220.9 751.7,230.2 750.1,239.4 748.1,248.6 745.7,257.8 743,267 739.9,276.3 736.5,285.5 732.6,294.7 728.5,303.9 723.9,313.1 719,322.4 713.7,331.6 708,340.8 702,350 695.6,359.2 688.8,368.5 681.7,377.7 674.2,386.9" fill="none" stroke="#fbfbff" stroke-width="1.9"/>
<path d="M716.6,8.9 723.6,18.1 730.3,27.3 736.6,36.6 742.5,45.8 748,55 753.2,64.2 758,73.4 762.5,82.7 766.6,91.9 770.3,101.1 773.6,110.3 776.6,119.5 779.2,128.8 781.4,138 783.3,147.2 784.8,156.4 785.9,165.6 786.7,174.9 787.1,184.1 787.1,193.3 786.8,202.5 786.1,211.7 785,220.9 783.6,230.2 781.8,239.4 779.6,248.6 777.1,257.8 774.2,267 770.9,276.3 767.2,285.5 763.2,294.7 758.9,303.9 754.1,313.1 749,322.4 743.5,331.6 737.7,340.8 731.4,350 724.9,359.2 717.9,368.5 710.6,377.7 702.9,386.9" fill="none" stroke="#fbfbff" stroke-width="1.9"/>
<path d="M753,8.9 759.9,18.1 766.3,27.3 772.4,36.6 778.1,45.8 783.5,55 788.5,64.2 793.1,73.4 797.4,82.7 801.3,91.9 804.8,101.1 807.9,110.3 810.7,119.5 813.2,128.8 815.2,138 816.9,147.2 818.2,156.4 819.2,165.6 819.7,174.9 819.9,184.1 819.8,193.3 819.3,202.5 818.4,211.7 817.1,220.9 815.5,230.2 813.5,239.4 811.1,248.6 808.4,257.8 805.3,267 801.9,276.3 798,285.5 793.8,294.7 789.3,303.9 784.3,313.1 779,322.4 773.4,331.6 767.3,340.8 760.9,350 754.1,359.2 747,368.5 739.5,377.7 731.6,386.9" fill="none" stroke="#fbfbff" stroke-width="1.9"/>
<path d="M789.4,8.9 796.1,18.1 802.4,27.3 808.3,36.6 813.8,45.8 819,55 823.8,64.2 828.2,73.4 832.3,82.7 836,91.9 839.3,101.1 842.3,110.3 844.9,119.5 847.1,128.8 849,138 850.5,147.2 851.6,156.4 852.4,165.6 852.8,174.9 852.8,184.1 852.4,193.3 851.7,202.5 850.7,211.7 849.2,220.9 847.4,230.2 845.2,239.4 842.7,248.6 839.8,257.8 836.5,267 832.8,276.3 828.8,285.5 824.4,294.7 819.7,303.9 814.5,313.1 809.1,322.4 803.2,331.6 797,340.8 790.4,350 783.4,359.2 776.1,368.5 768.4,377.7 760.3,386.9" fill="none" stroke="#fbfbff" stroke-width="1.9"/>
<path d="M825.8,8.9 832.3,18.1 838.4,27.3 844.1,36.6 849.5,45.8 854.4,55 859.1,64.2 863.3,73.4 867.2,82.7 870.7,91.9 873.9,101.1 876.6,110.3 879,119.5 881.1,128.8 882.8,138 884.1,147.2 885,156.4 885.6,165.6 885.8,174.9 885.6,184.1 885.1,193.3 884.2,202.5 882.9,211.7 881.3,220.9 879.3,230.2 876.9,239.4 874.2,248.6 871.1,257.8 867.6,267 863.8,276.3 859.6,285.5 855,294.7 850.1,303.9 844.8,313.1 839.1,322.4 833,331.6 826.6,340.8 819.8,350 812.7,359.2 805.2,368.5 797.3,377.7 789,386.9" fill="none" stroke="#fbfbff" stroke-width="1.9"/>
<path d="M862.2,8.9 868.5,18.1 874.4,27.3 879.9,36.6 885.1,45.8 889.9,55 894.3,64.2 898.4,73.4 902.1,82.7 905.4,91.9 908.4,101.1 911,110.3 913.2,119.5 915.1,128.8 916.5,138 917.7,147.2 918.4,156.4 918.8,165.6 918.8,174.9 918.5,184.1 917.8,193.3 916.7,202.5 915.2,211.7 913.4,220.9 911.2,230.2 908.7,239.4 905.7,248.6 902.4,257.8 898.8,267 894.8,276.3 890.4,285.5 885.6,294.7 880.5,303.9 875,313.1 869.1,322.4 862.9,331.6 856.3,340.8 849.3,350 842,359.2 834.3,368.5 826.2,377.7 817.8,386.9" fill="none" stroke="#fbfbff" stroke-width="1.9"/>
<path d="M898.7,8.9 904.7,18.1 910.4,27.3 915.8,36.6 920.8,45.8 925.4,55 929.6,64.2 933.5,73.4 937,82.7 940.1,91.9 942.9,101.1 945.3,110.3 947.4,119.5 949,128.8 950.3,138 951.3,147.2 951.8,156.4 952,165.6 951.9,174.9 951.3,184.1 950.4,193.3 949.1,202.5 947.5,211.7 945.5,220.9 943.1,230.2 940.4,239.4 937.3,248.6 933.8,257.8 929.9,267 925.7,276.3 921.1,285.5 916.2,294.7 910.9,303.9 905.2,313.1 899.1,322.4 892.7,331.6 885.9,340.8 878.8,350 871.3,359.2 863.4,368.5 855.1,377.7 846.5,386.9" fill="none" stroke="#fbfbff" stroke-width="1.9"/>
<path d="M935.1,8.9 941,18.1 946.5,27.3 951.6,36.6 956.4,45.8 960.8,55 964.9,64.2 968.6,73.4 971.9,82.7 974.9,91.9 977.4,101.1 979.7,110.3 981.5,119.5 983,128.8 984.1,138 984.9,147.2 985.2,156.4 985.2,165.6 984.9,174.9 984.2,184.1 983.1,193.3 981.6,202.5 979.8,211.7 977.6,220.9 975,230.2 972.1,239.4 968.8,248.6 965.1,257.8 961.1,267 956.7,276.3 951.9,285.5 946.8,294.7 941.3,303.9 935.4,313.1 929.2,322.4 922.6,331.6 915.6,340.8 908.2,350 900.5,359.2 892.5,368.5 884,377.7 875.2,386.9" fill="none" stroke="#fbfbff" stroke-width="1.9"/>
<path d="M971.5,8.9 977.2,18.1 982.5,27.3 987.5,36.6 992.1,45.8 996.3,55 1000.2,64.2 1003.7,73.4 1006.8,82.7 1009.6,91.9 1012,101.1 1014,110.3 1015.7,119.5 1017,128.8 1017.9,138 1018.4,147.2 1018.6,156.4 1018.5,165.6 1017.9,174.9 1017,184.1 1015.7,193.3 1014.1,202.5 1012.1,211.7 1009.7,220.9 1006.9,230.2 1003.8,239.4 1000.3,248.6 996.5,257.8 992.2,267 987.7,276.3 982.7,285.5 977.4,294.7 971.7,303.9 965.6,313.1 959.2,322.4 952.4,331.6 945.2,340.8 937.7,350 929.8,359.2 921.5,368.5 912.9,377.7 903.9,386.9" fill="none" stroke="#fbfbff" stroke-width="1.9"/>
</g>
<rect x="545.5" y="7.5" width="380" height="381" fill="none" stroke="#8c8c8c" stroke-width="1"/>
<path d="M555.3,388.5v-2.6M555.3,7.5v2.6M567.5,388.5v-3.8M567.5,7.5v3.8M579.6,388.5v-2.6M579.6,7.5v2.6M591.8,388.5v-2.6M591.8,7.5v2.6M603.9,388.5v-2.6M603.9,7.5v2.6M616.1,388.5v-2.6M616.1,7.5v2.6M628.2,388.5v-3.8M628.2,7.5v3.8M640.4,388.5v-2.6M640.4,7.5v2.6M652.6,388.5v-2.6M652.6,7.5v2.6M664.7,388.5v-2.6M664.7,7.5v2.6M676.9,388.5v-2.6M676.9,7.5v2.6M689,388.5v-3.8M689,7.5v3.8M701.2,388.5v-2.6M701.2,7.5v2.6M713.4,388.5v-2.6M713.4,7.5v2.6M725.5,388.5v-2.6M725.5,7.5v2.6M737.7,388.5v-2.6M737.7,7.5v2.6M749.9,388.5v-3.8M749.9,7.5v3.8M762,388.5v-2.6M762,7.5v2.6M774.2,388.5v-2.6M774.2,7.5v2.6M786.3,388.5v-2.6M786.3,7.5v2.6M798.5,388.5v-2.6M798.5,7.5v2.6M810.6,388.5v-3.8M810.6,7.5v3.8M822.8,388.5v-2.6M822.8,7.5v2.6M835,388.5v-2.6M835,7.5v2.6M847.1,388.5v-2.6M847.1,7.5v2.6M859.3,388.5v-2.6M859.3,7.5v2.6M871.5,388.5v-3.8M871.5,7.5v3.8M883.6,388.5v-2.6M883.6,7.5v2.6M895.8,388.5v-2.6M895.8,7.5v2.6M907.9,388.5v-2.6M907.9,7.5v2.6M920.1,388.5v-2.6M920.1,7.5v2.6M545.5,380.8h3.6M925.5,380.8h-3.6M545.5,365.6h2.3M925.5,365.6h-2.3M545.5,350.3h2.3M925.5,350.3h-2.3M545.5,335.1h2.3M925.5,335.1h-2.3M545.5,319.8h3.6M925.5,319.8h-3.6M545.5,304.6h2.3M925.5,304.6h-2.3M545.5,289.4h2.3M925.5,289.4h-2.3M545.5,274.1h2.3M925.5,274.1h-2.3M545.5,258.9h3.6M925.5,258.9h-3.6M545.5,243.6h2.3M925.5,243.6h-2.3M545.5,228.4h2.3M925.5,228.4h-2.3M545.5,213.1h2.3M925.5,213.1h-2.3M545.5,197.9h3.6M925.5,197.9h-3.6M545.5,182.7h2.3M925.5,182.7h-2.3M545.5,167.4h2.3M925.5,167.4h-2.3M545.5,152.2h2.3M925.5,152.2h-2.3M545.5,136.9h3.6M925.5,136.9h-3.6M545.5,121.7h2.3M925.5,121.7h-2.3M545.5,106.5h2.3M925.5,106.5h-2.3M545.5,91.2h2.3M925.5,91.2h-2.3M545.5,76h3.6M925.5,76h-3.6M545.5,60.7h2.3M925.5,60.7h-2.3M545.5,45.5h2.3M925.5,45.5h-2.3M545.5,30.2h2.3M925.5,30.2h-2.3M545.5,15h3.6M925.5,15h-3.6" stroke="#8c8c8c" stroke-width="1" fill="none"/>
<text x="567.2" y="403" font-size="11.6" fill="#595959" stroke="#595959" stroke-width="0.22" text-anchor="middle">−<tspan dx="0.9">40</tspan></text>
<text x="628" y="403" font-size="11.6" fill="#595959" stroke="#595959" stroke-width="0.22" text-anchor="middle">−<tspan dx="0.9">35</tspan></text>
<text x="688.8" y="403" font-size="11.6" fill="#595959" stroke="#595959" stroke-width="0.22" text-anchor="middle">−<tspan dx="0.9">30</tspan></text>
<text x="749.6" y="403" font-size="11.6" fill="#595959" stroke="#595959" stroke-width="0.22" text-anchor="middle">−<tspan dx="0.9">25</tspan></text>
<text x="810.4" y="403" font-size="11.6" fill="#595959" stroke="#595959" stroke-width="0.22" text-anchor="middle">−<tspan dx="0.9">20</tspan></text>
<text x="871.2" y="403" font-size="11.6" fill="#595959" stroke="#595959" stroke-width="0.22" text-anchor="middle">−<tspan dx="0.9">15</tspan></text>
<text x="541.8" y="19.2" font-size="11.6" fill="#595959" stroke="#595959" stroke-width="0.22" text-anchor="end">6</text>
<text x="541.8" y="80.2" font-size="11.6" fill="#595959" stroke="#595959" stroke-width="0.22" text-anchor="end">4</text>
<text x="541.8" y="141.1" font-size="11.6" fill="#595959" stroke="#595959" stroke-width="0.22" text-anchor="end">2</text>
<text x="541.8" y="202.1" font-size="11.6" fill="#595959" stroke="#595959" stroke-width="0.22" text-anchor="end">0</text>
<text x="541.8" y="263.1" font-size="11.6" fill="#595959" stroke="#595959" stroke-width="0.22" text-anchor="end">−<tspan dx="0.9">2</tspan></text>
<text x="541.8" y="324" font-size="11.6" fill="#595959" stroke="#595959" stroke-width="0.22" text-anchor="end">−<tspan dx="0.9">4</tspan></text>
<text x="541.8" y="385" font-size="11.6" fill="#595959" stroke="#595959" stroke-width="0.22" text-anchor="end">−<tspan dx="0.9">6</tspan></text>
<text x="735.3" y="421" font-size="11.3" letter-spacing="0.15" fill="#595959" stroke="#595959" stroke-width="0.22" text-anchor="middle">time (fs)</text>
<text transform="translate(520.3,198) rotate(-90)" font-size="11.3" letter-spacing="0.25" fill="#595959" stroke="#595959" stroke-width="0.22" text-anchor="middle">x (<tspan font-style="italic">μ</tspan>m)</text>
<rect x="464.8" y="7" width="65" height="66" fill="#5a9ad4"/>
<text x="497.3" y="54.6" font-size="42" fill="#fff" text-anchor="middle" style="font-family:'Liberation Serif',serif">b</text>
</svg></body></html>
